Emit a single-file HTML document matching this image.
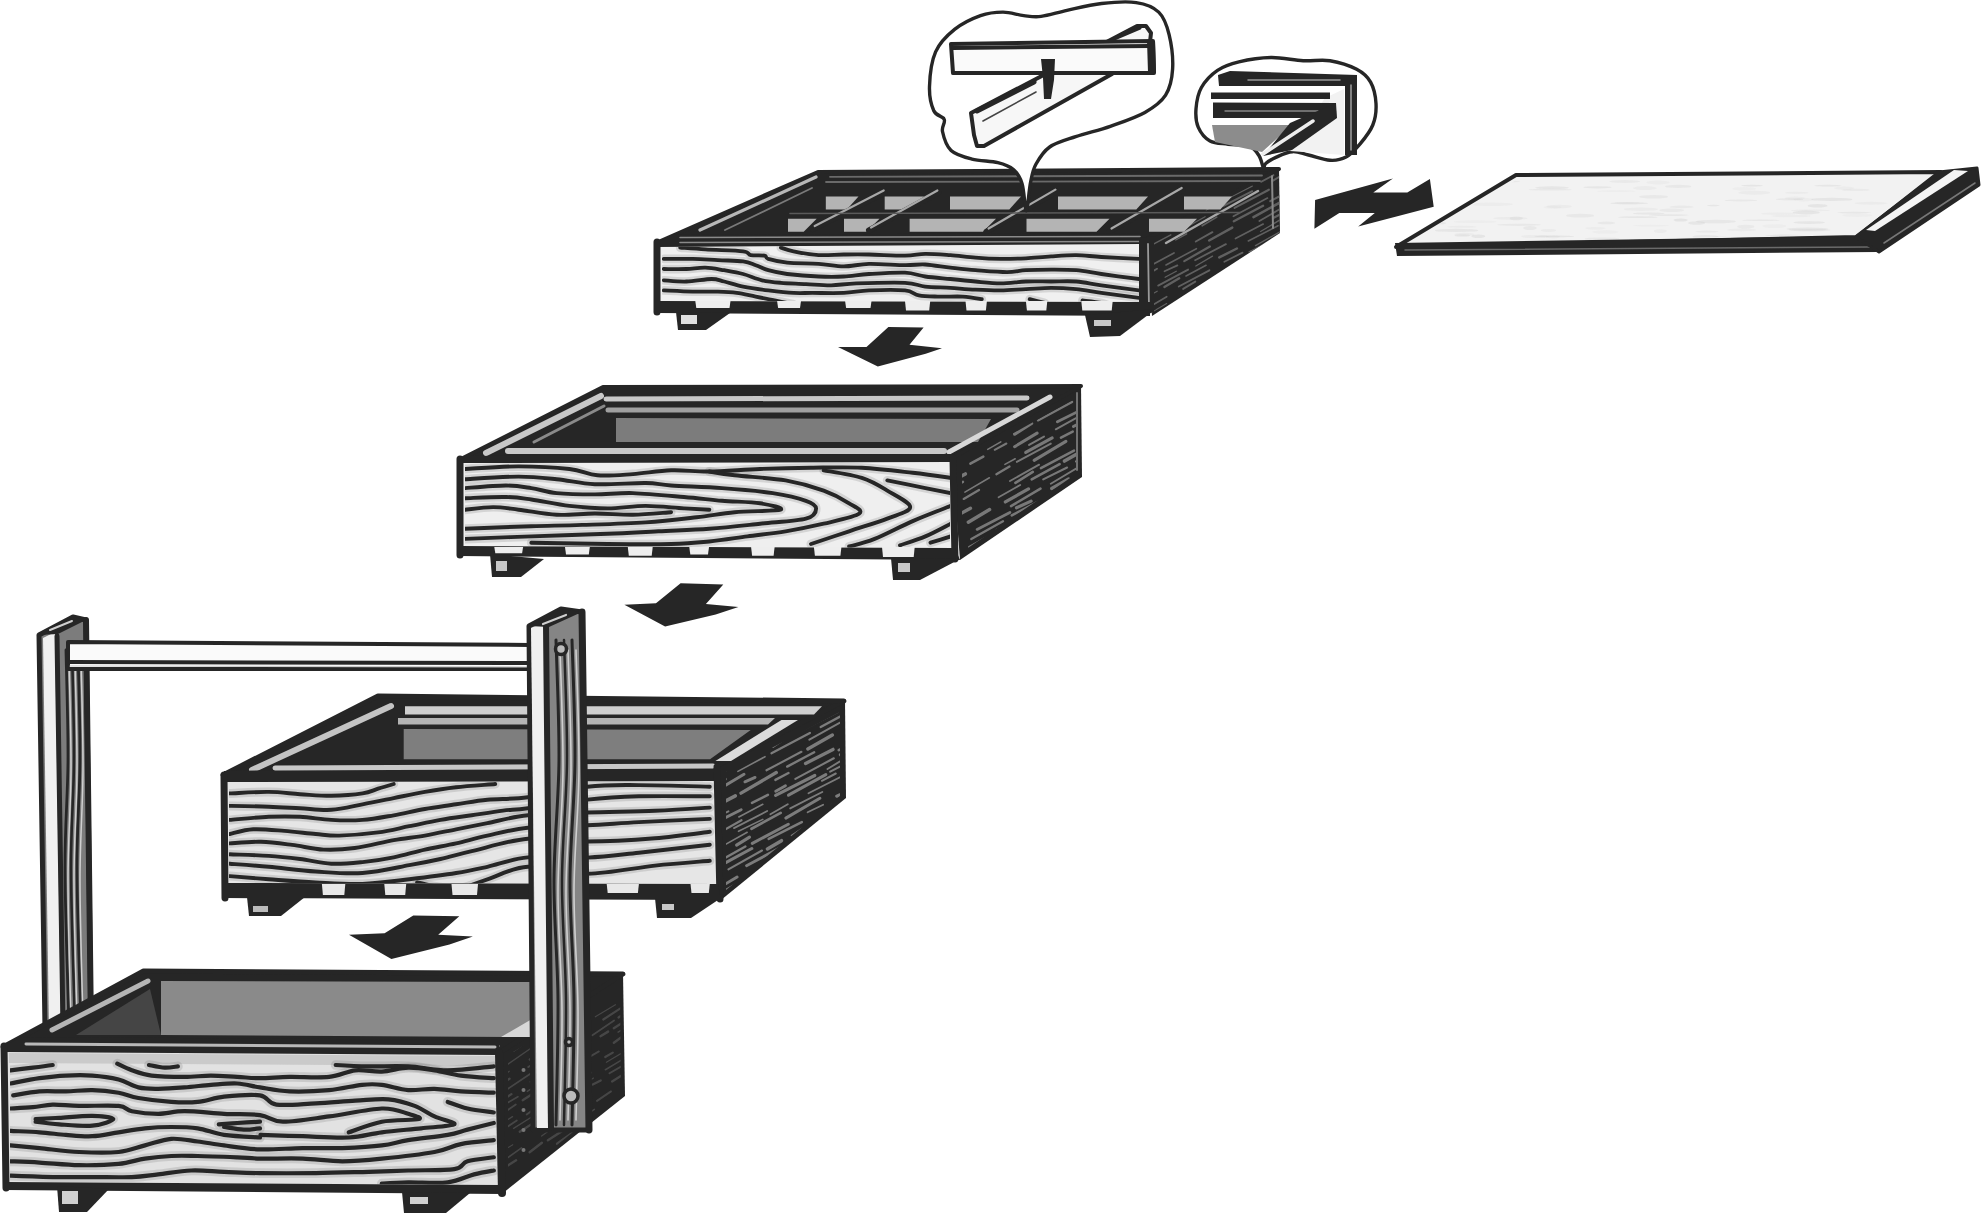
<!DOCTYPE html>
<html><head><meta charset="utf-8"><title>Box assembly</title>
<style>html,body{margin:0;padding:0;background:#fff;overflow:hidden;} svg{display:block;}</style>
</head><body>
<svg width="1986" height="1214" viewBox="0 0 1986 1214">
<defs><clipPath id="b1r"><polygon points="1147.0,237.0 1279.0,168.0 1280.0,233.0 1152.0,316.0"/></clipPath><clipPath id="b1f"><polygon points="662.0,247.0 1139.0,244.0 1139.0,302.0 662.0,301.0"/></clipPath><clipPath id="lidc"><polygon points="1520.0,178.0 1936.0,175.0 1853.0,234.0 1404.0,244.0"/></clipPath><clipPath id="b2r"><polygon points="962.0,462.0 1076.0,398.0 1076.0,474.0 962.0,552.0"/></clipPath><clipPath id="b2f"><polygon points="465.0,463.5 950.0,462.5 950.0,548.0 465.0,546.0"/></clipPath><clipPath id="b3r"><polygon points="726.0,772.0 840.0,712.0 840.0,796.0 726.0,890.0"/></clipPath><clipPath id="b3f"><polygon points="229.0,782.0 716.0,781.0 716.0,884.0 229.0,883.0"/></clipPath><clipPath id="b4r"><polygon points="508.0,1055.0 620.0,988.0 621.0,1093.0 508.0,1185.0"/></clipPath><clipPath id="b4f"><polygon points="10.0,1053.0 496.0,1056.0 497.0,1185.0 10.0,1182.0"/></clipPath></defs>
<rect width="1986" height="1214" fill="#ffffff"/>
<polygon points="1147.0,237.0 1279.0,168.0 1280.0,233.0 1152.0,316.0" fill="#262626" stroke="none" stroke-width="0" stroke-linejoin="round" />
<g clip-path="url(#b1r)" opacity="0.8" fill="none"><path d="M1136.4,97.3 L1160.0,84.8" stroke="#707070" stroke-width="1.3" stroke-linecap="round"/><path d="M1218.3,53.8 L1229.6,47.5" stroke="#707070" stroke-width="1.1" stroke-linecap="round"/><path d="M1239.1,42.3 L1273.8,22.6" stroke="#707070" stroke-width="1.1" stroke-linecap="round"/><path d="M1148.2,97.0 L1162.0,89.5" stroke="#707070" stroke-width="2.3" stroke-linecap="round"/><path d="M1170.4,85.4 L1192.9,72.9" stroke="#707070" stroke-width="1.5" stroke-linecap="round"/><path d="M1265.5,33.5 L1293.0,18.2" stroke="#707070" stroke-width="2.2" stroke-linecap="round"/><path d="M1181.5,84.0 L1202.7,73.6" stroke="#707070" stroke-width="2.2" stroke-linecap="round"/><path d="M1224.3,62.7 L1240.3,53.7" stroke="#707070" stroke-width="1.2" stroke-linecap="round"/><path d="M1245.8,50.7 L1261.1,41.3" stroke="#707070" stroke-width="1.9" stroke-linecap="round"/><path d="M1267.0,38.0 L1287.6,28.0" stroke="#707070" stroke-width="1.2" stroke-linecap="round"/><path d="M1181.0,90.5 L1197.9,82.4" stroke="#707070" stroke-width="2.0" stroke-linecap="round"/><path d="M1217.8,70.5 L1229.2,65.3" stroke="#707070" stroke-width="1.6" stroke-linecap="round"/><path d="M1251.1,53.2 L1267.7,43.6" stroke="#707070" stroke-width="1.9" stroke-linecap="round"/><path d="M1132.8,123.5 L1164.5,106.3" stroke="#707070" stroke-width="1.4" stroke-linecap="round"/><path d="M1238.0,65.1 L1262.7,53.6" stroke="#707070" stroke-width="1.4" stroke-linecap="round"/><path d="M1141.2,123.9 L1154.6,117.4" stroke="#707070" stroke-width="2.3" stroke-linecap="round"/><path d="M1205.7,89.7 L1219.9,81.2" stroke="#707070" stroke-width="1.3" stroke-linecap="round"/><path d="M1224.2,79.5 L1242.7,70.6" stroke="#707070" stroke-width="2.5" stroke-linecap="round"/><path d="M1257.0,61.4 L1283.2,47.1" stroke="#707070" stroke-width="1.1" stroke-linecap="round"/><path d="M1129.0,138.5 L1163.2,120.6" stroke="#707070" stroke-width="1.5" stroke-linecap="round"/><path d="M1167.6,118.2 L1202.8,99.6" stroke="#707070" stroke-width="2.1" stroke-linecap="round"/><path d="M1137.5,141.5 L1167.2,125.1" stroke="#707070" stroke-width="1.9" stroke-linecap="round"/><path d="M1186.7,115.8 L1211.6,102.1" stroke="#707070" stroke-width="2.1" stroke-linecap="round"/><path d="M1217.0,98.3 L1236.1,88.9" stroke="#707070" stroke-width="1.2" stroke-linecap="round"/><path d="M1253.3,78.9 L1282.0,63.0" stroke="#707070" stroke-width="2.1" stroke-linecap="round"/><path d="M1131.6,150.1 L1164.7,133.0" stroke="#707070" stroke-width="1.4" stroke-linecap="round"/><path d="M1173.3,127.9 L1186.6,121.6" stroke="#707070" stroke-width="1.6" stroke-linecap="round"/><path d="M1206.9,110.5 L1233.3,96.5" stroke="#707070" stroke-width="2.3" stroke-linecap="round"/><path d="M1240.8,90.9 L1259.8,81.4" stroke="#707070" stroke-width="2.3" stroke-linecap="round"/><path d="M1144.9,148.3 L1165.6,137.6" stroke="#707070" stroke-width="1.8" stroke-linecap="round"/><path d="M1210.8,113.7 L1231.6,100.9" stroke="#707070" stroke-width="2.1" stroke-linecap="round"/><path d="M1270.4,80.0 L1279.7,76.6" stroke="#707070" stroke-width="1.4" stroke-linecap="round"/><path d="M1148.6,151.5 L1174.0,138.1" stroke="#707070" stroke-width="2.5" stroke-linecap="round"/><path d="M1186.1,130.4 L1212.9,115.6" stroke="#707070" stroke-width="1.8" stroke-linecap="round"/><path d="M1220.5,112.2 L1248.2,98.0" stroke="#707070" stroke-width="1.8" stroke-linecap="round"/><path d="M1255.4,94.3 L1280.5,81.0" stroke="#707070" stroke-width="1.2" stroke-linecap="round"/><path d="M1128.3,170.5 L1140.6,162.8" stroke="#707070" stroke-width="1.9" stroke-linecap="round"/><path d="M1203.1,129.9 L1224.2,118.7" stroke="#707070" stroke-width="2.0" stroke-linecap="round"/><path d="M1275.5,91.0 L1310.2,71.4" stroke="#707070" stroke-width="2.4" stroke-linecap="round"/><path d="M1139.5,171.5 L1150.5,165.0" stroke="#707070" stroke-width="1.1" stroke-linecap="round"/><path d="M1221.2,127.4 L1233.7,120.9" stroke="#707070" stroke-width="2.1" stroke-linecap="round"/><path d="M1143.4,173.7 L1166.1,161.2" stroke="#707070" stroke-width="2.3" stroke-linecap="round"/><path d="M1175.3,156.9 L1198.9,144.3" stroke="#707070" stroke-width="1.4" stroke-linecap="round"/><path d="M1208.5,138.4 L1239.8,120.9" stroke="#707070" stroke-width="1.9" stroke-linecap="round"/><path d="M1261.2,110.9 L1283.3,98.1" stroke="#707070" stroke-width="1.7" stroke-linecap="round"/><path d="M1133.1,186.1 L1154.9,174.1" stroke="#707070" stroke-width="2.5" stroke-linecap="round"/><path d="M1171.3,164.7 L1204.5,147.4" stroke="#707070" stroke-width="2.3" stroke-linecap="round"/><path d="M1213.4,142.1 L1246.0,125.4" stroke="#707070" stroke-width="2.4" stroke-linecap="round"/><path d="M1258.5,117.8 L1270.8,111.3" stroke="#707070" stroke-width="2.1" stroke-linecap="round"/><path d="M1139.3,187.2 L1164.5,174.4" stroke="#707070" stroke-width="1.4" stroke-linecap="round"/><path d="M1170.4,171.0 L1184.4,163.5" stroke="#707070" stroke-width="1.8" stroke-linecap="round"/><path d="M1198.0,156.7 L1211.0,149.5" stroke="#707070" stroke-width="2.3" stroke-linecap="round"/><path d="M1218.7,145.7 L1243.6,132.4" stroke="#707070" stroke-width="2.4" stroke-linecap="round"/><path d="M1120.0,203.8 L1152.3,185.5" stroke="#707070" stroke-width="1.2" stroke-linecap="round"/><path d="M1201.1,158.8 L1213.2,152.6" stroke="#707070" stroke-width="2.1" stroke-linecap="round"/><path d="M1224.5,147.1 L1257.3,129.9" stroke="#707070" stroke-width="1.8" stroke-linecap="round"/><path d="M1278.8,117.1 L1305.7,102.5" stroke="#707070" stroke-width="1.9" stroke-linecap="round"/><path d="M1132.9,203.2 L1145.6,196.6" stroke="#707070" stroke-width="2.4" stroke-linecap="round"/><path d="M1169.4,182.8 L1190.4,171.6" stroke="#707070" stroke-width="1.7" stroke-linecap="round"/><path d="M1208.1,162.7 L1232.8,148.0" stroke="#707070" stroke-width="1.7" stroke-linecap="round"/><path d="M1237.1,145.7 L1265.4,131.2" stroke="#707070" stroke-width="1.1" stroke-linecap="round"/><path d="M1276.7,125.8 L1309.1,107.9" stroke="#707070" stroke-width="1.7" stroke-linecap="round"/><path d="M1134.9,208.6 L1169.6,189.6" stroke="#707070" stroke-width="2.2" stroke-linecap="round"/><path d="M1278.3,129.7 L1307.3,114.6" stroke="#707070" stroke-width="1.8" stroke-linecap="round"/><path d="M1139.3,210.5 L1165.0,196.1" stroke="#707070" stroke-width="1.6" stroke-linecap="round"/><path d="M1180.2,187.4 L1206.5,174.5" stroke="#707070" stroke-width="2.0" stroke-linecap="round"/><path d="M1265.8,141.1 L1275.2,136.3" stroke="#707070" stroke-width="1.2" stroke-linecap="round"/><path d="M1195.1,185.1 L1218.9,170.8" stroke="#707070" stroke-width="1.9" stroke-linecap="round"/><path d="M1274.5,141.7 L1287.5,134.9" stroke="#707070" stroke-width="1.2" stroke-linecap="round"/><path d="M1137.4,222.8 L1160.1,211.3" stroke="#707070" stroke-width="1.9" stroke-linecap="round"/><path d="M1174.9,202.0 L1191.2,193.7" stroke="#707070" stroke-width="1.1" stroke-linecap="round"/><path d="M1208.1,185.9 L1221.0,178.7" stroke="#707070" stroke-width="1.2" stroke-linecap="round"/><path d="M1238.6,169.5 L1273.5,149.7" stroke="#707070" stroke-width="1.8" stroke-linecap="round"/><path d="M1142.7,228.0 L1165.3,216.8" stroke="#707070" stroke-width="2.3" stroke-linecap="round"/><path d="M1186.2,204.5 L1210.9,190.7" stroke="#707070" stroke-width="1.2" stroke-linecap="round"/><path d="M1217.0,188.3 L1239.8,175.7" stroke="#707070" stroke-width="1.5" stroke-linecap="round"/><path d="M1120.1,245.5 L1154.0,228.8" stroke="#707070" stroke-width="2.2" stroke-linecap="round"/><path d="M1171.3,219.1 L1196.6,205.3" stroke="#707070" stroke-width="1.9" stroke-linecap="round"/><path d="M1207.0,199.0 L1232.6,186.7" stroke="#707070" stroke-width="2.4" stroke-linecap="round"/><path d="M1250.1,175.8 L1282.1,158.9" stroke="#707070" stroke-width="2.0" stroke-linecap="round"/><path d="M1133.8,243.6 L1144.5,238.0" stroke="#707070" stroke-width="1.6" stroke-linecap="round"/><path d="M1150.0,235.2 L1171.5,223.9" stroke="#707070" stroke-width="1.2" stroke-linecap="round"/><path d="M1179.3,219.6 L1191.2,212.0" stroke="#707070" stroke-width="1.7" stroke-linecap="round"/><path d="M1209.8,202.9 L1225.4,195.1" stroke="#707070" stroke-width="1.5" stroke-linecap="round"/><path d="M1138.9,245.6 L1150.3,240.5" stroke="#707070" stroke-width="1.8" stroke-linecap="round"/><path d="M1206.3,209.3 L1217.1,204.0" stroke="#707070" stroke-width="2.1" stroke-linecap="round"/><path d="M1225.0,199.8 L1252.1,186.0" stroke="#707070" stroke-width="1.6" stroke-linecap="round"/><path d="M1261.2,181.5 L1273.1,175.1" stroke="#707070" stroke-width="2.4" stroke-linecap="round"/><path d="M1125.9,260.1 L1142.8,251.0" stroke="#707070" stroke-width="1.4" stroke-linecap="round"/><path d="M1152.5,244.7 L1170.8,234.8" stroke="#707070" stroke-width="1.4" stroke-linecap="round"/><path d="M1181.4,230.0 L1205.1,216.7" stroke="#707070" stroke-width="1.3" stroke-linecap="round"/><path d="M1223.5,205.8 L1252.3,191.2" stroke="#707070" stroke-width="1.9" stroke-linecap="round"/><path d="M1272.2,181.1 L1296.0,166.8" stroke="#707070" stroke-width="1.9" stroke-linecap="round"/><path d="M1175.7,240.0 L1186.7,233.8" stroke="#707070" stroke-width="1.4" stroke-linecap="round"/><path d="M1202.2,225.8 L1216.8,217.1" stroke="#707070" stroke-width="1.6" stroke-linecap="round"/><path d="M1234.6,207.9 L1268.9,189.7" stroke="#707070" stroke-width="2.1" stroke-linecap="round"/><path d="M1233.4,216.3 L1267.5,198.1" stroke="#707070" stroke-width="1.7" stroke-linecap="round"/><path d="M1145.6,268.2 L1174.0,253.0" stroke="#707070" stroke-width="1.7" stroke-linecap="round"/><path d="M1195.8,241.5 L1212.4,232.2" stroke="#707070" stroke-width="2.0" stroke-linecap="round"/><path d="M1233.8,221.3 L1263.1,205.8" stroke="#707070" stroke-width="2.4" stroke-linecap="round"/><path d="M1270.3,201.2 L1280.1,195.9" stroke="#707070" stroke-width="2.1" stroke-linecap="round"/><path d="M1143.3,277.0 L1157.0,268.7" stroke="#707070" stroke-width="1.9" stroke-linecap="round"/><path d="M1166.0,265.0 L1196.4,248.7" stroke="#707070" stroke-width="1.6" stroke-linecap="round"/><path d="M1209.1,240.5 L1232.3,227.6" stroke="#707070" stroke-width="2.4" stroke-linecap="round"/><path d="M1253.5,217.2 L1283.5,200.5" stroke="#707070" stroke-width="2.5" stroke-linecap="round"/><path d="M1142.9,283.9 L1152.0,278.8" stroke="#707070" stroke-width="2.0" stroke-linecap="round"/><path d="M1164.5,271.2 L1177.4,265.4" stroke="#707070" stroke-width="1.8" stroke-linecap="round"/><path d="M1184.3,261.1 L1209.9,246.5" stroke="#707070" stroke-width="2.2" stroke-linecap="round"/><path d="M1259.4,221.0 L1289.9,203.3" stroke="#707070" stroke-width="1.8" stroke-linecap="round"/><path d="M1121.3,301.3 L1145.6,287.5" stroke="#707070" stroke-width="2.4" stroke-linecap="round"/><path d="M1165.1,277.3 L1176.3,271.2" stroke="#707070" stroke-width="1.3" stroke-linecap="round"/><path d="M1195.1,260.2 L1225.9,244.1" stroke="#707070" stroke-width="1.8" stroke-linecap="round"/><path d="M1235.5,238.5 L1263.2,224.1" stroke="#707070" stroke-width="1.7" stroke-linecap="round"/><path d="M1273.7,217.7 L1308.0,200.0" stroke="#707070" stroke-width="2.1" stroke-linecap="round"/><path d="M1158.2,285.6 L1188.1,269.6" stroke="#707070" stroke-width="1.9" stroke-linecap="round"/><path d="M1195.8,266.0 L1212.5,256.2" stroke="#707070" stroke-width="1.4" stroke-linecap="round"/><path d="M1260.6,231.5 L1284.3,217.3" stroke="#707070" stroke-width="1.3" stroke-linecap="round"/><path d="M1129.7,306.5 L1157.2,291.2" stroke="#707070" stroke-width="1.2" stroke-linecap="round"/><path d="M1164.4,287.0 L1179.2,278.3" stroke="#707070" stroke-width="2.4" stroke-linecap="round"/><path d="M1186.0,276.0 L1206.1,265.3" stroke="#707070" stroke-width="1.6" stroke-linecap="round"/><path d="M1219.3,257.4 L1236.9,248.5" stroke="#707070" stroke-width="2.5" stroke-linecap="round"/><path d="M1248.3,241.0 L1278.0,225.7" stroke="#707070" stroke-width="1.6" stroke-linecap="round"/><path d="M1178.8,286.5 L1209.4,270.3" stroke="#707070" stroke-width="1.9" stroke-linecap="round"/><path d="M1224.4,261.8 L1242.5,252.6" stroke="#707070" stroke-width="1.8" stroke-linecap="round"/><path d="M1255.5,245.6 L1283.2,230.0" stroke="#707070" stroke-width="1.4" stroke-linecap="round"/><path d="M1142.7,310.8 L1166.7,296.7" stroke="#707070" stroke-width="1.7" stroke-linecap="round"/><path d="M1183.2,288.9 L1195.3,281.6" stroke="#707070" stroke-width="1.9" stroke-linecap="round"/><path d="M1249.2,251.8 L1284.2,234.3" stroke="#707070" stroke-width="1.5" stroke-linecap="round"/><path d="M1142.8,317.4 L1166.7,303.5" stroke="#707070" stroke-width="1.1" stroke-linecap="round"/><path d="M1221.0,275.6 L1247.2,260.8" stroke="#707070" stroke-width="1.9" stroke-linecap="round"/><path d="M1256.7,255.9 L1286.8,239.0" stroke="#707070" stroke-width="1.6" stroke-linecap="round"/><path d="M1144.8,322.1 L1167.3,310.6" stroke="#707070" stroke-width="1.1" stroke-linecap="round"/><path d="M1209.2,288.0 L1233.9,274.9" stroke="#707070" stroke-width="2.2" stroke-linecap="round"/><path d="M1124.3,341.5 L1144.0,330.2" stroke="#707070" stroke-width="1.8" stroke-linecap="round"/><path d="M1155.8,322.9 L1176.0,313.3" stroke="#707070" stroke-width="2.4" stroke-linecap="round"/><path d="M1239.2,278.1 L1256.0,269.7" stroke="#707070" stroke-width="1.8" stroke-linecap="round"/><path d="M1270.7,261.9 L1290.0,251.0" stroke="#707070" stroke-width="1.5" stroke-linecap="round"/><path d="M1173.9,320.2 L1200.3,304.8" stroke="#707070" stroke-width="2.2" stroke-linecap="round"/><path d="M1219.9,295.4 L1243.7,281.3" stroke="#707070" stroke-width="1.9" stroke-linecap="round"/><path d="M1264.0,270.7 L1297.9,252.5" stroke="#707070" stroke-width="1.2" stroke-linecap="round"/><path d="M1125.5,352.2 L1144.8,341.8" stroke="#707070" stroke-width="2.4" stroke-linecap="round"/><path d="M1185.2,320.6 L1219.8,303.2" stroke="#707070" stroke-width="2.4" stroke-linecap="round"/><path d="M1232.3,295.5 L1246.3,287.4" stroke="#707070" stroke-width="2.3" stroke-linecap="round"/><path d="M1265.3,277.2 L1300.4,259.7" stroke="#707070" stroke-width="1.2" stroke-linecap="round"/><path d="M1165.5,337.0 L1193.1,321.1" stroke="#707070" stroke-width="1.2" stroke-linecap="round"/><path d="M1199.6,317.2 L1214.3,309.2" stroke="#707070" stroke-width="1.4" stroke-linecap="round"/><path d="M1223.8,305.1 L1250.2,291.3" stroke="#707070" stroke-width="1.9" stroke-linecap="round"/><path d="M1173.0,337.8 L1193.5,327.9" stroke="#707070" stroke-width="1.5" stroke-linecap="round"/><path d="M1207.0,320.0 L1222.4,312.6" stroke="#707070" stroke-width="1.4" stroke-linecap="round"/><path d="M1240.9,303.0 L1257.0,294.4" stroke="#707070" stroke-width="1.1" stroke-linecap="round"/><path d="M1270.9,286.8 L1291.9,274.7" stroke="#707070" stroke-width="1.3" stroke-linecap="round"/><path d="M1240.6,308.7 L1254.0,300.8" stroke="#707070" stroke-width="1.7" stroke-linecap="round"/><path d="M1135.3,369.3 L1150.0,362.5" stroke="#707070" stroke-width="2.1" stroke-linecap="round"/><path d="M1164.4,353.9 L1188.3,340.7" stroke="#707070" stroke-width="1.8" stroke-linecap="round"/><path d="M1208.1,331.7 L1228.3,319.3" stroke="#707070" stroke-width="2.4" stroke-linecap="round"/><path d="M1277.9,292.6 L1293.0,285.0" stroke="#707070" stroke-width="2.0" stroke-linecap="round"/><path d="M1172.0,357.0 L1185.3,350.1" stroke="#707070" stroke-width="2.2" stroke-linecap="round"/><path d="M1193.9,344.2 L1204.3,340.1" stroke="#707070" stroke-width="1.1" stroke-linecap="round"/><path d="M1255.2,310.9 L1267.8,304.5" stroke="#707070" stroke-width="2.4" stroke-linecap="round"/><path d="M1280.0,298.3 L1292.5,290.8" stroke="#707070" stroke-width="1.1" stroke-linecap="round"/><path d="M1127.1,388.7 L1155.3,372.9" stroke="#707070" stroke-width="1.7" stroke-linecap="round"/><path d="M1163.4,369.9 L1196.9,351.2" stroke="#707070" stroke-width="1.1" stroke-linecap="round"/><path d="M1207.4,345.0 L1226.9,335.2" stroke="#707070" stroke-width="2.3" stroke-linecap="round"/><path d="M1242.6,326.2 L1267.0,313.9" stroke="#707070" stroke-width="1.6" stroke-linecap="round"/><path d="M1143.5,386.0 L1161.5,376.4" stroke="#707070" stroke-width="1.4" stroke-linecap="round"/><path d="M1168.8,374.1 L1190.0,362.1" stroke="#707070" stroke-width="2.3" stroke-linecap="round"/><path d="M1199.5,356.9 L1213.7,348.6" stroke="#707070" stroke-width="1.5" stroke-linecap="round"/><path d="M1224.6,342.8 L1233.9,338.9" stroke="#707070" stroke-width="2.1" stroke-linecap="round"/><path d="M1241.2,335.0 L1257.1,325.3" stroke="#707070" stroke-width="2.2" stroke-linecap="round"/><path d="M1267.6,319.5 L1295.5,304.6" stroke="#707070" stroke-width="1.2" stroke-linecap="round"/><path d="M1140.2,395.7 L1169.4,379.6" stroke="#707070" stroke-width="1.1" stroke-linecap="round"/><path d="M1182.8,372.6 L1195.5,365.9" stroke="#707070" stroke-width="1.9" stroke-linecap="round"/><path d="M1210.3,358.6 L1222.7,351.8" stroke="#707070" stroke-width="1.3" stroke-linecap="round"/><path d="M1239.4,342.3 L1253.6,334.6" stroke="#707070" stroke-width="2.3" stroke-linecap="round"/><path d="M1262.6,329.4 L1277.4,321.1" stroke="#707070" stroke-width="1.1" stroke-linecap="round"/></g>
<polyline points="1166.0,243.0 1258.0,191.0" fill="none" stroke="#a8a8a8" stroke-width="2.5" stroke-linecap="round" stroke-linejoin="round" />
<polyline points="1272.0,176.0 1273.0,228.0" fill="none" stroke="#8a8a8a" stroke-width="2" stroke-linecap="round" stroke-linejoin="round" />
<polygon points="656.0,243.0 818.0,172.0 1279.0,169.0 1148.0,238.0" fill="#262626" stroke="#262626" stroke-width="4" stroke-linejoin="round" />
<polygon points="825.8,196.4 858.5,196.4 846.8,209.5 825.8,209.5" fill="#b4b4b4" stroke="none" stroke-width="0" stroke-linejoin="round" />
<polygon points="884.7,196.4 924.0,196.4 912.3,209.5 884.7,209.5" fill="#b4b4b4" stroke="none" stroke-width="0" stroke-linejoin="round" />
<polygon points="950.0,196.4 1021.0,196.4 1009.3,209.5 950.0,209.5" fill="#b4b4b4" stroke="none" stroke-width="0" stroke-linejoin="round" />
<polygon points="1058.0,196.4 1148.0,196.4 1136.3,209.5 1058.0,209.5" fill="#b4b4b4" stroke="none" stroke-width="0" stroke-linejoin="round" />
<polygon points="1184.0,196.4 1232.0,196.4 1220.3,209.5 1184.0,209.5" fill="#b4b4b4" stroke="none" stroke-width="0" stroke-linejoin="round" />
<polygon points="788.0,218.7 816.7,218.7 803.7,231.8 788.0,231.8" fill="#b4b4b4" stroke="none" stroke-width="0" stroke-linejoin="round" />
<polygon points="844.0,218.7 879.5,218.7 866.5,231.8 844.0,231.8" fill="#b4b4b4" stroke="none" stroke-width="0" stroke-linejoin="round" />
<polygon points="909.6,218.7 996.0,218.7 983.0,231.8 909.6,231.8" fill="#b4b4b4" stroke="none" stroke-width="0" stroke-linejoin="round" />
<polygon points="1026.5,218.7 1109.5,218.7 1096.5,231.8 1026.5,231.8" fill="#b4b4b4" stroke="none" stroke-width="0" stroke-linejoin="round" />
<polygon points="1149.0,218.7 1197.0,218.7 1184.0,231.8 1149.0,231.8" fill="#b4b4b4" stroke="none" stroke-width="0" stroke-linejoin="round" />
<polyline points="812.7,229.0 884.7,192.5" fill="none" stroke="#262626" stroke-width="6" stroke-linecap="round" stroke-linejoin="round" />
<polyline points="814.7,226.0 883.7,190.5" fill="none" stroke="#a8a8a8" stroke-width="2.2" stroke-linecap="round" stroke-linejoin="round" />
<polyline points="869.0,230.5 938.4,192.5" fill="none" stroke="#262626" stroke-width="6" stroke-linecap="round" stroke-linejoin="round" />
<polyline points="871.0,227.5 937.4,190.5" fill="none" stroke="#a8a8a8" stroke-width="2.2" stroke-linecap="round" stroke-linejoin="round" />
<polyline points="986.6,231.5 1056.4,191.6" fill="none" stroke="#262626" stroke-width="6" stroke-linecap="round" stroke-linejoin="round" />
<polyline points="988.6,228.5 1055.4,189.6" fill="none" stroke="#a8a8a8" stroke-width="2.2" stroke-linecap="round" stroke-linejoin="round" />
<polyline points="1109.5,231.5 1182.7,190.0" fill="none" stroke="#262626" stroke-width="6" stroke-linecap="round" stroke-linejoin="round" />
<polyline points="1111.5,228.5 1181.7,188.0" fill="none" stroke="#a8a8a8" stroke-width="2.2" stroke-linecap="round" stroke-linejoin="round" />
<polyline points="700.0,230.0 816.0,177.0" fill="none" stroke="#b8b8b8" stroke-width="3.2" stroke-linecap="round" stroke-linejoin="round" />
<polyline points="725.0,230.0 812.0,188.0" fill="none" stroke="#7a7a7a" stroke-width="1.8" stroke-linecap="round" stroke-linejoin="round" />
<polyline points="830.0,176.8 1262.0,175.5" fill="none" stroke="#6a6a6a" stroke-width="1.8" stroke-linecap="round" stroke-linejoin="round" />
<polyline points="826.0,182.0 1260.0,181.0" fill="none" stroke="#6a6a6a" stroke-width="1.8" stroke-linecap="round" stroke-linejoin="round" />
<polyline points="790.0,213.5 1240.0,212.5" fill="none" stroke="#5a5a5a" stroke-width="1.6" stroke-linecap="round" stroke-linejoin="round" />
<polygon points="657.0,242.0 672.0,235.0 1149.0,233.0 1149.0,248.0 657.0,250.0" fill="#262626" stroke="none" stroke-width="0" stroke-linejoin="round" />
<polyline points="680.0,237.5 1140.0,236.5" fill="none" stroke="#8a8a8a" stroke-width="1.6" stroke-linecap="round" stroke-linejoin="round" />
<polyline points="680.0,242.5 1140.0,241.5" fill="none" stroke="#8a8a8a" stroke-width="1.6" stroke-linecap="round" stroke-linejoin="round" />
<polygon points="657.0,247.0 1141.0,244.0 1141.0,302.0 657.0,301.0" fill="#f0f0f0" stroke="none" stroke-width="0" stroke-linejoin="round" />
<g clip-path="url(#b1f)" fill="none" stroke-linecap="round" stroke-linejoin="round"><path d="M780.9,247.6 C783.0,248.2 787.2,250.1 793.5,251.3 C799.8,252.6 810.3,254.6 818.6,255.1 C827.0,255.6 835.4,254.6 843.8,254.5 C852.2,254.4 858.8,254.3 869.0,254.5 C879.2,254.7 895.6,255.8 905.0,255.7 C914.4,255.6 917.6,254.0 925.2,253.8 C932.7,253.7 942.0,254.5 950.4,255.1 C958.7,255.7 967.1,257.0 975.5,257.6 C983.9,258.3 992.3,258.8 1000.7,258.9 C1009.1,259.0 1017.5,258.7 1025.9,258.3 C1034.3,257.8 1042.7,256.9 1051.1,256.4 C1059.4,255.8 1067.8,255.0 1076.2,255.1 C1084.6,255.2 1090.9,256.4 1101.4,257.0 C1111.9,257.6 1132.9,258.6 1139.2,258.9" stroke="#777" stroke-width="8.7" opacity="0.22"/><path d="M680.2,247.6 C684.4,247.9 694.9,248.8 705.4,249.4 C715.8,250.1 735.6,250.4 743.1,251.3 C750.7,252.3 747.1,254.4 750.7,255.1 C754.2,255.8 761.6,255.1 764.5,255.7 C767.5,256.4 764.5,257.7 768.3,258.9 C772.1,260.0 778.8,261.8 787.2,262.7 C795.6,263.5 809.2,263.3 818.6,263.9 C828.1,264.5 835.4,266.4 843.8,266.4 C852.2,266.4 858.8,264.1 869.0,263.9 C879.2,263.7 895.6,265.1 905.0,265.2 C914.4,265.3 917.6,264.1 925.2,264.5 C932.7,265.0 942.0,266.7 950.4,267.7 C958.7,268.6 966.1,269.5 975.5,270.2 C985.0,270.9 998.6,272.1 1007.0,272.1 C1015.4,272.1 1018.5,270.6 1025.9,270.2 C1033.2,269.8 1042.7,269.6 1051.1,269.6 C1059.4,269.6 1067.8,269.5 1076.2,270.2 C1084.6,270.9 1090.9,272.5 1101.4,274.0 C1111.9,275.5 1132.9,278.2 1139.2,279.0" stroke="#777" stroke-width="8.7" opacity="0.22"/><path d="M663.8,258.9 C668.6,258.9 683.7,258.7 692.8,258.9 C701.8,259.1 709.5,259.7 717.9,260.1 C726.3,260.6 736.8,260.6 743.1,261.4 C749.4,262.2 751.5,263.7 755.7,265.2 C759.9,266.6 763.0,268.7 768.3,270.2 C773.5,271.7 778.8,272.9 787.2,274.0 C795.6,275.0 809.2,276.1 818.6,276.5 C828.1,276.9 835.4,276.9 843.8,276.5 C852.2,276.1 858.8,274.6 869.0,274.0 C879.2,273.4 895.6,272.3 905.0,272.7 C914.4,273.1 917.6,275.5 925.2,276.5 C932.7,277.6 942.0,278.2 950.4,279.0 C958.7,279.9 967.1,280.8 975.5,281.5 C983.9,282.3 992.3,283.4 1000.7,283.4 C1009.1,283.4 1017.5,281.9 1025.9,281.5 C1034.3,281.2 1042.7,281.5 1051.1,281.5 C1059.4,281.5 1067.8,280.9 1076.2,281.5 C1084.6,282.2 1090.9,283.8 1101.4,285.3 C1111.9,286.8 1132.9,289.5 1139.2,290.4" stroke="#777" stroke-width="8.7" opacity="0.22"/><path d="M663.8,269.0 C667.6,269.0 679.5,269.2 686.5,269.0 C693.4,268.7 699.1,267.5 705.4,267.7 C711.6,267.9 717.9,269.2 724.2,270.2 C730.5,271.3 736.8,272.3 743.1,274.0 C749.4,275.7 755.7,278.8 762.0,280.3 C768.3,281.8 773.5,282.2 780.9,282.8 C788.2,283.4 797.7,283.6 806.1,284.1 C814.4,284.5 822.8,285.4 831.2,285.3 C839.6,285.2 844.1,283.8 856.4,283.4 C868.7,283.0 893.5,282.3 905.0,282.8 C916.5,283.3 917.6,285.7 925.2,286.6 C932.7,287.4 942.0,287.3 950.4,287.8 C958.7,288.4 967.1,289.3 975.5,289.7 C983.9,290.1 992.3,290.5 1000.7,290.4 C1009.1,290.2 1017.5,289.5 1025.9,289.1 C1034.3,288.7 1042.7,287.8 1051.1,287.8 C1059.4,287.8 1067.8,288.3 1076.2,289.1 C1084.6,289.9 1090.9,291.4 1101.4,292.9 C1111.9,294.3 1132.9,297.1 1139.2,297.9" stroke="#777" stroke-width="8.7" opacity="0.22"/><path d="M663.8,280.3 C667.6,280.5 678.5,281.8 686.5,281.5 C694.4,281.3 705.4,279.0 711.6,279.0 C717.9,279.0 719.0,280.3 724.2,281.5 C729.5,282.8 735.8,285.1 743.1,286.6 C750.5,288.0 759.9,289.3 768.3,290.4 C776.7,291.4 786.1,292.5 793.5,292.9 C800.8,293.3 804.0,292.9 812.4,292.9 C820.7,292.9 834.4,293.3 843.8,292.9 C853.3,292.5 858.8,290.8 869.0,290.4 C879.2,289.9 896.7,289.5 905.0,290.4 C913.3,291.2 913.4,294.3 918.9,295.4 C924.3,296.4 930.4,296.4 937.8,296.6 C945.1,296.9 955.6,296.2 962.9,296.6 C970.3,297.1 978.7,298.7 981.8,299.2" stroke="#777" stroke-width="8.7" opacity="0.22"/><path d="M663.8,290.4 C668.6,290.6 683.7,291.4 692.8,291.6 C701.8,291.8 710.6,291.4 717.9,291.6 C725.3,291.8 730.5,292.0 736.8,292.9 C743.1,293.7 749.4,295.4 755.7,296.6 C762.0,297.9 768.3,299.2 774.6,300.4 C780.9,301.7 790.3,303.6 793.5,304.2" stroke="#777" stroke-width="8.7" opacity="0.22"/><path d="M1082.5,300.4 C1085.7,300.8 1096.2,301.7 1101.4,302.9 C1106.7,304.2 1111.9,307.1 1114.0,308.0" stroke="#777" stroke-width="8.7" opacity="0.22"/><path d="M1029.7,299.2 C1032.2,299.8 1042.2,302.3 1044.8,302.9" stroke="#777" stroke-width="8.7" opacity="0.22"/></g>
<g clip-path="url(#b1f)" fill="none" stroke-linecap="round" stroke-linejoin="round"><path d="M780.9,247.6 C783.0,248.2 787.2,250.1 793.5,251.3 C799.8,252.6 810.3,254.6 818.6,255.1 C827.0,255.6 835.4,254.6 843.8,254.5 C852.2,254.4 858.8,254.3 869.0,254.5 C879.2,254.7 895.6,255.8 905.0,255.7 C914.4,255.6 917.6,254.0 925.2,253.8 C932.7,253.7 942.0,254.5 950.4,255.1 C958.7,255.7 967.1,257.0 975.5,257.6 C983.9,258.3 992.3,258.8 1000.7,258.9 C1009.1,259.0 1017.5,258.7 1025.9,258.3 C1034.3,257.8 1042.7,256.9 1051.1,256.4 C1059.4,255.8 1067.8,255.0 1076.2,255.1 C1084.6,255.2 1090.9,256.4 1101.4,257.0 C1111.9,257.6 1132.9,258.6 1139.2,258.9" stroke="#262626" stroke-width="3.8"/><path d="M680.2,247.6 C684.4,247.9 694.9,248.8 705.4,249.4 C715.8,250.1 735.6,250.4 743.1,251.3 C750.7,252.3 747.1,254.4 750.7,255.1 C754.2,255.8 761.6,255.1 764.5,255.7 C767.5,256.4 764.5,257.7 768.3,258.9 C772.1,260.0 778.8,261.8 787.2,262.7 C795.6,263.5 809.2,263.3 818.6,263.9 C828.1,264.5 835.4,266.4 843.8,266.4 C852.2,266.4 858.8,264.1 869.0,263.9 C879.2,263.7 895.6,265.1 905.0,265.2 C914.4,265.3 917.6,264.1 925.2,264.5 C932.7,265.0 942.0,266.7 950.4,267.7 C958.7,268.6 966.1,269.5 975.5,270.2 C985.0,270.9 998.6,272.1 1007.0,272.1 C1015.4,272.1 1018.5,270.6 1025.9,270.2 C1033.2,269.8 1042.7,269.6 1051.1,269.6 C1059.4,269.6 1067.8,269.5 1076.2,270.2 C1084.6,270.9 1090.9,272.5 1101.4,274.0 C1111.9,275.5 1132.9,278.2 1139.2,279.0" stroke="#262626" stroke-width="3.8"/><path d="M663.8,258.9 C668.6,258.9 683.7,258.7 692.8,258.9 C701.8,259.1 709.5,259.7 717.9,260.1 C726.3,260.6 736.8,260.6 743.1,261.4 C749.4,262.2 751.5,263.7 755.7,265.2 C759.9,266.6 763.0,268.7 768.3,270.2 C773.5,271.7 778.8,272.9 787.2,274.0 C795.6,275.0 809.2,276.1 818.6,276.5 C828.1,276.9 835.4,276.9 843.8,276.5 C852.2,276.1 858.8,274.6 869.0,274.0 C879.2,273.4 895.6,272.3 905.0,272.7 C914.4,273.1 917.6,275.5 925.2,276.5 C932.7,277.6 942.0,278.2 950.4,279.0 C958.7,279.9 967.1,280.8 975.5,281.5 C983.9,282.3 992.3,283.4 1000.7,283.4 C1009.1,283.4 1017.5,281.9 1025.9,281.5 C1034.3,281.2 1042.7,281.5 1051.1,281.5 C1059.4,281.5 1067.8,280.9 1076.2,281.5 C1084.6,282.2 1090.9,283.8 1101.4,285.3 C1111.9,286.8 1132.9,289.5 1139.2,290.4" stroke="#262626" stroke-width="3.8"/><path d="M663.8,269.0 C667.6,269.0 679.5,269.2 686.5,269.0 C693.4,268.7 699.1,267.5 705.4,267.7 C711.6,267.9 717.9,269.2 724.2,270.2 C730.5,271.3 736.8,272.3 743.1,274.0 C749.4,275.7 755.7,278.8 762.0,280.3 C768.3,281.8 773.5,282.2 780.9,282.8 C788.2,283.4 797.7,283.6 806.1,284.1 C814.4,284.5 822.8,285.4 831.2,285.3 C839.6,285.2 844.1,283.8 856.4,283.4 C868.7,283.0 893.5,282.3 905.0,282.8 C916.5,283.3 917.6,285.7 925.2,286.6 C932.7,287.4 942.0,287.3 950.4,287.8 C958.7,288.4 967.1,289.3 975.5,289.7 C983.9,290.1 992.3,290.5 1000.7,290.4 C1009.1,290.2 1017.5,289.5 1025.9,289.1 C1034.3,288.7 1042.7,287.8 1051.1,287.8 C1059.4,287.8 1067.8,288.3 1076.2,289.1 C1084.6,289.9 1090.9,291.4 1101.4,292.9 C1111.9,294.3 1132.9,297.1 1139.2,297.9" stroke="#262626" stroke-width="3.8"/><path d="M663.8,280.3 C667.6,280.5 678.5,281.8 686.5,281.5 C694.4,281.3 705.4,279.0 711.6,279.0 C717.9,279.0 719.0,280.3 724.2,281.5 C729.5,282.8 735.8,285.1 743.1,286.6 C750.5,288.0 759.9,289.3 768.3,290.4 C776.7,291.4 786.1,292.5 793.5,292.9 C800.8,293.3 804.0,292.9 812.4,292.9 C820.7,292.9 834.4,293.3 843.8,292.9 C853.3,292.5 858.8,290.8 869.0,290.4 C879.2,289.9 896.7,289.5 905.0,290.4 C913.3,291.2 913.4,294.3 918.9,295.4 C924.3,296.4 930.4,296.4 937.8,296.6 C945.1,296.9 955.6,296.2 962.9,296.6 C970.3,297.1 978.7,298.7 981.8,299.2" stroke="#262626" stroke-width="3.8"/><path d="M663.8,290.4 C668.6,290.6 683.7,291.4 692.8,291.6 C701.8,291.8 710.6,291.4 717.9,291.6 C725.3,291.8 730.5,292.0 736.8,292.9 C743.1,293.7 749.4,295.4 755.7,296.6 C762.0,297.9 768.3,299.2 774.6,300.4 C780.9,301.7 790.3,303.6 793.5,304.2" stroke="#262626" stroke-width="3.8"/><path d="M1082.5,300.4 C1085.7,300.8 1096.2,301.7 1101.4,302.9 C1106.7,304.2 1111.9,307.1 1114.0,308.0" stroke="#262626" stroke-width="3.8"/><path d="M1029.7,299.2 C1032.2,299.8 1042.2,302.3 1044.8,302.9" stroke="#262626" stroke-width="3.8"/></g>
<polyline points="657.0,242.0 657.0,312.0" fill="none" stroke="#262626" stroke-width="7" stroke-linecap="round" stroke-linejoin="round" />
<polygon points="1139.0,238.0 1154.0,236.0 1154.0,312.0 1139.0,316.0" fill="#262626" stroke="none" stroke-width="0" stroke-linejoin="round" />
<polyline points="1148.0,244.0 1149.0,308.0" fill="none" stroke="#9a9a9a" stroke-width="1.8" stroke-linecap="round" stroke-linejoin="round" />
<polygon points="657.0,301.0 1150.0,302.0 1150.0,316.0 657.0,313.0" fill="#262626" stroke="none" stroke-width="0" stroke-linejoin="round" />
<polygon points="695.3,301.0 730.5,301.0 729.5,308.0 696.3,308.0" fill="#eeeeee" stroke="none" stroke-width="0" stroke-linejoin="round" />
<polygon points="777.1,301.0 801.0,301.0 800.0,308.0 778.1,308.0" fill="#eeeeee" stroke="none" stroke-width="0" stroke-linejoin="round" />
<polygon points="845.1,301.0 871.5,301.0 870.5,308.0 846.1,308.0" fill="#eeeeee" stroke="none" stroke-width="0" stroke-linejoin="round" />
<polygon points="905.0,301.0 930.2,301.0 929.2,310.5 906.0,310.5" fill="#eeeeee" stroke="none" stroke-width="0" stroke-linejoin="round" />
<polygon points="965.5,301.0 986.9,301.0 985.9,310.5 966.5,310.5" fill="#eeeeee" stroke="none" stroke-width="0" stroke-linejoin="round" />
<polygon points="1025.9,301.0 1047.3,301.0 1046.3,310.5 1026.9,310.5" fill="#eeeeee" stroke="none" stroke-width="0" stroke-linejoin="round" />
<polygon points="1081.3,301.0 1112.7,301.0 1111.7,310.5 1082.3,310.5" fill="#eeeeee" stroke="none" stroke-width="0" stroke-linejoin="round" />
<polygon points="676.0,312.0 730.0,313.0 706.0,330.0 678.0,330.0" fill="#262626" stroke="none" stroke-width="0" stroke-linejoin="round" />
<polygon points="681.0,315.0 697.0,315.0 697.0,324.0 681.0,324.0" fill="#e0e0e0" stroke="none" stroke-width="0" stroke-linejoin="round" />
<polygon points="1085.0,315.0 1156.0,309.0 1120.0,336.0 1090.0,337.0" fill="#262626" stroke="none" stroke-width="0" stroke-linejoin="round" />
<polygon points="1094.0,320.0 1111.0,320.0 1111.0,326.0 1094.0,326.0" fill="#c8c8c8" stroke="none" stroke-width="0" stroke-linejoin="round" />
<path d="M1025.5,207.6 C1024.6,203.6 1024.0,189.8 1022.0,183.4 C1020.0,177.1 1017.4,173.0 1013.4,169.5 C1009.4,166.0 1004.7,164.3 997.8,162.6 C990.9,160.9 979.7,161.1 971.9,159.1 C964.1,157.1 956.0,155.1 951.1,150.5 C946.2,145.9 943.6,136.7 942.5,131.5 C941.4,126.3 945.7,122.9 944.2,119.4 C942.8,115.9 936.2,116.2 933.8,110.7 C931.3,105.2 929.2,96.3 929.5,86.5 C929.8,76.7 931.4,61.4 935.6,51.9 C939.8,42.4 947.1,35.4 954.6,29.4 C962.1,23.3 972.4,18.5 980.5,15.6 C988.6,12.7 995.8,12.1 1003.0,12.1 C1010.2,12.1 1017.4,14.9 1023.8,15.6 C1030.1,16.3 1033.9,17.3 1041.1,16.4 C1048.3,15.5 1056.9,12.6 1067.0,10.4 C1077.1,8.2 1090.1,4.8 1101.6,3.5 C1113.1,2.2 1126.7,1.2 1136.2,2.6 C1145.7,4.0 1153.2,6.8 1158.7,12.1 C1164.2,17.4 1166.8,25.1 1169.1,34.6 C1171.4,44.1 1173.2,59.1 1172.6,69.2 C1172.0,79.3 1170.2,87.9 1165.6,95.1 C1161.0,102.3 1154.1,107.2 1144.9,112.4 C1135.7,117.6 1121.8,122.2 1110.3,126.3 C1098.8,130.3 1085.8,133.2 1075.7,136.7 C1065.6,140.1 1056.3,142.4 1049.7,147.0 C1043.1,151.6 1039.1,158.5 1035.9,164.3 C1032.7,170.1 1032.2,174.4 1030.7,181.6 C1029.2,188.8 1028.1,203.3 1027.2,207.6 C1026.3,211.9 1026.4,211.6 1025.5,207.6Z" fill="#ffffff" stroke="#262626" stroke-width="3.4" stroke-linecap="round" stroke-linejoin="round" />
<polygon points="971.0,113.0 1137.0,26.0 1146.0,26.0 1151.0,33.0 1150.0,42.0 1112.0,74.0 984.0,146.0 977.0,146.0 974.0,135.0" fill="#f7f7f7" stroke="#262626" stroke-width="4" stroke-linejoin="round" />
<polyline points="977.0,111.0 1034.0,82.0" fill="none" stroke="#262626" stroke-width="5" stroke-linecap="round" stroke-linejoin="round" />
<polyline points="983.0,121.0 1036.0,92.0" fill="none" stroke="#444" stroke-width="1.6" stroke-linecap="round" stroke-linejoin="round" />
<polyline points="1100.0,45.0 1140.0,28.0" fill="none" stroke="#262626" stroke-width="3" stroke-linecap="round" stroke-linejoin="round" />
<polygon points="951.0,44.0 1153.0,41.0 1154.0,73.0 953.0,73.0" fill="#fafafa" stroke="#262626" stroke-width="4" stroke-linejoin="round" />
<polyline points="953.0,48.0 1150.0,46.0" fill="none" stroke="#262626" stroke-width="4" stroke-linecap="round" stroke-linejoin="round" />
<polygon points="1147.0,41.0 1155.0,41.0 1156.0,73.0 1148.0,73.0" fill="#262626" stroke="none" stroke-width="0" stroke-linejoin="round" />
<polygon points="1041.0,59.0 1055.0,59.0 1054.0,80.0 1051.0,99.0 1044.0,99.0 1043.0,78.0" fill="#262626" stroke="none" stroke-width="0" stroke-linejoin="round" />
<path d="M1263.5,167.8 C1262.4,166.6 1261.5,159.6 1259.2,156.0 C1256.9,152.4 1254.8,148.4 1249.6,146.4 C1244.4,144.4 1234.8,145.1 1228.2,144.2 C1221.6,143.3 1215.0,143.8 1210.0,141.0 C1205.0,138.2 1200.5,132.4 1198.2,127.1 C1195.9,121.8 1195.5,115.5 1196.0,108.9 C1196.5,102.3 1197.8,93.9 1201.4,87.5 C1205.0,81.1 1211.2,74.6 1217.5,70.3 C1223.8,66.0 1230.0,63.9 1238.9,61.8 C1247.8,59.7 1260.3,57.7 1271.0,57.5 C1281.7,57.3 1293.4,60.2 1303.2,60.7 C1313.0,61.2 1321.1,59.3 1330.0,60.7 C1338.9,62.1 1349.9,65.7 1356.7,69.3 C1363.5,72.9 1367.4,76.4 1370.6,82.1 C1373.8,87.8 1375.6,96.3 1376.0,103.5 C1376.4,110.7 1375.5,118.2 1372.8,125.0 C1370.1,131.8 1364.4,138.8 1359.9,144.2 C1355.4,149.5 1351.0,154.4 1346.0,157.1 C1341.0,159.8 1336.2,160.7 1330.0,160.3 C1323.8,160.0 1314.8,156.4 1308.5,155.0 C1302.2,153.6 1297.8,151.3 1292.4,151.7 C1287.1,152.0 1280.9,155.1 1276.4,157.1 C1272.0,159.1 1267.9,161.7 1265.7,163.5 C1263.5,165.3 1264.6,169.1 1263.5,167.8Z" fill="#ffffff" stroke="#262626" stroke-width="3.4" stroke-linecap="round" stroke-linejoin="round" />
<polygon points="1290.0,151.0 1325.0,98.0 1344.0,89.0 1344.0,155.0" fill="#f2f2f2" stroke="none" stroke-width="0" stroke-linejoin="round" />
<polygon points="1218.0,75.0 1230.0,71.0 1357.0,75.0 1357.0,86.0 1219.0,86.0" fill="#262626" stroke="none" stroke-width="0" stroke-linejoin="round" />
<polyline points="1248.0,80.0 1340.0,80.0" fill="none" stroke="#999" stroke-width="1.5" stroke-linecap="round" stroke-linejoin="round" />
<polygon points="1211.0,92.5 1330.0,92.5 1330.0,99.0 1211.0,99.0" fill="#262626" stroke="none" stroke-width="0" stroke-linejoin="round" />
<polygon points="1213.0,102.5 1336.0,103.0 1336.0,117.0 1320.0,118.0 1213.0,118.0" fill="#262626" stroke="none" stroke-width="0" stroke-linejoin="round" />
<polyline points="1225.0,111.0 1318.0,111.0" fill="none" stroke="#888" stroke-width="1.3" stroke-linecap="round" stroke-linejoin="round" />
<polygon points="1212.0,125.0 1292.0,125.0 1262.0,152.0 1215.0,142.0" fill="#8c8c8c" stroke="none" stroke-width="0" stroke-linejoin="round" />
<polygon points="1290.0,123.0 1336.0,103.0 1337.0,118.0 1292.0,150.0 1263.0,156.0" fill="#262626" stroke="none" stroke-width="0" stroke-linejoin="round" />
<polyline points="1263.0,154.0 1313.0,121.0" fill="none" stroke="#ededed" stroke-width="3.5" stroke-linecap="round" stroke-linejoin="round" />
<polygon points="1345.0,76.0 1357.0,76.0 1357.0,155.0 1345.0,155.0" fill="#262626" stroke="none" stroke-width="0" stroke-linejoin="round" />
<polyline points="1351.0,85.0 1351.0,150.0" fill="none" stroke="#aaa" stroke-width="1.4" stroke-linecap="round" stroke-linejoin="round" />
<polygon points="1516.0,175.0 1941.0,172.0 1856.0,237.0 1396.0,247.0" fill="#f2f2f2" stroke="#262626" stroke-width="4" stroke-linejoin="round" />
<g clip-path="url(#lidc)"><ellipse cx="1803.6" cy="199.6" rx="9.8" ry="1.8" fill="#c4c4c4" opacity="0.12"/><ellipse cx="1648.6" cy="213.5" rx="15.8" ry="1.0" fill="#c4c4c4" opacity="0.23"/><ellipse cx="1660.3" cy="231.1" rx="6.5" ry="1.9" fill="#c4c4c4" opacity="0.13"/><ellipse cx="1810.4" cy="210.4" rx="19.4" ry="1.0" fill="#c4c4c4" opacity="0.16"/><ellipse cx="1461.8" cy="226.7" rx="14.5" ry="1.0" fill="#c4c4c4" opacity="0.14"/><ellipse cx="1458.9" cy="192.0" rx="15.0" ry="1.3" fill="#c4c4c4" opacity="0.24"/><ellipse cx="1456.6" cy="230.4" rx="21.7" ry="1.7" fill="#c4c4c4" opacity="0.25"/><ellipse cx="1827.9" cy="185.7" rx="13.4" ry="0.9" fill="#c4c4c4" opacity="0.26"/><ellipse cx="1678.2" cy="186.4" rx="13.1" ry="1.7" fill="#c4c4c4" opacity="0.21"/><ellipse cx="1478.3" cy="236.2" rx="6.9" ry="1.8" fill="#c4c4c4" opacity="0.29"/><ellipse cx="1780.5" cy="236.8" rx="14.5" ry="1.1" fill="#c4c4c4" opacity="0.19"/><ellipse cx="1774.3" cy="226.1" rx="12.1" ry="1.9" fill="#c4c4c4" opacity="0.11"/><ellipse cx="1658.0" cy="182.4" rx="11.7" ry="2.0" fill="#c4c4c4" opacity="0.12"/><ellipse cx="1893.1" cy="234.3" rx="17.0" ry="0.9" fill="#c4c4c4" opacity="0.19"/><ellipse cx="1752.1" cy="185.7" rx="10.8" ry="0.9" fill="#c4c4c4" opacity="0.27"/><ellipse cx="1859.3" cy="235.4" rx="18.0" ry="1.5" fill="#c4c4c4" opacity="0.11"/><ellipse cx="1651.1" cy="225.6" rx="18.1" ry="0.8" fill="#c4c4c4" opacity="0.10"/><ellipse cx="1462.3" cy="235.5" rx="7.8" ry="1.3" fill="#c4c4c4" opacity="0.20"/><ellipse cx="1844.2" cy="188.1" rx="10.2" ry="1.7" fill="#c4c4c4" opacity="0.12"/><ellipse cx="1498.8" cy="181.5" rx="21.3" ry="1.1" fill="#c4c4c4" opacity="0.20"/><ellipse cx="1602.0" cy="238.9" rx="17.4" ry="1.5" fill="#c4c4c4" opacity="0.20"/><ellipse cx="1548.5" cy="230.4" rx="7.6" ry="1.5" fill="#c4c4c4" opacity="0.16"/><ellipse cx="1552.6" cy="207.2" rx="9.0" ry="1.5" fill="#c4c4c4" opacity="0.11"/><ellipse cx="1429.0" cy="188.5" rx="7.4" ry="1.9" fill="#c4c4c4" opacity="0.20"/><ellipse cx="1745.8" cy="226.7" rx="8.6" ry="1.9" fill="#c4c4c4" opacity="0.18"/><ellipse cx="1640.9" cy="209.3" rx="17.1" ry="1.7" fill="#c4c4c4" opacity="0.14"/><ellipse cx="1817.6" cy="205.7" rx="10.0" ry="1.8" fill="#c4c4c4" opacity="0.27"/><ellipse cx="1831.8" cy="199.4" rx="20.6" ry="1.7" fill="#c4c4c4" opacity="0.29"/><ellipse cx="1782.3" cy="240.0" rx="13.6" ry="1.7" fill="#c4c4c4" opacity="0.26"/><ellipse cx="1671.7" cy="210.3" rx="12.4" ry="1.8" fill="#c4c4c4" opacity="0.18"/><ellipse cx="1778.3" cy="213.7" rx="17.3" ry="1.2" fill="#c4c4c4" opacity="0.12"/><ellipse cx="1744.1" cy="188.7" rx="11.8" ry="1.7" fill="#c4c4c4" opacity="0.11"/><ellipse cx="1857.3" cy="215.3" rx="15.0" ry="1.6" fill="#c4c4c4" opacity="0.11"/><ellipse cx="1430.6" cy="223.2" rx="15.4" ry="1.6" fill="#c4c4c4" opacity="0.26"/><ellipse cx="1550.1" cy="189.7" rx="21.5" ry="0.9" fill="#c4c4c4" opacity="0.20"/><ellipse cx="1719.5" cy="237.3" rx="7.4" ry="1.6" fill="#c4c4c4" opacity="0.12"/><ellipse cx="1637.8" cy="217.2" rx="19.6" ry="0.9" fill="#c4c4c4" opacity="0.25"/><ellipse cx="1491.4" cy="204.3" rx="21.7" ry="1.8" fill="#c4c4c4" opacity="0.12"/><ellipse cx="1422.2" cy="181.9" rx="18.5" ry="0.8" fill="#c4c4c4" opacity="0.26"/><ellipse cx="1807.5" cy="229.1" rx="21.0" ry="1.6" fill="#c4c4c4" opacity="0.26"/><ellipse cx="1680.6" cy="220.1" rx="7.1" ry="1.5" fill="#c4c4c4" opacity="0.30"/><ellipse cx="1606.3" cy="222.9" rx="8.9" ry="1.4" fill="#c4c4c4" opacity="0.21"/><ellipse cx="1789.3" cy="199.3" rx="13.5" ry="1.0" fill="#c4c4c4" opacity="0.22"/><ellipse cx="1871.1" cy="203.2" rx="16.5" ry="1.5" fill="#c4c4c4" opacity="0.14"/><ellipse cx="1754.3" cy="192.7" rx="15.8" ry="2.0" fill="#c4c4c4" opacity="0.16"/><ellipse cx="1740.9" cy="200.4" rx="16.3" ry="1.0" fill="#c4c4c4" opacity="0.20"/><ellipse cx="1796.8" cy="192.8" rx="11.7" ry="1.1" fill="#c4c4c4" opacity="0.13"/><ellipse cx="1741.7" cy="229.9" rx="14.4" ry="1.3" fill="#c4c4c4" opacity="0.16"/><ellipse cx="1534.9" cy="236.5" rx="13.7" ry="1.6" fill="#c4c4c4" opacity="0.16"/><ellipse cx="1503.1" cy="180.6" rx="10.7" ry="1.3" fill="#c4c4c4" opacity="0.20"/><ellipse cx="1716.0" cy="221.5" rx="20.0" ry="1.8" fill="#c4c4c4" opacity="0.24"/><ellipse cx="1806.3" cy="212.5" rx="13.6" ry="1.9" fill="#c4c4c4" opacity="0.28"/><ellipse cx="1605.3" cy="232.0" rx="12.9" ry="1.7" fill="#c4c4c4" opacity="0.10"/><ellipse cx="1705.5" cy="236.8" rx="13.0" ry="1.8" fill="#c4c4c4" opacity="0.24"/><ellipse cx="1429.8" cy="184.6" rx="11.3" ry="2.0" fill="#c4c4c4" opacity="0.23"/><ellipse cx="1706.9" cy="231.6" rx="11.6" ry="1.0" fill="#c4c4c4" opacity="0.19"/><ellipse cx="1855.9" cy="189.9" rx="13.9" ry="1.2" fill="#c4c4c4" opacity="0.17"/><ellipse cx="1464.4" cy="234.4" rx="10.1" ry="1.7" fill="#c4c4c4" opacity="0.13"/><ellipse cx="1624.7" cy="181.5" rx="15.4" ry="1.4" fill="#c4c4c4" opacity="0.19"/><ellipse cx="1516.2" cy="218.3" rx="6.6" ry="1.9" fill="#c4c4c4" opacity="0.20"/><ellipse cx="1713.3" cy="205.5" rx="6.3" ry="0.8" fill="#c4c4c4" opacity="0.25"/><ellipse cx="1653.6" cy="196.7" rx="14.6" ry="1.8" fill="#c4c4c4" opacity="0.20"/><ellipse cx="1668.8" cy="215.1" rx="20.0" ry="0.8" fill="#c4c4c4" opacity="0.23"/><ellipse cx="1696.7" cy="223.0" rx="8.6" ry="1.8" fill="#c4c4c4" opacity="0.26"/><ellipse cx="1553.1" cy="236.9" rx="6.8" ry="1.5" fill="#c4c4c4" opacity="0.12"/><ellipse cx="1510.5" cy="218.3" rx="17.3" ry="1.4" fill="#c4c4c4" opacity="0.15"/><ellipse cx="1681.6" cy="206.9" rx="12.1" ry="1.3" fill="#c4c4c4" opacity="0.19"/><ellipse cx="1597.5" cy="187.3" rx="14.0" ry="1.1" fill="#c4c4c4" opacity="0.26"/><ellipse cx="1878.6" cy="224.7" rx="11.3" ry="1.4" fill="#c4c4c4" opacity="0.25"/><ellipse cx="1529.9" cy="228.0" rx="6.7" ry="2.0" fill="#c4c4c4" opacity="0.21"/><ellipse cx="1791.3" cy="216.0" rx="19.6" ry="1.3" fill="#c4c4c4" opacity="0.12"/><ellipse cx="1518.9" cy="224.8" rx="21.7" ry="1.1" fill="#c4c4c4" opacity="0.20"/><ellipse cx="1794.8" cy="198.3" rx="9.8" ry="1.7" fill="#c4c4c4" opacity="0.12"/><ellipse cx="1580.1" cy="215.7" rx="13.9" ry="1.9" fill="#c4c4c4" opacity="0.20"/><ellipse cx="1616.4" cy="191.2" rx="19.1" ry="0.9" fill="#c4c4c4" opacity="0.10"/><ellipse cx="1595.4" cy="228.3" rx="10.1" ry="1.4" fill="#c4c4c4" opacity="0.12"/><ellipse cx="1554.3" cy="236.4" rx="19.8" ry="0.9" fill="#c4c4c4" opacity="0.29"/><ellipse cx="1644.9" cy="188.1" rx="11.9" ry="2.0" fill="#c4c4c4" opacity="0.14"/><ellipse cx="1785.8" cy="236.2" rx="20.6" ry="1.7" fill="#c4c4c4" opacity="0.28"/><ellipse cx="1475.0" cy="221.7" rx="21.4" ry="1.4" fill="#c4c4c4" opacity="0.10"/><ellipse cx="1559.2" cy="206.5" rx="12.6" ry="1.7" fill="#c4c4c4" opacity="0.13"/><ellipse cx="1423.2" cy="219.5" rx="21.8" ry="1.4" fill="#c4c4c4" opacity="0.24"/><ellipse cx="1760.8" cy="220.3" rx="18.7" ry="0.8" fill="#c4c4c4" opacity="0.24"/><ellipse cx="1629.1" cy="203.2" rx="18.8" ry="1.0" fill="#c4c4c4" opacity="0.28"/><ellipse cx="1809.8" cy="230.1" rx="20.7" ry="1.1" fill="#c4c4c4" opacity="0.22"/><ellipse cx="1854.2" cy="212.6" rx="16.9" ry="0.9" fill="#c4c4c4" opacity="0.23"/><ellipse cx="1432.4" cy="210.8" rx="6.4" ry="1.2" fill="#c4c4c4" opacity="0.12"/><ellipse cx="1552.0" cy="187.7" rx="16.9" ry="1.4" fill="#c4c4c4" opacity="0.25"/><ellipse cx="1809.2" cy="222.6" rx="15.7" ry="1.4" fill="#c4c4c4" opacity="0.25"/><ellipse cx="1627.2" cy="202.8" rx="12.4" ry="0.8" fill="#c4c4c4" opacity="0.14"/></g>
<polygon points="1395.0,243.0 1858.0,236.0 1879.0,252.0 1397.0,256.0" fill="#262626" stroke="none" stroke-width="0" stroke-linejoin="round" />
<polyline points="1405.0,250.0 1870.0,247.0" fill="none" stroke="#6a6a6a" stroke-width="1.5" stroke-linecap="round" stroke-linejoin="round" />
<polygon points="1939.0,172.0 1977.0,168.0 1979.0,185.0 1879.0,252.0 1856.0,237.0" fill="#262626" stroke="#262626" stroke-width="3" stroke-linejoin="round" />
<polygon points="1954.0,170.0 1968.0,171.0 1875.0,231.0 1866.0,230.0" fill="#f4f4f4" stroke="none" stroke-width="0" stroke-linejoin="round" />
<polyline points="1975.0,183.0 1884.0,243.0" fill="none" stroke="#777" stroke-width="1.5" stroke-linecap="round" stroke-linejoin="round" />
<polygon points="1315.1,200.0 1392.9,178.5 1373.3,192.5 1407.3,192.5 1429.9,178.9 1433.7,206.8 1358.2,226.5 1374.8,212.9 1339.3,212.9 1314.4,228.7" fill="#262626" stroke="none" stroke-width="0" stroke-linejoin="round" />
<polygon points="838.0,347.0 866.5,347.0 888.4,327.0 923.6,327.4 909.5,344.7 942.0,348.2 925.7,353.8 877.8,366.5" fill="#262626" stroke="none" stroke-width="0" stroke-linejoin="round" />
<polygon points="624.4,604.7 656.0,603.2 680.6,583.2 723.3,584.4 705.9,604.0 738.4,607.0 715.7,614.6 665.1,626.6" fill="#262626" stroke="none" stroke-width="0" stroke-linejoin="round" />
<polygon points="349.0,934.7 384.6,933.2 413.3,915.5 459.3,916.2 438.2,934.7 472.9,936.6 449.5,944.6 391.4,958.9" fill="#262626" stroke="none" stroke-width="0" stroke-linejoin="round" />
<polygon points="952.0,457.0 1081.0,385.0 1082.0,477.0 960.0,560.0" fill="#262626" stroke="none" stroke-width="0" stroke-linejoin="round" />
<g clip-path="url(#b2r)" opacity="0.85" fill="none"><path d="M945.1,309.6 L971.9,295.8" stroke="#888888" stroke-width="3.1" stroke-linecap="round"/><path d="M987.3,285.6 L1009.4,274.0" stroke="#888888" stroke-width="2.7" stroke-linecap="round"/><path d="M1022.5,266.4 L1033.1,260.2" stroke="#888888" stroke-width="3.5" stroke-linecap="round"/><path d="M1051.4,249.9 L1079.4,234.9" stroke="#888888" stroke-width="2.5" stroke-linecap="round"/><path d="M946.6,314.1 L958.6,306.9" stroke="#888888" stroke-width="2.5" stroke-linecap="round"/><path d="M997.6,286.4 L1012.5,278.0" stroke="#888888" stroke-width="3.0" stroke-linecap="round"/><path d="M1030.5,266.3 L1059.3,251.0" stroke="#888888" stroke-width="3.2" stroke-linecap="round"/><path d="M970.5,306.7 L989.4,296.7" stroke="#888888" stroke-width="2.5" stroke-linecap="round"/><path d="M993.9,292.7 L1015.5,281.4" stroke="#888888" stroke-width="2.6" stroke-linecap="round"/><path d="M1029.4,273.1 L1054.4,260.3" stroke="#888888" stroke-width="2.2" stroke-linecap="round"/><path d="M1061.7,254.5 L1086.1,242.4" stroke="#888888" stroke-width="3.1" stroke-linecap="round"/><path d="M1017.3,285.5 L1041.5,271.7" stroke="#888888" stroke-width="3.3" stroke-linecap="round"/><path d="M942.3,331.1 L958.6,322.6" stroke="#888888" stroke-width="3.3" stroke-linecap="round"/><path d="M970.1,315.9 L1004.6,298.1" stroke="#888888" stroke-width="2.6" stroke-linecap="round"/><path d="M1022.1,288.1 L1049.9,272.5" stroke="#888888" stroke-width="3.3" stroke-linecap="round"/><path d="M1054.4,270.1 L1078.9,255.4" stroke="#888888" stroke-width="2.6" stroke-linecap="round"/><path d="M952.3,332.3 L961.6,326.5" stroke="#888888" stroke-width="2.0" stroke-linecap="round"/><path d="M1016.9,294.6 L1029.2,288.6" stroke="#888888" stroke-width="1.8" stroke-linecap="round"/><path d="M1034.9,285.6 L1066.3,267.6" stroke="#888888" stroke-width="2.5" stroke-linecap="round"/><path d="M945.0,340.7 L958.6,332.2" stroke="#888888" stroke-width="2.9" stroke-linecap="round"/><path d="M1018.9,299.9 L1027.9,293.7" stroke="#888888" stroke-width="2.9" stroke-linecap="round"/><path d="M1040.2,286.6 L1055.6,278.7" stroke="#888888" stroke-width="2.1" stroke-linecap="round"/><path d="M1072.1,269.8 L1104.4,252.6" stroke="#888888" stroke-width="1.7" stroke-linecap="round"/><path d="M934.8,353.1 L962.7,337.2" stroke="#888888" stroke-width="2.6" stroke-linecap="round"/><path d="M1041.0,294.1 L1052.5,287.5" stroke="#888888" stroke-width="2.4" stroke-linecap="round"/><path d="M1057.9,283.9 L1082.9,270.1" stroke="#888888" stroke-width="2.3" stroke-linecap="round"/><path d="M943.2,354.0 L953.2,348.7" stroke="#888888" stroke-width="2.9" stroke-linecap="round"/><path d="M965.1,341.4 L985.7,330.2" stroke="#888888" stroke-width="3.4" stroke-linecap="round"/><path d="M994.0,325.7 L1005.0,320.0" stroke="#888888" stroke-width="3.1" stroke-linecap="round"/><path d="M1017.6,312.9 L1042.7,298.5" stroke="#888888" stroke-width="2.9" stroke-linecap="round"/><path d="M1060.4,288.5 L1075.6,280.4" stroke="#888888" stroke-width="3.4" stroke-linecap="round"/><path d="M949.8,357.0 L966.7,348.4" stroke="#888888" stroke-width="1.7" stroke-linecap="round"/><path d="M976.3,342.8 L993.0,332.8" stroke="#888888" stroke-width="3.4" stroke-linecap="round"/><path d="M1014.0,322.2 L1041.2,307.1" stroke="#888888" stroke-width="2.0" stroke-linecap="round"/><path d="M1048.9,303.1 L1082.5,283.0" stroke="#888888" stroke-width="2.9" stroke-linecap="round"/><path d="M958.9,357.1 L979.8,345.2" stroke="#888888" stroke-width="2.3" stroke-linecap="round"/><path d="M1043.2,309.6 L1070.4,295.6" stroke="#888888" stroke-width="2.9" stroke-linecap="round"/><path d="M1074.7,292.1 L1089.7,284.2" stroke="#888888" stroke-width="2.4" stroke-linecap="round"/><path d="M969.4,358.9 L992.0,346.6" stroke="#888888" stroke-width="2.0" stroke-linecap="round"/><path d="M1045.8,315.6 L1077.7,299.5" stroke="#888888" stroke-width="3.0" stroke-linecap="round"/><path d="M944.4,380.3 L954.6,374.2" stroke="#888888" stroke-width="3.1" stroke-linecap="round"/><path d="M973.3,363.5 L990.9,354.3" stroke="#888888" stroke-width="3.3" stroke-linecap="round"/><path d="M999.8,349.5 L1010.4,342.6" stroke="#888888" stroke-width="2.0" stroke-linecap="round"/><path d="M1015.6,340.7 L1025.8,334.9" stroke="#888888" stroke-width="1.8" stroke-linecap="round"/><path d="M1030.5,331.8 L1042.0,325.9" stroke="#888888" stroke-width="3.0" stroke-linecap="round"/><path d="M948.8,381.9 L966.7,372.9" stroke="#888888" stroke-width="2.5" stroke-linecap="round"/><path d="M1012.6,347.5 L1045.1,329.6" stroke="#888888" stroke-width="2.6" stroke-linecap="round"/><path d="M1061.3,320.6 L1093.9,302.4" stroke="#888888" stroke-width="3.1" stroke-linecap="round"/><path d="M1011.8,352.6 L1034.5,339.0" stroke="#888888" stroke-width="3.1" stroke-linecap="round"/><path d="M1054.4,327.0 L1082.5,312.0" stroke="#888888" stroke-width="1.9" stroke-linecap="round"/><path d="M925.6,405.7 L943.8,395.9" stroke="#888888" stroke-width="1.6" stroke-linecap="round"/><path d="M950.1,393.0 L976.3,377.6" stroke="#888888" stroke-width="3.3" stroke-linecap="round"/><path d="M984.1,373.1 L1006.3,361.1" stroke="#888888" stroke-width="3.0" stroke-linecap="round"/><path d="M1012.5,357.2 L1040.9,341.3" stroke="#888888" stroke-width="2.5" stroke-linecap="round"/><path d="M1056.6,331.8 L1072.3,324.6" stroke="#888888" stroke-width="2.7" stroke-linecap="round"/><path d="M927.9,411.5 L955.8,395.1" stroke="#888888" stroke-width="2.8" stroke-linecap="round"/><path d="M1016.0,363.1 L1029.9,354.7" stroke="#888888" stroke-width="1.6" stroke-linecap="round"/><path d="M1038.0,350.2 L1056.4,339.7" stroke="#888888" stroke-width="2.8" stroke-linecap="round"/><path d="M1012.7,371.5 L1044.8,352.6" stroke="#888888" stroke-width="3.2" stroke-linecap="round"/><path d="M1050.2,349.8 L1065.9,341.0" stroke="#888888" stroke-width="2.5" stroke-linecap="round"/><path d="M943.5,416.4 L970.2,401.1" stroke="#888888" stroke-width="1.8" stroke-linecap="round"/><path d="M980.2,395.4 L990.5,391.2" stroke="#888888" stroke-width="2.8" stroke-linecap="round"/><path d="M1007.0,381.1 L1016.3,376.0" stroke="#888888" stroke-width="3.4" stroke-linecap="round"/><path d="M1033.3,366.2 L1051.8,355.9" stroke="#888888" stroke-width="3.0" stroke-linecap="round"/><path d="M1067.3,347.0 L1092.7,334.0" stroke="#888888" stroke-width="1.5" stroke-linecap="round"/><path d="M936.4,426.3 L950.9,419.0" stroke="#888888" stroke-width="1.8" stroke-linecap="round"/><path d="M965.4,410.3 L995.1,393.4" stroke="#888888" stroke-width="1.9" stroke-linecap="round"/><path d="M1032.9,372.5 L1047.5,364.9" stroke="#888888" stroke-width="3.0" stroke-linecap="round"/><path d="M1053.5,360.9 L1067.5,353.4" stroke="#888888" stroke-width="2.7" stroke-linecap="round"/><path d="M943.9,427.8 L967.7,413.2" stroke="#888888" stroke-width="2.1" stroke-linecap="round"/><path d="M986.5,404.3 L1003.5,393.3" stroke="#888888" stroke-width="2.5" stroke-linecap="round"/><path d="M1024.0,382.2 L1056.0,365.7" stroke="#888888" stroke-width="1.7" stroke-linecap="round"/><path d="M1073.9,355.0 L1107.9,335.3" stroke="#888888" stroke-width="2.2" stroke-linecap="round"/><path d="M930.3,441.2 L949.3,430.3" stroke="#888888" stroke-width="2.1" stroke-linecap="round"/><path d="M967.7,420.4 L997.2,403.6" stroke="#888888" stroke-width="2.8" stroke-linecap="round"/><path d="M1014.7,395.3 L1035.1,383.0" stroke="#888888" stroke-width="2.9" stroke-linecap="round"/><path d="M1043.2,378.4 L1068.4,364.0" stroke="#888888" stroke-width="2.5" stroke-linecap="round"/><path d="M940.1,440.9 L953.7,433.0" stroke="#888888" stroke-width="1.9" stroke-linecap="round"/><path d="M974.2,421.9 L1005.6,405.2" stroke="#888888" stroke-width="2.4" stroke-linecap="round"/><path d="M1015.7,398.9 L1043.7,383.8" stroke="#888888" stroke-width="3.2" stroke-linecap="round"/><path d="M1057.2,376.9 L1084.1,361.8" stroke="#888888" stroke-width="1.8" stroke-linecap="round"/><path d="M974.6,428.6 L989.8,421.3" stroke="#888888" stroke-width="1.8" stroke-linecap="round"/><path d="M1011.7,407.7 L1030.8,398.1" stroke="#888888" stroke-width="2.7" stroke-linecap="round"/><path d="M925.3,463.8 L959.7,445.6" stroke="#888888" stroke-width="2.8" stroke-linecap="round"/><path d="M972.6,436.6 L992.7,426.0" stroke="#888888" stroke-width="1.8" stroke-linecap="round"/><path d="M1008.6,417.8 L1017.5,411.5" stroke="#888888" stroke-width="2.8" stroke-linecap="round"/><path d="M1023.1,409.1 L1034.8,403.1" stroke="#888888" stroke-width="2.3" stroke-linecap="round"/><path d="M1048.0,395.1 L1066.9,385.2" stroke="#888888" stroke-width="3.2" stroke-linecap="round"/><path d="M942.3,462.7 L967.4,447.3" stroke="#888888" stroke-width="2.2" stroke-linecap="round"/><path d="M977.0,443.3 L1010.3,423.7" stroke="#888888" stroke-width="3.1" stroke-linecap="round"/><path d="M1020.6,418.0 L1029.5,412.8" stroke="#888888" stroke-width="1.6" stroke-linecap="round"/><path d="M1039.6,407.9 L1069.3,391.8" stroke="#888888" stroke-width="3.2" stroke-linecap="round"/><path d="M922.1,477.6 L939.0,469.0" stroke="#888888" stroke-width="3.2" stroke-linecap="round"/><path d="M947.5,463.3 L975.8,447.5" stroke="#888888" stroke-width="2.4" stroke-linecap="round"/><path d="M992.9,439.3 L1024.5,421.5" stroke="#888888" stroke-width="2.4" stroke-linecap="round"/><path d="M1046.5,408.7 L1073.4,394.4" stroke="#888888" stroke-width="3.3" stroke-linecap="round"/><path d="M987.7,449.4 L1000.8,441.9" stroke="#888888" stroke-width="1.6" stroke-linecap="round"/><path d="M1014.7,434.0 L1031.5,423.4" stroke="#888888" stroke-width="3.4" stroke-linecap="round"/><path d="M1038.0,420.4 L1072.1,401.9" stroke="#888888" stroke-width="2.3" stroke-linecap="round"/><path d="M970.4,463.7 L983.3,456.7" stroke="#888888" stroke-width="2.6" stroke-linecap="round"/><path d="M994.7,449.8 L1006.4,443.5" stroke="#888888" stroke-width="2.0" stroke-linecap="round"/><path d="M940.5,488.0 L965.4,473.9" stroke="#888888" stroke-width="3.4" stroke-linecap="round"/><path d="M1014.6,446.7 L1037.1,433.1" stroke="#888888" stroke-width="3.0" stroke-linecap="round"/><path d="M1057.4,421.8 L1077.2,411.9" stroke="#888888" stroke-width="2.8" stroke-linecap="round"/><path d="M946.5,490.7 L962.9,481.9" stroke="#888888" stroke-width="2.5" stroke-linecap="round"/><path d="M1029.1,444.9 L1044.0,436.6" stroke="#888888" stroke-width="2.0" stroke-linecap="round"/><path d="M1055.8,429.3 L1082.6,414.4" stroke="#888888" stroke-width="1.9" stroke-linecap="round"/><path d="M1004.9,464.4 L1015.2,458.8" stroke="#888888" stroke-width="1.6" stroke-linecap="round"/><path d="M1025.7,452.4 L1052.2,437.9" stroke="#888888" stroke-width="3.1" stroke-linecap="round"/><path d="M1073.4,426.6 L1088.1,418.7" stroke="#888888" stroke-width="2.8" stroke-linecap="round"/><path d="M964.9,492.1 L989.4,477.8" stroke="#888888" stroke-width="1.6" stroke-linecap="round"/><path d="M996.4,474.2 L1009.5,466.5" stroke="#888888" stroke-width="2.3" stroke-linecap="round"/><path d="M1016.8,461.9 L1050.8,443.6" stroke="#888888" stroke-width="1.9" stroke-linecap="round"/><path d="M1061.0,437.6 L1072.7,431.7" stroke="#888888" stroke-width="2.6" stroke-linecap="round"/><path d="M935.7,515.4 L946.6,509.7" stroke="#888888" stroke-width="2.5" stroke-linecap="round"/><path d="M963.7,498.9 L979.0,489.9" stroke="#888888" stroke-width="2.3" stroke-linecap="round"/><path d="M1034.1,460.3 L1065.9,441.3" stroke="#888888" stroke-width="3.1" stroke-linecap="round"/><path d="M1010.0,481.0 L1039.1,464.7" stroke="#888888" stroke-width="1.9" stroke-linecap="round"/><path d="M936.6,526.7 L970.5,508.2" stroke="#888888" stroke-width="3.4" stroke-linecap="round"/><path d="M1015.4,482.9 L1032.8,471.9" stroke="#888888" stroke-width="2.6" stroke-linecap="round"/><path d="M1040.9,468.2 L1074.0,450.6" stroke="#888888" stroke-width="2.5" stroke-linecap="round"/><path d="M998.6,497.3 L1020.2,485.0" stroke="#888888" stroke-width="1.8" stroke-linecap="round"/><path d="M1031.7,479.4 L1059.6,464.1" stroke="#888888" stroke-width="2.6" stroke-linecap="round"/><path d="M1064.5,461.1 L1097.5,442.0" stroke="#888888" stroke-width="3.5" stroke-linecap="round"/><path d="M929.4,543.6 L959.9,526.5" stroke="#888888" stroke-width="2.2" stroke-linecap="round"/><path d="M968.3,522.2 L989.6,509.5" stroke="#888888" stroke-width="3.4" stroke-linecap="round"/><path d="M1005.4,501.9 L1028.5,488.9" stroke="#888888" stroke-width="3.3" stroke-linecap="round"/><path d="M1043.2,479.4 L1067.1,467.5" stroke="#888888" stroke-width="2.1" stroke-linecap="round"/><path d="M1076.0,461.4 L1103.5,445.7" stroke="#888888" stroke-width="2.0" stroke-linecap="round"/><path d="M1011.0,506.1 L1040.5,488.6" stroke="#888888" stroke-width="2.5" stroke-linecap="round"/><path d="M1050.8,483.7 L1076.1,468.6" stroke="#888888" stroke-width="1.8" stroke-linecap="round"/><path d="M930.6,556.4 L956.1,542.1" stroke="#888888" stroke-width="2.0" stroke-linecap="round"/><path d="M977.1,529.4 L1009.9,512.4" stroke="#888888" stroke-width="2.8" stroke-linecap="round"/><path d="M1016.5,507.8 L1031.1,501.1" stroke="#888888" stroke-width="3.2" stroke-linecap="round"/><path d="M1051.7,488.5 L1068.6,479.1" stroke="#888888" stroke-width="3.4" stroke-linecap="round"/><path d="M938.4,557.9 L952.6,549.0" stroke="#888888" stroke-width="2.6" stroke-linecap="round"/><path d="M971.3,539.1 L1003.0,521.3" stroke="#888888" stroke-width="2.3" stroke-linecap="round"/><path d="M1011.8,515.3 L1037.5,502.2" stroke="#888888" stroke-width="2.6" stroke-linecap="round"/><path d="M1047.1,496.5 L1076.8,480.0" stroke="#888888" stroke-width="3.2" stroke-linecap="round"/><path d="M969.2,547.0 L991.5,534.6" stroke="#888888" stroke-width="2.4" stroke-linecap="round"/><path d="M996.3,530.1 L1012.0,521.8" stroke="#888888" stroke-width="2.4" stroke-linecap="round"/><path d="M1032.8,511.1 L1059.2,495.6" stroke="#888888" stroke-width="1.9" stroke-linecap="round"/><path d="M1064.4,493.0 L1091.8,478.4" stroke="#888888" stroke-width="2.5" stroke-linecap="round"/><path d="M925.6,577.9 L953.2,561.9" stroke="#888888" stroke-width="3.3" stroke-linecap="round"/><path d="M1013.8,529.9 L1036.9,515.2" stroke="#888888" stroke-width="2.3" stroke-linecap="round"/><path d="M1058.8,504.4 L1082.5,490.4" stroke="#888888" stroke-width="2.9" stroke-linecap="round"/><path d="M932.0,581.3 L941.3,575.7" stroke="#888888" stroke-width="3.0" stroke-linecap="round"/><path d="M957.1,567.1 L970.2,560.7" stroke="#888888" stroke-width="3.3" stroke-linecap="round"/><path d="M987.2,551.1 L997.8,544.1" stroke="#888888" stroke-width="1.5" stroke-linecap="round"/><path d="M1012.8,536.8 L1023.6,529.8" stroke="#888888" stroke-width="2.9" stroke-linecap="round"/><path d="M920.2,596.1 L943.8,582.0" stroke="#888888" stroke-width="2.7" stroke-linecap="round"/><path d="M1006.4,547.2 L1017.6,541.6" stroke="#888888" stroke-width="2.0" stroke-linecap="round"/><path d="M1024.8,537.4 L1048.2,524.0" stroke="#888888" stroke-width="3.5" stroke-linecap="round"/><path d="M1060.3,517.2 L1072.4,509.7" stroke="#888888" stroke-width="2.8" stroke-linecap="round"/><path d="M939.5,592.6 L966.9,576.2" stroke="#888888" stroke-width="2.5" stroke-linecap="round"/><path d="M1028.9,542.0 L1047.3,531.5" stroke="#888888" stroke-width="3.2" stroke-linecap="round"/><path d="M936.7,599.3 L948.1,591.7" stroke="#888888" stroke-width="3.3" stroke-linecap="round"/><path d="M958.4,586.6 L982.9,573.2" stroke="#888888" stroke-width="1.8" stroke-linecap="round"/><path d="M994.9,565.9 L1029.2,547.0" stroke="#888888" stroke-width="2.1" stroke-linecap="round"/><path d="M1039.7,541.6 L1070.8,524.0" stroke="#888888" stroke-width="2.1" stroke-linecap="round"/><path d="M1076.1,520.9 L1097.5,509.6" stroke="#888888" stroke-width="2.4" stroke-linecap="round"/><path d="M930.4,608.3 L946.4,599.2" stroke="#888888" stroke-width="2.8" stroke-linecap="round"/><path d="M1010.2,563.2 L1025.1,555.1" stroke="#888888" stroke-width="3.3" stroke-linecap="round"/><path d="M1046.2,542.7 L1080.0,524.0" stroke="#888888" stroke-width="2.8" stroke-linecap="round"/><path d="M948.0,604.0 L956.9,600.0" stroke="#888888" stroke-width="1.7" stroke-linecap="round"/><path d="M978.8,588.7 L1008.8,570.3" stroke="#888888" stroke-width="1.9" stroke-linecap="round"/><path d="M1022.4,563.2 L1051.7,547.3" stroke="#888888" stroke-width="3.4" stroke-linecap="round"/><path d="M949.2,608.9 L979.6,592.9" stroke="#888888" stroke-width="2.4" stroke-linecap="round"/><path d="M1044.6,556.4 L1063.1,545.4" stroke="#888888" stroke-width="1.6" stroke-linecap="round"/><path d="M924.5,628.7 L944.0,617.8" stroke="#888888" stroke-width="2.0" stroke-linecap="round"/><path d="M962.8,608.1 L984.7,594.7" stroke="#888888" stroke-width="2.2" stroke-linecap="round"/><path d="M1005.9,584.2 L1029.9,569.4" stroke="#888888" stroke-width="2.8" stroke-linecap="round"/><path d="M1040.8,563.7 L1075.2,544.9" stroke="#888888" stroke-width="3.5" stroke-linecap="round"/><path d="M942.7,624.0 L974.9,604.6" stroke="#888888" stroke-width="1.6" stroke-linecap="round"/><path d="M983.8,600.5 L1012.5,583.8" stroke="#888888" stroke-width="2.6" stroke-linecap="round"/><path d="M1033.0,573.2 L1044.6,566.6" stroke="#888888" stroke-width="2.1" stroke-linecap="round"/><path d="M1054.4,560.4 L1069.0,554.0" stroke="#888888" stroke-width="1.6" stroke-linecap="round"/><path d="M1074.2,549.8 L1101.7,535.8" stroke="#888888" stroke-width="3.1" stroke-linecap="round"/><path d="M976.6,610.4 L1001.6,595.5" stroke="#888888" stroke-width="2.0" stroke-linecap="round"/><path d="M1015.8,588.8 L1033.8,578.2" stroke="#888888" stroke-width="3.0" stroke-linecap="round"/><path d="M1041.8,573.9 L1060.8,563.1" stroke="#888888" stroke-width="3.1" stroke-linecap="round"/><path d="M933.6,639.0 L954.2,628.4" stroke="#888888" stroke-width="1.7" stroke-linecap="round"/><path d="M969.5,618.1 L1003.7,599.8" stroke="#888888" stroke-width="3.4" stroke-linecap="round"/><path d="M1051.4,572.4 L1063.1,566.7" stroke="#888888" stroke-width="2.1" stroke-linecap="round"/><path d="M1078.0,559.2 L1104.0,542.8" stroke="#888888" stroke-width="3.1" stroke-linecap="round"/><path d="M923.0,650.8 L947.7,637.0" stroke="#888888" stroke-width="3.4" stroke-linecap="round"/><path d="M1004.7,604.1 L1030.9,590.5" stroke="#888888" stroke-width="2.6" stroke-linecap="round"/><path d="M939.9,645.1 L950.9,640.0" stroke="#888888" stroke-width="1.7" stroke-linecap="round"/><path d="M1014.3,604.3 L1029.3,596.5" stroke="#888888" stroke-width="1.5" stroke-linecap="round"/><path d="M1038.5,591.3 L1049.5,583.8" stroke="#888888" stroke-width="3.5" stroke-linecap="round"/></g>
<polyline points="1077.0,393.0 1077.0,470.0" fill="none" stroke="#7a7a7a" stroke-width="1.8" stroke-linecap="round" stroke-linejoin="round" />
<polygon points="459.0,460.0 603.0,387.0 1081.0,386.0 952.0,458.0" fill="#262626" stroke="#262626" stroke-width="4" stroke-linejoin="round" />
<polygon points="616.0,418.0 991.0,419.0 978.0,442.0 616.0,442.0" fill="#7c7c7c" stroke="none" stroke-width="0" stroke-linejoin="round" />
<polyline points="486.0,453.0 601.0,396.0" fill="none" stroke="#c8c8c8" stroke-width="6" stroke-linecap="round" stroke-linejoin="round" />
<polyline points="534.0,442.0 604.0,406.0" fill="none" stroke="#8a8a8a" stroke-width="3" stroke-linecap="round" stroke-linejoin="round" />
<polyline points="606.0,399.0 1027.0,398.0" fill="none" stroke="#c8c8c8" stroke-width="5" stroke-linecap="round" stroke-linejoin="round" />
<polyline points="608.0,410.0 1017.0,410.0" fill="none" stroke="#a0a0a0" stroke-width="5" stroke-linecap="round" stroke-linejoin="round" />
<polyline points="508.0,451.0 944.0,451.0" fill="none" stroke="#c8c8c8" stroke-width="6" stroke-linecap="round" stroke-linejoin="round" />
<polyline points="949.0,452.0 1050.0,397.0" fill="none" stroke="#d8d8d8" stroke-width="5" stroke-linecap="round" stroke-linejoin="round" />
<polygon points="460.0,459.0 466.0,456.0 952.0,454.0 952.0,464.0 460.0,465.0" fill="#262626" stroke="none" stroke-width="0" stroke-linejoin="round" />
<polygon points="460.0,463.0 952.0,462.0 952.0,548.0 460.0,546.0" fill="#efefef" stroke="none" stroke-width="0" stroke-linejoin="round" />
<g clip-path="url(#b2f)" fill="none" stroke-linecap="round" stroke-linejoin="round"><path d="M465.2,469.0 C474.1,468.6 501.2,466.4 518.6,466.4 C535.9,466.4 556.3,467.5 569.4,469.0 C582.6,470.5 586.8,474.5 597.4,475.3 C608.0,476.2 620.7,474.9 633.0,474.1 C645.3,473.2 658.4,470.7 671.1,470.3 C683.9,469.8 694.4,471.7 709.3,471.5 C724.1,471.3 743.2,469.6 760.1,469.0 C777.1,468.3 794.0,467.9 811.0,467.7 C827.9,467.5 844.9,466.9 861.8,467.7 C878.8,468.6 897.9,471.1 912.7,472.8 C927.5,474.5 944.5,477.0 950.8,477.9" stroke="#777" stroke-width="9.0" opacity="0.22"/><path d="M465.2,479.2 C474.1,478.7 503.3,476.6 518.6,476.6 C533.8,476.6 544.0,477.9 556.7,479.2 C569.4,480.4 580.0,483.6 594.9,484.2 C609.7,484.9 633.0,482.8 645.7,483.0 C658.4,483.2 658.4,484.7 671.1,485.5 C683.9,486.4 705.0,486.8 722.0,488.1 C738.9,489.3 758.9,491.0 772.8,493.1 C786.8,495.3 798.7,498.2 805.9,500.8 C813.1,503.3 816.1,505.4 816.1,508.4 C816.1,511.4 815.2,516.0 805.9,518.6 C796.6,521.1 776.2,522.0 760.1,523.7 C744.0,525.4 726.2,527.5 709.3,528.7 C692.3,530.0 675.4,530.4 658.4,531.3 C641.5,532.1 628.8,533.0 607.6,533.8 C586.4,534.7 555.0,535.5 531.3,536.4 C507.6,537.2 476.2,538.5 465.2,538.9" stroke="#777" stroke-width="9.0" opacity="0.22"/><path d="M465.2,488.1 C472.0,487.6 494.8,485.5 505.9,485.5 C516.9,485.5 522.8,486.8 531.3,488.1 C539.8,489.3 546.1,492.1 556.7,493.1 C567.3,494.2 582.1,494.4 594.9,494.4 C607.6,494.4 618.2,492.7 633.0,493.1 C647.8,493.6 669.0,495.7 683.9,497.0 C698.7,498.2 709.3,499.7 722.0,500.8 C734.7,501.8 750.4,501.8 760.1,503.3 C769.9,504.8 784.7,508.2 780.5,509.7 C776.2,511.2 748.7,510.9 734.7,512.2 C720.7,513.5 711.4,515.6 696.6,517.3 C681.7,519.0 664.8,521.1 645.7,522.4 C626.6,523.7 601.2,524.3 582.1,524.9 C563.1,525.6 550.8,525.6 531.3,526.2 C511.8,526.8 476.2,528.3 465.2,528.7" stroke="#777" stroke-width="9.0" opacity="0.22"/><path d="M465.2,498.2 C472.0,498.0 494.8,496.7 505.9,497.0 C516.9,497.2 520.7,498.0 531.3,499.5 C541.9,501.0 556.7,504.4 569.4,505.9 C582.1,507.3 594.9,508.4 607.6,508.4 C620.3,508.4 633.0,505.9 645.7,505.9 C658.4,505.9 673.3,507.8 683.9,508.4 C694.4,509.0 705.0,509.5 709.3,509.7" stroke="#777" stroke-width="9.0" opacity="0.22"/><path d="M465.2,509.7 C469.8,509.2 484.2,507.1 493.1,507.1 C502.0,507.1 508.0,508.4 518.6,509.7 C529.2,510.9 544.0,514.1 556.7,514.8 C569.4,515.4 582.1,513.5 594.9,513.5 C607.6,513.5 620.3,515.0 633.0,514.8 C645.7,514.5 664.8,512.6 671.1,512.2" stroke="#777" stroke-width="9.0" opacity="0.22"/><path d="M709.3,471.5 C713.5,472.2 722.0,473.9 734.7,475.3 C747.4,476.8 770.7,477.9 785.6,480.4 C800.4,483.0 813.1,486.8 823.7,490.6 C834.3,494.4 843.2,499.5 849.1,503.3 C855.1,507.1 863.5,510.1 859.3,513.5 C855.1,516.9 836.0,520.7 823.7,523.7 C811.4,526.6 798.3,529.2 785.6,531.3 C772.8,533.4 760.1,534.7 747.4,536.4 C734.7,538.1 722.0,540.2 709.3,541.5 C696.6,542.7 688.1,543.6 671.1,544.0 C654.2,544.4 630.9,544.2 607.6,544.0 C584.3,543.8 544.0,542.9 531.3,542.7" stroke="#777" stroke-width="9.0" opacity="0.22"/><path d="M823.7,470.3 C830.1,471.5 851.3,474.5 861.8,477.9 C872.4,481.3 879.2,485.7 887.3,490.6 C895.3,495.5 910.2,502.5 910.2,507.1 C910.2,511.8 897.4,514.5 887.3,518.6 C877.1,522.6 861.8,527.0 849.1,531.3 C836.4,535.5 817.3,541.9 811.0,544.0" stroke="#777" stroke-width="9.0" opacity="0.22"/><path d="M887.3,480.4 C893.6,481.7 914.8,485.9 925.4,488.1 C936.0,490.2 946.6,492.3 950.8,493.1" stroke="#777" stroke-width="9.0" opacity="0.22"/><path d="M950.8,505.9 C944.5,508.4 925.4,515.6 912.7,521.1 C900.0,526.6 885.2,534.7 874.6,538.9 C864.0,543.2 853.4,545.3 849.1,546.5" stroke="#777" stroke-width="9.0" opacity="0.22"/><path d="M950.8,523.7 C946.6,525.8 933.9,532.8 925.4,536.4 C916.9,540.0 904.2,543.8 900.0,545.3" stroke="#777" stroke-width="9.0" opacity="0.22"/><path d="M950.8,536.4 C947.5,537.4 933.9,541.7 930.5,542.7" stroke="#777" stroke-width="9.0" opacity="0.22"/></g>
<g clip-path="url(#b2f)" fill="none" stroke-linecap="round" stroke-linejoin="round"><path d="M465.2,469.0 C474.1,468.6 501.2,466.4 518.6,466.4 C535.9,466.4 556.3,467.5 569.4,469.0 C582.6,470.5 586.8,474.5 597.4,475.3 C608.0,476.2 620.7,474.9 633.0,474.1 C645.3,473.2 658.4,470.7 671.1,470.3 C683.9,469.8 694.4,471.7 709.3,471.5 C724.1,471.3 743.2,469.6 760.1,469.0 C777.1,468.3 794.0,467.9 811.0,467.7 C827.9,467.5 844.9,466.9 861.8,467.7 C878.8,468.6 897.9,471.1 912.7,472.8 C927.5,474.5 944.5,477.0 950.8,477.9" stroke="#262626" stroke-width="3.9"/><path d="M465.2,479.2 C474.1,478.7 503.3,476.6 518.6,476.6 C533.8,476.6 544.0,477.9 556.7,479.2 C569.4,480.4 580.0,483.6 594.9,484.2 C609.7,484.9 633.0,482.8 645.7,483.0 C658.4,483.2 658.4,484.7 671.1,485.5 C683.9,486.4 705.0,486.8 722.0,488.1 C738.9,489.3 758.9,491.0 772.8,493.1 C786.8,495.3 798.7,498.2 805.9,500.8 C813.1,503.3 816.1,505.4 816.1,508.4 C816.1,511.4 815.2,516.0 805.9,518.6 C796.6,521.1 776.2,522.0 760.1,523.7 C744.0,525.4 726.2,527.5 709.3,528.7 C692.3,530.0 675.4,530.4 658.4,531.3 C641.5,532.1 628.8,533.0 607.6,533.8 C586.4,534.7 555.0,535.5 531.3,536.4 C507.6,537.2 476.2,538.5 465.2,538.9" stroke="#262626" stroke-width="3.9"/><path d="M465.2,488.1 C472.0,487.6 494.8,485.5 505.9,485.5 C516.9,485.5 522.8,486.8 531.3,488.1 C539.8,489.3 546.1,492.1 556.7,493.1 C567.3,494.2 582.1,494.4 594.9,494.4 C607.6,494.4 618.2,492.7 633.0,493.1 C647.8,493.6 669.0,495.7 683.9,497.0 C698.7,498.2 709.3,499.7 722.0,500.8 C734.7,501.8 750.4,501.8 760.1,503.3 C769.9,504.8 784.7,508.2 780.5,509.7 C776.2,511.2 748.7,510.9 734.7,512.2 C720.7,513.5 711.4,515.6 696.6,517.3 C681.7,519.0 664.8,521.1 645.7,522.4 C626.6,523.7 601.2,524.3 582.1,524.9 C563.1,525.6 550.8,525.6 531.3,526.2 C511.8,526.8 476.2,528.3 465.2,528.7" stroke="#262626" stroke-width="3.9"/><path d="M465.2,498.2 C472.0,498.0 494.8,496.7 505.9,497.0 C516.9,497.2 520.7,498.0 531.3,499.5 C541.9,501.0 556.7,504.4 569.4,505.9 C582.1,507.3 594.9,508.4 607.6,508.4 C620.3,508.4 633.0,505.9 645.7,505.9 C658.4,505.9 673.3,507.8 683.9,508.4 C694.4,509.0 705.0,509.5 709.3,509.7" stroke="#262626" stroke-width="3.9"/><path d="M465.2,509.7 C469.8,509.2 484.2,507.1 493.1,507.1 C502.0,507.1 508.0,508.4 518.6,509.7 C529.2,510.9 544.0,514.1 556.7,514.8 C569.4,515.4 582.1,513.5 594.9,513.5 C607.6,513.5 620.3,515.0 633.0,514.8 C645.7,514.5 664.8,512.6 671.1,512.2" stroke="#262626" stroke-width="3.9"/><path d="M709.3,471.5 C713.5,472.2 722.0,473.9 734.7,475.3 C747.4,476.8 770.7,477.9 785.6,480.4 C800.4,483.0 813.1,486.8 823.7,490.6 C834.3,494.4 843.2,499.5 849.1,503.3 C855.1,507.1 863.5,510.1 859.3,513.5 C855.1,516.9 836.0,520.7 823.7,523.7 C811.4,526.6 798.3,529.2 785.6,531.3 C772.8,533.4 760.1,534.7 747.4,536.4 C734.7,538.1 722.0,540.2 709.3,541.5 C696.6,542.7 688.1,543.6 671.1,544.0 C654.2,544.4 630.9,544.2 607.6,544.0 C584.3,543.8 544.0,542.9 531.3,542.7" stroke="#262626" stroke-width="3.9"/><path d="M823.7,470.3 C830.1,471.5 851.3,474.5 861.8,477.9 C872.4,481.3 879.2,485.7 887.3,490.6 C895.3,495.5 910.2,502.5 910.2,507.1 C910.2,511.8 897.4,514.5 887.3,518.6 C877.1,522.6 861.8,527.0 849.1,531.3 C836.4,535.5 817.3,541.9 811.0,544.0" stroke="#262626" stroke-width="3.9"/><path d="M887.3,480.4 C893.6,481.7 914.8,485.9 925.4,488.1 C936.0,490.2 946.6,492.3 950.8,493.1" stroke="#262626" stroke-width="3.9"/><path d="M950.8,505.9 C944.5,508.4 925.4,515.6 912.7,521.1 C900.0,526.6 885.2,534.7 874.6,538.9 C864.0,543.2 853.4,545.3 849.1,546.5" stroke="#262626" stroke-width="3.9"/><path d="M950.8,523.7 C946.6,525.8 933.9,532.8 925.4,536.4 C916.9,540.0 904.2,543.8 900.0,545.3" stroke="#262626" stroke-width="3.9"/><path d="M950.8,536.4 C947.5,537.4 933.9,541.7 930.5,542.7" stroke="#262626" stroke-width="3.9"/></g>
<polyline points="460.0,459.0 460.0,555.0" fill="none" stroke="#262626" stroke-width="7" stroke-linecap="round" stroke-linejoin="round" />
<polyline points="953.0,458.0 955.0,559.0" fill="none" stroke="#262626" stroke-width="7" stroke-linecap="round" stroke-linejoin="round" />
<polygon points="460.0,546.0 955.0,548.0 960.0,560.0 460.0,556.0" fill="#262626" stroke="none" stroke-width="0" stroke-linejoin="round" />
<polygon points="494.3,547.0 523.1,547.0 522.1,553.2 495.3,553.2" fill="#eeeeee" stroke="none" stroke-width="0" stroke-linejoin="round" />
<polygon points="565.0,547.0 589.8,547.0 588.8,554.5 566.0,554.5" fill="#eeeeee" stroke="none" stroke-width="0" stroke-linejoin="round" />
<polygon points="627.8,547.0 652.7,547.0 651.7,555.8 628.8,555.8" fill="#eeeeee" stroke="none" stroke-width="0" stroke-linejoin="round" />
<polygon points="689.3,547.0 709.0,547.0 708.0,554.5 690.3,554.5" fill="#eeeeee" stroke="none" stroke-width="0" stroke-linejoin="round" />
<polygon points="751.1,547.0 774.6,547.0 773.6,555.8 752.1,555.8" fill="#eeeeee" stroke="none" stroke-width="0" stroke-linejoin="round" />
<polygon points="813.9,547.0 841.4,547.0 840.4,555.8 814.9,555.8" fill="#eeeeee" stroke="none" stroke-width="0" stroke-linejoin="round" />
<polygon points="882.0,547.0 914.7,547.0 913.7,557.1 883.0,557.1" fill="#eeeeee" stroke="none" stroke-width="0" stroke-linejoin="round" />
<polygon points="490.0,554.0 544.0,559.0 521.0,577.0 492.0,577.0" fill="#262626" stroke="none" stroke-width="0" stroke-linejoin="round" />
<polygon points="496.0,561.0 507.0,561.0 507.0,571.0 496.0,571.0" fill="#c8c8c8" stroke="none" stroke-width="0" stroke-linejoin="round" />
<polygon points="891.0,558.0 960.0,559.0 920.0,580.0 893.0,580.0" fill="#262626" stroke="none" stroke-width="0" stroke-linejoin="round" />
<polygon points="898.0,563.0 910.0,563.0 910.0,572.0 898.0,572.0" fill="#c8c8c8" stroke="none" stroke-width="0" stroke-linejoin="round" />
<polygon points="39.0,635.0 73.0,617.0 86.0,620.0 91.0,1030.0 45.0,1030.0" fill="#7c7c7c" stroke="#262626" stroke-width="5" stroke-linejoin="round" />
<polygon points="43.0,638.0 55.0,632.0 61.0,1030.0 49.0,1030.0" fill="#f0f0f0" stroke="none" stroke-width="0" stroke-linejoin="round" />
<polyline points="57.0,636.0 63.0,1028.0" fill="none" stroke="#262626" stroke-width="5" stroke-linecap="round" stroke-linejoin="round" />
<path d="M66.0,650.0 C66.3,668.3 68.2,723.3 68.0,760.0 C67.8,796.7 64.8,825.8 65.0,870.0 C65.2,914.2 68.3,999.2 69.0,1025.0" fill="none" stroke="#262626" stroke-width="2.8" stroke-linecap="round" stroke-linejoin="round" />
<path d="M72.0,650.0 C72.3,668.3 74.2,723.3 74.0,760.0 C73.8,796.7 70.8,825.8 71.0,870.0 C71.2,914.2 74.3,999.2 75.0,1025.0" fill="none" stroke="#262626" stroke-width="2.6" stroke-linecap="round" stroke-linejoin="round" />
<path d="M78.0,650.0 C78.3,668.3 80.2,723.3 80.0,760.0 C79.8,796.7 76.8,825.8 77.0,870.0 C77.2,914.2 80.3,999.2 81.0,1025.0" fill="none" stroke="#262626" stroke-width="2.8" stroke-linecap="round" stroke-linejoin="round" />
<path d="M69.0,660.0 C69.3,678.3 71.2,733.3 71.0,770.0 C70.8,806.7 68.0,838.3 68.0,880.0 C68.0,921.7 70.5,996.7 71.0,1020.0" fill="none" stroke="#d0d0d0" stroke-width="1.5" stroke-linecap="round" stroke-linejoin="round" />
<path d="M75.0,660.0 C75.3,678.3 77.2,733.3 77.0,770.0 C76.8,806.7 74.0,838.3 74.0,880.0 C74.0,921.7 76.5,996.7 77.0,1020.0" fill="none" stroke="#d0d0d0" stroke-width="1.5" stroke-linecap="round" stroke-linejoin="round" />
<path d="M81.0,660.0 C81.3,678.3 83.2,733.3 83.0,770.0 C82.8,806.7 80.0,838.3 80.0,880.0 C80.0,921.7 82.5,996.7 83.0,1020.0" fill="none" stroke="#d0d0d0" stroke-width="1.5" stroke-linecap="round" stroke-linejoin="round" />
<polygon points="39.0,635.0 73.0,617.0 86.0,620.0 58.0,634.0" fill="#262626" stroke="none" stroke-width="0" stroke-linejoin="round" />
<polyline points="50.0,630.0 72.0,621.0" fill="none" stroke="#cfcfcf" stroke-width="2" stroke-linecap="round" stroke-linejoin="round" />
<polyline points="86.0,620.0 91.0,1030.0" fill="none" stroke="#262626" stroke-width="6" stroke-linecap="round" stroke-linejoin="round" />
<polygon points="68.0,642.0 530.0,645.0 530.0,669.0 68.0,669.0" fill="#fafafa" stroke="#262626" stroke-width="4" stroke-linejoin="round" />
<polyline points="70.0,662.0 528.0,663.0" fill="none" stroke="#262626" stroke-width="4" stroke-linecap="round" stroke-linejoin="round" />
<polyline points="70.0,666.0 528.0,667.0" fill="none" stroke="#cccccc" stroke-width="1.2" stroke-linecap="round" stroke-linejoin="round" />
<polygon points="716.0,766.0 845.0,700.0 846.0,798.0 721.0,900.0" fill="#262626" stroke="none" stroke-width="0" stroke-linejoin="round" />
<g clip-path="url(#b3r)" opacity="0.85" fill="none"><path d="M714.6,618.4 L726.9,611.7" stroke="#8c8c8c" stroke-width="2.0" stroke-linecap="round"/><path d="M737.9,606.8 L770.0,588.3" stroke="#8c8c8c" stroke-width="2.7" stroke-linecap="round"/><path d="M826.7,558.0 L847.9,547.7" stroke="#8c8c8c" stroke-width="2.0" stroke-linecap="round"/><path d="M771.6,593.9 L810.9,572.2" stroke="#8c8c8c" stroke-width="2.0" stroke-linecap="round"/><path d="M815.4,569.7 L848.7,550.8" stroke="#8c8c8c" stroke-width="1.6" stroke-linecap="round"/><path d="M801.5,582.6 L834.6,564.5" stroke="#8c8c8c" stroke-width="3.0" stroke-linecap="round"/><path d="M717.1,634.5 L745.8,619.5" stroke="#8c8c8c" stroke-width="2.5" stroke-linecap="round"/><path d="M767.7,606.3 L800.7,590.1" stroke="#8c8c8c" stroke-width="1.8" stroke-linecap="round"/><path d="M814.8,582.2 L829.6,573.4" stroke="#8c8c8c" stroke-width="2.6" stroke-linecap="round"/><path d="M839.6,568.3 L872.7,550.4" stroke="#8c8c8c" stroke-width="1.6" stroke-linecap="round"/><path d="M799.4,594.2 L838.5,572.8" stroke="#8c8c8c" stroke-width="1.9" stroke-linecap="round"/><path d="M711.3,646.1 L746.7,626.8" stroke="#8c8c8c" stroke-width="3.3" stroke-linecap="round"/><path d="M751.6,625.2 L769.5,615.1" stroke="#8c8c8c" stroke-width="3.3" stroke-linecap="round"/><path d="M776.8,611.0 L798.0,600.0" stroke="#8c8c8c" stroke-width="2.5" stroke-linecap="round"/><path d="M830.5,582.1 L862.2,564.1" stroke="#8c8c8c" stroke-width="3.3" stroke-linecap="round"/><path d="M702.3,656.0 L715.4,649.5" stroke="#8c8c8c" stroke-width="2.7" stroke-linecap="round"/><path d="M726.2,643.8 L742.5,633.4" stroke="#8c8c8c" stroke-width="2.8" stroke-linecap="round"/><path d="M760.5,625.2 L796.8,604.6" stroke="#8c8c8c" stroke-width="2.4" stroke-linecap="round"/><path d="M805.5,599.6 L839.4,581.4" stroke="#8c8c8c" stroke-width="3.0" stroke-linecap="round"/><path d="M691.9,667.3 L702.7,661.5" stroke="#8c8c8c" stroke-width="3.5" stroke-linecap="round"/><path d="M711.2,656.8 L728.5,647.1" stroke="#8c8c8c" stroke-width="2.5" stroke-linecap="round"/><path d="M735.8,644.0 L744.7,638.3" stroke="#8c8c8c" stroke-width="3.5" stroke-linecap="round"/><path d="M817.5,599.3 L842.9,584.8" stroke="#8c8c8c" stroke-width="2.3" stroke-linecap="round"/><path d="M729.6,653.1 L747.9,642.5" stroke="#8c8c8c" stroke-width="2.4" stroke-linecap="round"/><path d="M758.9,636.2 L793.0,619.5" stroke="#8c8c8c" stroke-width="3.0" stroke-linecap="round"/><path d="M841.8,593.1 L852.5,585.6" stroke="#8c8c8c" stroke-width="1.7" stroke-linecap="round"/><path d="M713.7,666.3 L735.0,654.4" stroke="#8c8c8c" stroke-width="3.2" stroke-linecap="round"/><path d="M748.7,648.3 L771.0,636.7" stroke="#8c8c8c" stroke-width="3.3" stroke-linecap="round"/><path d="M783.7,628.2 L814.8,612.8" stroke="#8c8c8c" stroke-width="1.7" stroke-linecap="round"/><path d="M824.9,606.4 L851.2,592.2" stroke="#8c8c8c" stroke-width="3.5" stroke-linecap="round"/><path d="M689.8,686.4 L699.8,681.8" stroke="#8c8c8c" stroke-width="3.1" stroke-linecap="round"/><path d="M807.0,623.7 L829.8,611.4" stroke="#8c8c8c" stroke-width="1.8" stroke-linecap="round"/><path d="M836.2,608.1 L856.8,595.9" stroke="#8c8c8c" stroke-width="2.2" stroke-linecap="round"/><path d="M701.8,684.7 L731.2,668.9" stroke="#8c8c8c" stroke-width="3.4" stroke-linecap="round"/><path d="M741.3,664.4 L755.3,655.7" stroke="#8c8c8c" stroke-width="3.2" stroke-linecap="round"/><path d="M772.9,647.3 L795.0,634.8" stroke="#8c8c8c" stroke-width="2.6" stroke-linecap="round"/><path d="M800.4,630.9 L820.0,621.3" stroke="#8c8c8c" stroke-width="2.2" stroke-linecap="round"/><path d="M707.2,695.6 L718.3,688.6" stroke="#8c8c8c" stroke-width="2.7" stroke-linecap="round"/><path d="M733.4,680.4 L767.3,661.4" stroke="#8c8c8c" stroke-width="2.5" stroke-linecap="round"/><path d="M787.0,651.2 L799.8,645.2" stroke="#8c8c8c" stroke-width="3.3" stroke-linecap="round"/><path d="M819.6,633.1 L838.8,622.6" stroke="#8c8c8c" stroke-width="3.3" stroke-linecap="round"/><path d="M693.8,707.5 L725.3,690.2" stroke="#8c8c8c" stroke-width="1.7" stroke-linecap="round"/><path d="M739.9,681.1 L776.3,661.2" stroke="#8c8c8c" stroke-width="3.2" stroke-linecap="round"/><path d="M791.8,652.7 L826.6,634.5" stroke="#8c8c8c" stroke-width="2.2" stroke-linecap="round"/><path d="M702.9,705.4 L727.5,692.2" stroke="#8c8c8c" stroke-width="3.6" stroke-linecap="round"/><path d="M813.7,645.9 L841.1,631.7" stroke="#8c8c8c" stroke-width="3.4" stroke-linecap="round"/><path d="M730.4,696.4 L756.6,681.1" stroke="#8c8c8c" stroke-width="3.5" stroke-linecap="round"/><path d="M763.3,677.6 L792.4,662.4" stroke="#8c8c8c" stroke-width="2.3" stroke-linecap="round"/><path d="M805.2,656.4 L821.2,647.8" stroke="#8c8c8c" stroke-width="2.5" stroke-linecap="round"/><path d="M836.8,638.5 L867.7,622.6" stroke="#8c8c8c" stroke-width="1.6" stroke-linecap="round"/><path d="M704.9,715.0 L738.5,697.8" stroke="#8c8c8c" stroke-width="2.8" stroke-linecap="round"/><path d="M759.6,686.3 L789.3,670.6" stroke="#8c8c8c" stroke-width="1.6" stroke-linecap="round"/><path d="M701.4,723.3 L715.1,716.4" stroke="#8c8c8c" stroke-width="1.8" stroke-linecap="round"/><path d="M729.9,706.5 L759.0,692.6" stroke="#8c8c8c" stroke-width="3.0" stroke-linecap="round"/><path d="M807.6,665.2 L828.7,654.7" stroke="#8c8c8c" stroke-width="2.5" stroke-linecap="round"/><path d="M704.8,726.6 L742.8,704.5" stroke="#8c8c8c" stroke-width="2.1" stroke-linecap="round"/><path d="M757.7,696.8 L768.6,691.1" stroke="#8c8c8c" stroke-width="2.1" stroke-linecap="round"/><path d="M784.7,683.3 L815.3,665.0" stroke="#8c8c8c" stroke-width="2.7" stroke-linecap="round"/><path d="M833.0,655.5 L846.5,648.1" stroke="#8c8c8c" stroke-width="1.8" stroke-linecap="round"/><path d="M714.0,725.8 L747.9,707.9" stroke="#8c8c8c" stroke-width="3.6" stroke-linecap="round"/><path d="M769.8,696.1 L795.2,682.8" stroke="#8c8c8c" stroke-width="2.0" stroke-linecap="round"/><path d="M690.1,745.6 L729.6,723.8" stroke="#8c8c8c" stroke-width="3.5" stroke-linecap="round"/><path d="M785.7,693.4 L815.7,677.5" stroke="#8c8c8c" stroke-width="2.3" stroke-linecap="round"/><path d="M826.8,671.8 L860.0,653.6" stroke="#8c8c8c" stroke-width="2.4" stroke-linecap="round"/><path d="M704.2,742.9 L740.9,723.4" stroke="#8c8c8c" stroke-width="2.0" stroke-linecap="round"/><path d="M759.6,713.6 L779.4,701.1" stroke="#8c8c8c" stroke-width="3.4" stroke-linecap="round"/><path d="M793.9,694.9 L823.3,678.7" stroke="#8c8c8c" stroke-width="2.0" stroke-linecap="round"/><path d="M834.4,672.0 L853.0,661.7" stroke="#8c8c8c" stroke-width="3.0" stroke-linecap="round"/><path d="M806.9,692.7 L816.9,686.5" stroke="#8c8c8c" stroke-width="3.1" stroke-linecap="round"/><path d="M826.2,681.9 L842.9,672.9" stroke="#8c8c8c" stroke-width="3.3" stroke-linecap="round"/><path d="M708.7,752.4 L731.0,739.3" stroke="#8c8c8c" stroke-width="3.5" stroke-linecap="round"/><path d="M745.1,731.8 L765.4,721.4" stroke="#8c8c8c" stroke-width="1.6" stroke-linecap="round"/><path d="M786.5,709.4 L797.9,703.8" stroke="#8c8c8c" stroke-width="2.5" stroke-linecap="round"/><path d="M690.1,765.8 L721.8,748.4" stroke="#8c8c8c" stroke-width="2.7" stroke-linecap="round"/><path d="M729.9,744.2 L769.3,724.4" stroke="#8c8c8c" stroke-width="2.7" stroke-linecap="round"/><path d="M782.0,717.5 L798.2,707.8" stroke="#8c8c8c" stroke-width="2.1" stroke-linecap="round"/><path d="M699.7,766.3 L730.7,749.6" stroke="#8c8c8c" stroke-width="1.6" stroke-linecap="round"/><path d="M790.1,718.5 L812.4,705.8" stroke="#8c8c8c" stroke-width="3.0" stroke-linecap="round"/><path d="M829.6,697.0 L856.8,682.0" stroke="#8c8c8c" stroke-width="2.6" stroke-linecap="round"/><path d="M709.5,768.3 L740.9,751.1" stroke="#8c8c8c" stroke-width="2.0" stroke-linecap="round"/><path d="M753.9,744.9 L786.6,728.1" stroke="#8c8c8c" stroke-width="3.2" stroke-linecap="round"/><path d="M799.2,719.8 L817.3,710.9" stroke="#8c8c8c" stroke-width="1.6" stroke-linecap="round"/><path d="M737.0,760.8 L773.3,741.0" stroke="#8c8c8c" stroke-width="3.6" stroke-linecap="round"/><path d="M689.3,791.3 L725.4,771.2" stroke="#8c8c8c" stroke-width="1.9" stroke-linecap="round"/><path d="M773.0,746.7 L783.3,739.7" stroke="#8c8c8c" stroke-width="2.3" stroke-linecap="round"/><path d="M800.7,731.0 L838.0,711.8" stroke="#8c8c8c" stroke-width="1.9" stroke-linecap="round"/><path d="M707.2,787.2 L725.1,779.1" stroke="#8c8c8c" stroke-width="3.1" stroke-linecap="round"/><path d="M737.9,771.4 L765.0,756.7" stroke="#8c8c8c" stroke-width="1.6" stroke-linecap="round"/><path d="M771.5,753.2 L809.9,732.9" stroke="#8c8c8c" stroke-width="2.3" stroke-linecap="round"/><path d="M820.7,727.0 L845.2,713.8" stroke="#8c8c8c" stroke-width="2.3" stroke-linecap="round"/><path d="M685.2,808.0 L703.3,798.1" stroke="#8c8c8c" stroke-width="3.6" stroke-linecap="round"/><path d="M722.7,786.9 L744.0,774.3" stroke="#8c8c8c" stroke-width="2.9" stroke-linecap="round"/><path d="M809.4,739.7 L847.8,718.2" stroke="#8c8c8c" stroke-width="2.0" stroke-linecap="round"/><path d="M744.9,781.9 L755.1,777.4" stroke="#8c8c8c" stroke-width="2.8" stroke-linecap="round"/><path d="M766.5,770.3 L801.4,751.8" stroke="#8c8c8c" stroke-width="2.1" stroke-linecap="round"/><path d="M807.8,748.9 L832.4,735.0" stroke="#8c8c8c" stroke-width="3.4" stroke-linecap="round"/><path d="M842.6,729.3 L867.4,716.8" stroke="#8c8c8c" stroke-width="2.3" stroke-linecap="round"/><path d="M697.3,815.5 L735.3,795.9" stroke="#8c8c8c" stroke-width="3.5" stroke-linecap="round"/><path d="M741.0,793.2 L776.3,772.5" stroke="#8c8c8c" stroke-width="3.3" stroke-linecap="round"/><path d="M787.2,766.6 L814.2,752.2" stroke="#8c8c8c" stroke-width="2.4" stroke-linecap="round"/><path d="M704.5,818.5 L717.0,810.4" stroke="#8c8c8c" stroke-width="2.0" stroke-linecap="round"/><path d="M775.4,779.9 L788.5,773.0" stroke="#8c8c8c" stroke-width="2.4" stroke-linecap="round"/><path d="M805.6,763.4 L833.0,749.4" stroke="#8c8c8c" stroke-width="3.4" stroke-linecap="round"/><path d="M691.5,829.9 L728.4,811.3" stroke="#8c8c8c" stroke-width="1.9" stroke-linecap="round"/><path d="M838.8,750.1 L873.9,731.0" stroke="#8c8c8c" stroke-width="2.7" stroke-linecap="round"/><path d="M686.2,839.9 L695.1,835.1" stroke="#8c8c8c" stroke-width="3.0" stroke-linecap="round"/><path d="M709.9,825.5 L741.2,809.7" stroke="#8c8c8c" stroke-width="2.8" stroke-linecap="round"/><path d="M752.0,802.9 L767.9,794.9" stroke="#8c8c8c" stroke-width="2.5" stroke-linecap="round"/><path d="M775.7,791.3 L785.5,785.8" stroke="#8c8c8c" stroke-width="2.8" stroke-linecap="round"/><path d="M795.4,778.9 L833.8,758.3" stroke="#8c8c8c" stroke-width="2.1" stroke-linecap="round"/><path d="M840.6,754.8 L866.0,741.3" stroke="#8c8c8c" stroke-width="3.5" stroke-linecap="round"/><path d="M685.5,845.7 L703.8,836.0" stroke="#8c8c8c" stroke-width="1.8" stroke-linecap="round"/><path d="M738.8,817.0 L762.8,804.3" stroke="#8c8c8c" stroke-width="1.6" stroke-linecap="round"/><path d="M775.6,795.4 L814.8,775.5" stroke="#8c8c8c" stroke-width="3.2" stroke-linecap="round"/><path d="M827.5,769.0 L848.9,755.9" stroke="#8c8c8c" stroke-width="1.9" stroke-linecap="round"/><path d="M705.1,840.7 L741.5,820.2" stroke="#8c8c8c" stroke-width="2.2" stroke-linecap="round"/><path d="M788.5,795.2 L825.8,774.6" stroke="#8c8c8c" stroke-width="3.1" stroke-linecap="round"/><path d="M830.2,771.7 L867.8,752.1" stroke="#8c8c8c" stroke-width="2.0" stroke-linecap="round"/><path d="M689.6,852.7 L718.5,836.6" stroke="#8c8c8c" stroke-width="3.5" stroke-linecap="round"/><path d="M734.0,828.1 L767.2,811.0" stroke="#8c8c8c" stroke-width="1.8" stroke-linecap="round"/><path d="M821.9,780.8 L835.8,773.5" stroke="#8c8c8c" stroke-width="2.0" stroke-linecap="round"/><path d="M738.5,831.3 L762.8,819.4" stroke="#8c8c8c" stroke-width="1.6" stroke-linecap="round"/><path d="M770.4,814.3 L787.8,804.2" stroke="#8c8c8c" stroke-width="1.9" stroke-linecap="round"/><path d="M808.5,793.3 L843.1,775.7" stroke="#8c8c8c" stroke-width="1.8" stroke-linecap="round"/><path d="M709.1,853.4 L747.2,832.3" stroke="#8c8c8c" stroke-width="1.6" stroke-linecap="round"/><path d="M751.5,828.8 L780.7,812.9" stroke="#8c8c8c" stroke-width="2.7" stroke-linecap="round"/><path d="M790.2,808.4 L822.3,792.0" stroke="#8c8c8c" stroke-width="1.9" stroke-linecap="round"/><path d="M842.5,780.7 L879.7,760.2" stroke="#8c8c8c" stroke-width="3.0" stroke-linecap="round"/><path d="M694.3,866.9 L723.9,850.8" stroke="#8c8c8c" stroke-width="3.0" stroke-linecap="round"/><path d="M736.6,845.1 L749.5,837.1" stroke="#8c8c8c" stroke-width="3.1" stroke-linecap="round"/><path d="M785.8,818.1 L819.9,798.3" stroke="#8c8c8c" stroke-width="3.0" stroke-linecap="round"/><path d="M711.5,865.5 L745.4,846.5" stroke="#8c8c8c" stroke-width="2.4" stroke-linecap="round"/><path d="M752.3,843.4 L788.3,824.2" stroke="#8c8c8c" stroke-width="3.0" stroke-linecap="round"/><path d="M807.6,812.3 L823.2,804.8" stroke="#8c8c8c" stroke-width="1.8" stroke-linecap="round"/><path d="M836.8,796.2 L850.8,789.9" stroke="#8c8c8c" stroke-width="3.2" stroke-linecap="round"/><path d="M713.7,869.3 L751.8,848.5" stroke="#8c8c8c" stroke-width="3.1" stroke-linecap="round"/><path d="M768.7,838.8 L801.8,822.1" stroke="#8c8c8c" stroke-width="2.6" stroke-linecap="round"/><path d="M831.4,805.0 L863.8,788.1" stroke="#8c8c8c" stroke-width="2.5" stroke-linecap="round"/><path d="M714.3,876.4 L723.8,871.9" stroke="#8c8c8c" stroke-width="3.1" stroke-linecap="round"/><path d="M728.4,869.3 L762.0,850.5" stroke="#8c8c8c" stroke-width="2.1" stroke-linecap="round"/><path d="M767.4,848.9 L781.5,840.7" stroke="#8c8c8c" stroke-width="3.5" stroke-linecap="round"/><path d="M791.8,835.7 L802.4,828.7" stroke="#8c8c8c" stroke-width="2.2" stroke-linecap="round"/><path d="M808.5,824.9 L829.5,813.5" stroke="#8c8c8c" stroke-width="3.6" stroke-linecap="round"/><path d="M833.5,812.1 L862.4,796.1" stroke="#8c8c8c" stroke-width="2.5" stroke-linecap="round"/><path d="M694.6,894.5 L708.2,887.2" stroke="#8c8c8c" stroke-width="1.7" stroke-linecap="round"/><path d="M746.5,865.7 L785.2,845.1" stroke="#8c8c8c" stroke-width="2.8" stroke-linecap="round"/><path d="M790.8,842.5 L822.2,824.6" stroke="#8c8c8c" stroke-width="2.0" stroke-linecap="round"/><path d="M836.8,817.6 L860.8,805.1" stroke="#8c8c8c" stroke-width="3.6" stroke-linecap="round"/><path d="M710.7,892.7 L737.1,877.1" stroke="#8c8c8c" stroke-width="2.9" stroke-linecap="round"/><path d="M839.9,821.1 L863.8,809.9" stroke="#8c8c8c" stroke-width="2.3" stroke-linecap="round"/><path d="M713.2,897.1 L741.2,881.4" stroke="#8c8c8c" stroke-width="2.7" stroke-linecap="round"/><path d="M748.0,877.5 L765.1,869.2" stroke="#8c8c8c" stroke-width="3.0" stroke-linecap="round"/><path d="M770.5,866.0 L793.4,853.6" stroke="#8c8c8c" stroke-width="2.2" stroke-linecap="round"/><path d="M807.3,846.2 L828.2,834.1" stroke="#8c8c8c" stroke-width="1.7" stroke-linecap="round"/><path d="M837.4,830.0 L868.8,812.9" stroke="#8c8c8c" stroke-width="2.7" stroke-linecap="round"/><path d="M687.8,913.8 L698.1,909.8" stroke="#8c8c8c" stroke-width="3.0" stroke-linecap="round"/><path d="M711.5,901.4 L739.2,887.4" stroke="#8c8c8c" stroke-width="2.0" stroke-linecap="round"/><path d="M746.5,882.6 L773.3,867.8" stroke="#8c8c8c" stroke-width="2.8" stroke-linecap="round"/><path d="M792.6,858.5 L811.5,847.3" stroke="#8c8c8c" stroke-width="2.6" stroke-linecap="round"/><path d="M832.8,835.4 L864.6,818.6" stroke="#8c8c8c" stroke-width="1.7" stroke-linecap="round"/><path d="M701.1,912.9 L737.3,893.8" stroke="#8c8c8c" stroke-width="3.0" stroke-linecap="round"/><path d="M804.4,856.5 L832.0,841.4" stroke="#8c8c8c" stroke-width="2.7" stroke-linecap="round"/><path d="M845.8,833.1 L855.9,829.2" stroke="#8c8c8c" stroke-width="3.3" stroke-linecap="round"/><path d="M702.2,918.8 L715.7,911.1" stroke="#8c8c8c" stroke-width="2.5" stroke-linecap="round"/><path d="M726.5,905.9 L762.9,886.7" stroke="#8c8c8c" stroke-width="3.6" stroke-linecap="round"/><path d="M783.9,874.2 L809.3,861.2" stroke="#8c8c8c" stroke-width="3.4" stroke-linecap="round"/><path d="M696.2,927.5 L714.1,917.4" stroke="#8c8c8c" stroke-width="2.1" stroke-linecap="round"/><path d="M732.9,907.4 L756.8,893.0" stroke="#8c8c8c" stroke-width="3.4" stroke-linecap="round"/><path d="M771.0,886.4 L808.4,866.6" stroke="#8c8c8c" stroke-width="1.9" stroke-linecap="round"/><path d="M817.9,860.6 L853.0,841.7" stroke="#8c8c8c" stroke-width="1.6" stroke-linecap="round"/><path d="M694.6,931.8 L731.0,912.6" stroke="#8c8c8c" stroke-width="2.5" stroke-linecap="round"/><path d="M708.9,931.8 L730.7,919.4" stroke="#8c8c8c" stroke-width="3.0" stroke-linecap="round"/><path d="M751.1,908.5 L786.6,890.6" stroke="#8c8c8c" stroke-width="2.0" stroke-linecap="round"/><path d="M793.9,886.8 L829.9,867.2" stroke="#8c8c8c" stroke-width="2.6" stroke-linecap="round"/><path d="M710.8,936.8 L747.2,916.8" stroke="#8c8c8c" stroke-width="3.0" stroke-linecap="round"/><path d="M788.2,896.2 L804.5,885.5" stroke="#8c8c8c" stroke-width="1.8" stroke-linecap="round"/><path d="M726.3,935.9 L755.8,921.2" stroke="#8c8c8c" stroke-width="2.7" stroke-linecap="round"/><path d="M770.7,911.5 L794.7,899.7" stroke="#8c8c8c" stroke-width="2.8" stroke-linecap="round"/><path d="M803.1,894.3 L822.6,884.8" stroke="#8c8c8c" stroke-width="3.6" stroke-linecap="round"/><path d="M832.0,879.9 L853.1,867.1" stroke="#8c8c8c" stroke-width="3.1" stroke-linecap="round"/><path d="M685.8,965.4 L699.5,957.7" stroke="#8c8c8c" stroke-width="2.0" stroke-linecap="round"/><path d="M751.8,929.1 L779.0,913.9" stroke="#8c8c8c" stroke-width="3.2" stroke-linecap="round"/><path d="M792.0,907.9 L828.4,886.4" stroke="#8c8c8c" stroke-width="3.3" stroke-linecap="round"/><path d="M710.5,955.7 L724.4,948.0" stroke="#8c8c8c" stroke-width="2.2" stroke-linecap="round"/><path d="M735.8,942.0 L762.3,927.7" stroke="#8c8c8c" stroke-width="3.6" stroke-linecap="round"/><path d="M803.3,905.4 L824.0,895.0" stroke="#8c8c8c" stroke-width="2.3" stroke-linecap="round"/><path d="M839.3,886.3 L876.5,865.6" stroke="#8c8c8c" stroke-width="1.6" stroke-linecap="round"/><path d="M687.3,974.7 L717.6,959.5" stroke="#8c8c8c" stroke-width="2.9" stroke-linecap="round"/><path d="M727.8,953.3 L753.7,938.6" stroke="#8c8c8c" stroke-width="2.2" stroke-linecap="round"/><path d="M768.7,931.2 L796.1,916.3" stroke="#8c8c8c" stroke-width="3.3" stroke-linecap="round"/><path d="M815.9,906.4 L845.2,889.1" stroke="#8c8c8c" stroke-width="2.9" stroke-linecap="round"/><path d="M686.0,983.5 L716.2,966.1" stroke="#8c8c8c" stroke-width="3.5" stroke-linecap="round"/><path d="M782.9,931.3 L792.7,925.5" stroke="#8c8c8c" stroke-width="3.2" stroke-linecap="round"/><path d="M811.6,915.2 L828.0,905.3" stroke="#8c8c8c" stroke-width="3.4" stroke-linecap="round"/><path d="M843.4,898.2 L877.6,878.5" stroke="#8c8c8c" stroke-width="3.1" stroke-linecap="round"/><path d="M692.0,984.9 L729.8,964.7" stroke="#8c8c8c" stroke-width="1.8" stroke-linecap="round"/><path d="M751.3,953.8 L769.6,942.6" stroke="#8c8c8c" stroke-width="3.1" stroke-linecap="round"/><path d="M837.5,905.2 L871.2,887.2" stroke="#8c8c8c" stroke-width="2.8" stroke-linecap="round"/><path d="M696.9,990.0 L716.0,979.1" stroke="#8c8c8c" stroke-width="2.2" stroke-linecap="round"/><path d="M733.7,970.8 L755.4,958.1" stroke="#8c8c8c" stroke-width="2.2" stroke-linecap="round"/><path d="M765.0,952.9 L792.5,939.1" stroke="#8c8c8c" stroke-width="2.2" stroke-linecap="round"/><path d="M812.6,926.8 L832.2,917.1" stroke="#8c8c8c" stroke-width="2.7" stroke-linecap="round"/><path d="M840.6,912.4 L877.0,891.7" stroke="#8c8c8c" stroke-width="3.5" stroke-linecap="round"/></g>
<polygon points="223.0,775.0 378.0,696.0 844.0,701.0 716.0,766.0" fill="#262626" stroke="#262626" stroke-width="5" stroke-linejoin="round" />
<polygon points="403.7,729.0 750.7,730.0 710.0,759.3 403.7,759.3" fill="#7e7e7e" stroke="none" stroke-width="0" stroke-linejoin="round" />
<polyline points="252.0,770.0 391.0,706.0" fill="none" stroke="#c4c4c4" stroke-width="6" stroke-linecap="round" stroke-linejoin="round" />
<polygon points="405.0,706.3 822.0,706.3 814.0,714.5 405.0,714.5" fill="#cfcfcf" stroke="none" stroke-width="0" stroke-linejoin="round" />
<polygon points="398.0,718.0 775.0,718.0 768.0,724.5 398.0,724.5" fill="#b4b4b4" stroke="none" stroke-width="0" stroke-linejoin="round" />
<polygon points="715.4,761.0 781.5,720.0 798.0,720.0 731.0,761.0" fill="#dcdcdc" stroke="none" stroke-width="0" stroke-linejoin="round" />
<polygon points="224.0,771.0 718.0,764.0 718.0,783.0 224.0,783.0" fill="#262626" stroke="none" stroke-width="0" stroke-linejoin="round" />
<polyline points="275.0,768.0 713.0,766.0" fill="none" stroke="#c8c8c8" stroke-width="5" stroke-linecap="round" stroke-linejoin="round" />
<polygon points="224.0,782.0 718.0,781.0 718.0,884.0 225.0,883.0" fill="#e6e6e6" stroke="none" stroke-width="0" stroke-linejoin="round" />
<g clip-path="url(#b3f)" fill="none" stroke-linecap="round" stroke-linejoin="round"><path d="M229.8,793.4 C236.3,793.2 257.1,791.7 268.8,791.9 C280.5,792.0 289.6,793.5 300.0,794.2 C310.5,794.8 320.9,795.9 331.3,795.8 C341.7,795.6 354.7,794.6 362.5,793.4 C370.3,792.2 372.9,790.3 378.1,788.7 C383.3,787.2 391.1,784.8 393.7,784.0" stroke="#777" stroke-width="9.0" opacity="0.22"/><path d="M229.8,805.9 C236.3,806.0 257.1,806.3 268.8,806.7 C280.5,807.1 289.6,807.7 300.0,808.2 C310.5,808.8 320.9,810.5 331.3,809.8 C341.7,809.2 352.1,806.3 362.5,804.3 C372.9,802.4 383.3,800.2 393.7,798.1 C404.1,796.0 414.5,793.7 424.9,791.9 C435.3,790.0 444.4,788.5 456.1,787.2 C467.8,785.9 488.7,784.6 495.2,784.0" stroke="#777" stroke-width="9.0" opacity="0.22"/><path d="M229.8,819.9 C236.3,819.4 257.1,817.3 268.8,816.8 C280.5,816.3 289.6,816.3 300.0,816.8 C310.5,817.3 320.9,819.4 331.3,819.9 C341.7,820.5 352.1,820.7 362.5,819.9 C372.9,819.2 383.3,817.1 393.7,815.3 C404.1,813.4 414.5,810.8 424.9,809.0 C435.3,807.2 445.7,805.9 456.1,804.3 C466.5,802.8 475.4,800.8 487.4,799.7 C499.3,798.5 511.3,799.5 527.9,797.3 C544.6,795.2 568.9,788.7 587.4,786.7 C605.9,784.6 618.5,785.1 638.9,785.1 C659.3,785.1 698.0,786.4 709.8,786.7" stroke="#777" stroke-width="9.0" opacity="0.22"/><path d="M229.8,834.0 C233.7,833.2 244.1,829.8 253.2,829.3 C262.3,828.8 274.0,830.1 284.4,830.9 C294.8,831.7 306.6,833.2 315.7,834.0 C324.8,834.8 328.7,835.8 339.1,835.6 C349.5,835.3 366.4,834.0 378.1,832.4 C389.8,830.9 398.9,828.3 409.3,826.2 C419.7,824.1 430.1,821.8 440.5,819.9 C450.9,818.1 461.3,816.8 471.7,815.3 C482.2,813.7 493.6,811.8 503.0,810.6 C512.3,809.4 513.9,810.1 527.9,808.2 C542.0,806.4 568.9,801.6 587.4,799.6 C605.9,797.6 618.5,796.9 638.9,796.3 C659.3,795.8 698.0,796.3 709.8,796.3" stroke="#777" stroke-width="9.0" opacity="0.22"/><path d="M229.8,843.4 C235.0,843.1 250.6,841.5 261.0,841.8 C271.4,842.1 281.8,843.6 292.2,844.9 C302.6,846.2 313.1,849.1 323.5,849.6 C333.9,850.1 343.0,849.6 354.7,848.0 C366.4,846.5 382.0,842.3 393.7,840.2 C405.4,838.2 414.5,837.4 424.9,835.6 C435.3,833.7 445.7,831.4 456.1,829.3 C466.5,827.2 475.4,825.4 487.4,823.1 C499.3,820.7 511.3,817.0 527.9,815.3 C544.6,813.5 566.2,813.2 587.4,812.5 C608.6,811.7 634.6,811.7 655.0,810.8 C675.5,810.0 700.7,808.2 709.8,807.6" stroke="#777" stroke-width="9.0" opacity="0.22"/><path d="M229.8,854.3 C236.3,854.6 257.1,855.1 268.8,855.9 C280.5,856.6 289.6,857.7 300.0,859.0 C310.5,860.3 320.9,863.1 331.3,863.7 C341.7,864.2 352.1,863.1 362.5,862.1 C372.9,861.1 383.3,859.5 393.7,857.4 C404.1,855.3 414.5,851.9 424.9,849.6 C435.3,847.3 445.7,845.7 456.1,843.4 C466.5,841.0 475.4,838.2 487.4,835.6 C499.3,833.0 511.3,829.5 527.9,827.8 C544.6,826.1 568.9,826.3 587.4,825.3 C605.9,824.4 618.5,823.2 638.9,822.1 C659.3,821.1 698.0,819.4 709.8,818.9" stroke="#777" stroke-width="9.0" opacity="0.22"/><path d="M229.8,863.7 C236.3,864.2 254.5,865.5 268.8,866.8 C283.1,868.1 300.0,870.4 315.7,871.5 C331.3,872.5 346.9,874.1 362.5,873.0 C378.1,872.0 396.3,867.6 409.3,865.2 C422.3,862.9 430.1,861.3 440.5,859.0 C450.9,856.6 457.2,854.6 471.7,851.2 C486.3,847.8 508.7,840.3 527.9,838.7 C547.2,837.1 566.2,841.5 587.4,841.5 C608.6,841.4 634.6,839.8 655.0,838.2 C675.5,836.6 700.7,832.9 709.8,831.8" stroke="#777" stroke-width="9.0" opacity="0.22"/><path d="M229.8,876.1 C236.3,876.7 254.5,878.2 268.8,879.3 C283.1,880.3 300.0,881.6 315.7,882.4 C331.3,883.2 346.9,884.5 362.5,883.9 C378.1,883.4 393.7,881.1 409.3,879.3 C424.9,877.4 443.1,875.1 456.1,873.0 C469.1,870.9 475.4,869.4 487.4,866.8 C499.3,864.2 511.3,858.9 527.9,857.4 C544.6,855.9 568.9,858.4 587.4,857.6 C605.9,856.8 618.5,854.9 638.9,852.7 C659.3,850.6 698.0,846.0 709.8,844.7" stroke="#777" stroke-width="9.0" opacity="0.22"/><path d="M417.1,882.4 C423.6,883.4 444.4,889.2 456.1,888.6 C467.8,888.1 475.4,882.9 487.4,879.3 C499.3,875.6 511.3,867.7 527.9,866.8 C544.6,865.8 566.2,873.9 587.4,873.7 C608.6,873.5 634.6,867.8 655.0,865.6 C675.5,863.5 700.7,861.6 709.8,860.8" stroke="#777" stroke-width="9.0" opacity="0.22"/></g>
<g clip-path="url(#b3f)" fill="none" stroke-linecap="round" stroke-linejoin="round"><path d="M229.8,793.4 C236.3,793.2 257.1,791.7 268.8,791.9 C280.5,792.0 289.6,793.5 300.0,794.2 C310.5,794.8 320.9,795.9 331.3,795.8 C341.7,795.6 354.7,794.6 362.5,793.4 C370.3,792.2 372.9,790.3 378.1,788.7 C383.3,787.2 391.1,784.8 393.7,784.0" stroke="#262626" stroke-width="3.9"/><path d="M229.8,805.9 C236.3,806.0 257.1,806.3 268.8,806.7 C280.5,807.1 289.6,807.7 300.0,808.2 C310.5,808.8 320.9,810.5 331.3,809.8 C341.7,809.2 352.1,806.3 362.5,804.3 C372.9,802.4 383.3,800.2 393.7,798.1 C404.1,796.0 414.5,793.7 424.9,791.9 C435.3,790.0 444.4,788.5 456.1,787.2 C467.8,785.9 488.7,784.6 495.2,784.0" stroke="#262626" stroke-width="3.9"/><path d="M229.8,819.9 C236.3,819.4 257.1,817.3 268.8,816.8 C280.5,816.3 289.6,816.3 300.0,816.8 C310.5,817.3 320.9,819.4 331.3,819.9 C341.7,820.5 352.1,820.7 362.5,819.9 C372.9,819.2 383.3,817.1 393.7,815.3 C404.1,813.4 414.5,810.8 424.9,809.0 C435.3,807.2 445.7,805.9 456.1,804.3 C466.5,802.8 475.4,800.8 487.4,799.7 C499.3,798.5 511.3,799.5 527.9,797.3 C544.6,795.2 568.9,788.7 587.4,786.7 C605.9,784.6 618.5,785.1 638.9,785.1 C659.3,785.1 698.0,786.4 709.8,786.7" stroke="#262626" stroke-width="3.9"/><path d="M229.8,834.0 C233.7,833.2 244.1,829.8 253.2,829.3 C262.3,828.8 274.0,830.1 284.4,830.9 C294.8,831.7 306.6,833.2 315.7,834.0 C324.8,834.8 328.7,835.8 339.1,835.6 C349.5,835.3 366.4,834.0 378.1,832.4 C389.8,830.9 398.9,828.3 409.3,826.2 C419.7,824.1 430.1,821.8 440.5,819.9 C450.9,818.1 461.3,816.8 471.7,815.3 C482.2,813.7 493.6,811.8 503.0,810.6 C512.3,809.4 513.9,810.1 527.9,808.2 C542.0,806.4 568.9,801.6 587.4,799.6 C605.9,797.6 618.5,796.9 638.9,796.3 C659.3,795.8 698.0,796.3 709.8,796.3" stroke="#262626" stroke-width="3.9"/><path d="M229.8,843.4 C235.0,843.1 250.6,841.5 261.0,841.8 C271.4,842.1 281.8,843.6 292.2,844.9 C302.6,846.2 313.1,849.1 323.5,849.6 C333.9,850.1 343.0,849.6 354.7,848.0 C366.4,846.5 382.0,842.3 393.7,840.2 C405.4,838.2 414.5,837.4 424.9,835.6 C435.3,833.7 445.7,831.4 456.1,829.3 C466.5,827.2 475.4,825.4 487.4,823.1 C499.3,820.7 511.3,817.0 527.9,815.3 C544.6,813.5 566.2,813.2 587.4,812.5 C608.6,811.7 634.6,811.7 655.0,810.8 C675.5,810.0 700.7,808.2 709.8,807.6" stroke="#262626" stroke-width="3.9"/><path d="M229.8,854.3 C236.3,854.6 257.1,855.1 268.8,855.9 C280.5,856.6 289.6,857.7 300.0,859.0 C310.5,860.3 320.9,863.1 331.3,863.7 C341.7,864.2 352.1,863.1 362.5,862.1 C372.9,861.1 383.3,859.5 393.7,857.4 C404.1,855.3 414.5,851.9 424.9,849.6 C435.3,847.3 445.7,845.7 456.1,843.4 C466.5,841.0 475.4,838.2 487.4,835.6 C499.3,833.0 511.3,829.5 527.9,827.8 C544.6,826.1 568.9,826.3 587.4,825.3 C605.9,824.4 618.5,823.2 638.9,822.1 C659.3,821.1 698.0,819.4 709.8,818.9" stroke="#262626" stroke-width="3.9"/><path d="M229.8,863.7 C236.3,864.2 254.5,865.5 268.8,866.8 C283.1,868.1 300.0,870.4 315.7,871.5 C331.3,872.5 346.9,874.1 362.5,873.0 C378.1,872.0 396.3,867.6 409.3,865.2 C422.3,862.9 430.1,861.3 440.5,859.0 C450.9,856.6 457.2,854.6 471.7,851.2 C486.3,847.8 508.7,840.3 527.9,838.7 C547.2,837.1 566.2,841.5 587.4,841.5 C608.6,841.4 634.6,839.8 655.0,838.2 C675.5,836.6 700.7,832.9 709.8,831.8" stroke="#262626" stroke-width="3.9"/><path d="M229.8,876.1 C236.3,876.7 254.5,878.2 268.8,879.3 C283.1,880.3 300.0,881.6 315.7,882.4 C331.3,883.2 346.9,884.5 362.5,883.9 C378.1,883.4 393.7,881.1 409.3,879.3 C424.9,877.4 443.1,875.1 456.1,873.0 C469.1,870.9 475.4,869.4 487.4,866.8 C499.3,864.2 511.3,858.9 527.9,857.4 C544.6,855.9 568.9,858.4 587.4,857.6 C605.9,856.8 618.5,854.9 638.9,852.7 C659.3,850.6 698.0,846.0 709.8,844.7" stroke="#262626" stroke-width="3.9"/><path d="M417.1,882.4 C423.6,883.4 444.4,889.2 456.1,888.6 C467.8,888.1 475.4,882.9 487.4,879.3 C499.3,875.6 511.3,867.7 527.9,866.8 C544.6,865.8 566.2,873.9 587.4,873.7 C608.6,873.5 634.6,867.8 655.0,865.6 C675.5,863.5 700.7,861.6 709.8,860.8" stroke="#262626" stroke-width="3.9"/></g>
<polyline points="224.0,775.0 225.0,898.0" fill="none" stroke="#262626" stroke-width="7" stroke-linecap="round" stroke-linejoin="round" />
<polyline points="717.0,767.0 720.0,899.0" fill="none" stroke="#262626" stroke-width="7" stroke-linecap="round" stroke-linejoin="round" />
<polygon points="224.0,883.0 718.0,884.0 721.0,900.0 224.0,898.0" fill="#262626" stroke="none" stroke-width="0" stroke-linejoin="round" />
<polygon points="321.9,884.0 345.3,884.0 344.3,894.9 322.9,894.9" fill="#e8e8e8" stroke="none" stroke-width="0" stroke-linejoin="round" />
<polygon points="384.3,884.0 406.2,884.0 405.2,894.9 385.3,894.9" fill="#e8e8e8" stroke="none" stroke-width="0" stroke-linejoin="round" />
<polygon points="451.5,884.0 478.0,884.0 477.0,894.9 452.5,894.9" fill="#e8e8e8" stroke="none" stroke-width="0" stroke-linejoin="round" />
<polygon points="606.7,884.0 638.9,884.0 637.9,893.0 607.7,893.0" fill="#e8e8e8" stroke="none" stroke-width="0" stroke-linejoin="round" />
<polygon points="690.5,884.0 709.8,884.0 708.8,893.0 691.5,893.0" fill="#e8e8e8" stroke="none" stroke-width="0" stroke-linejoin="round" />
<polygon points="247.0,897.0 305.0,897.0 281.0,916.0 249.0,916.0" fill="#262626" stroke="none" stroke-width="0" stroke-linejoin="round" />
<polygon points="253.0,906.0 268.0,906.0 268.0,912.0 253.0,912.0" fill="#bbbbbb" stroke="none" stroke-width="0" stroke-linejoin="round" />
<polygon points="655.0,898.0 721.0,898.0 691.0,918.0 657.0,918.0" fill="#262626" stroke="none" stroke-width="0" stroke-linejoin="round" />
<polygon points="662.0,904.0 674.0,904.0 674.0,910.0 662.0,910.0" fill="#c8c8c8" stroke="none" stroke-width="0" stroke-linejoin="round" />
<polygon points="498.0,1052.0 623.0,973.0 625.0,1096.0 503.0,1193.0" fill="#262626" stroke="none" stroke-width="0" stroke-linejoin="round" />
<g clip-path="url(#b4r)" opacity="0.7" fill="none"><path d="M504.6,877.3 L522.0,866.8" stroke="#555555" stroke-width="1.9" stroke-linecap="round"/><path d="M575.6,832.5 L590.4,821.9" stroke="#555555" stroke-width="2.0" stroke-linecap="round"/><path d="M476.2,901.5 L496.5,890.1" stroke="#555555" stroke-width="2.1" stroke-linecap="round"/><path d="M502.8,885.5 L527.7,869.6" stroke="#555555" stroke-width="1.3" stroke-linecap="round"/><path d="M532.6,865.5 L555.8,851.7" stroke="#555555" stroke-width="1.7" stroke-linecap="round"/><path d="M575.1,838.1 L594.1,826.1" stroke="#555555" stroke-width="1.7" stroke-linecap="round"/><path d="M607.0,818.7 L627.2,806.4" stroke="#555555" stroke-width="2.0" stroke-linecap="round"/><path d="M506.5,890.4 L529.4,874.6" stroke="#555555" stroke-width="2.4" stroke-linecap="round"/><path d="M547.0,864.0 L565.9,852.8" stroke="#555555" stroke-width="2.5" stroke-linecap="round"/><path d="M583.4,841.2 L594.6,833.5" stroke="#555555" stroke-width="1.7" stroke-linecap="round"/><path d="M606.4,826.5 L631.1,809.9" stroke="#555555" stroke-width="2.4" stroke-linecap="round"/><path d="M504.0,897.9 L524.3,885.2" stroke="#555555" stroke-width="2.0" stroke-linecap="round"/><path d="M532.1,880.1 L540.1,875.4" stroke="#555555" stroke-width="1.4" stroke-linecap="round"/><path d="M573.7,854.2 L591.6,843.7" stroke="#555555" stroke-width="2.4" stroke-linecap="round"/><path d="M608.4,832.9 L630.4,818.2" stroke="#555555" stroke-width="1.8" stroke-linecap="round"/><path d="M492.7,914.8 L512.9,902.0" stroke="#555555" stroke-width="1.6" stroke-linecap="round"/><path d="M480.4,929.1 L492.7,921.7" stroke="#555555" stroke-width="1.9" stroke-linecap="round"/><path d="M511.1,909.1 L522.1,902.9" stroke="#555555" stroke-width="2.4" stroke-linecap="round"/><path d="M556.5,881.4 L576.5,867.5" stroke="#555555" stroke-width="2.2" stroke-linecap="round"/><path d="M593.2,858.1 L605.9,848.7" stroke="#555555" stroke-width="2.3" stroke-linecap="round"/><path d="M616.5,842.5 L632.8,831.1" stroke="#555555" stroke-width="2.3" stroke-linecap="round"/><path d="M497.3,925.1 L518.2,912.3" stroke="#555555" stroke-width="1.9" stroke-linecap="round"/><path d="M535.3,901.8 L554.8,888.2" stroke="#555555" stroke-width="1.3" stroke-linecap="round"/><path d="M600.9,858.6 L623.5,844.7" stroke="#555555" stroke-width="1.2" stroke-linecap="round"/><path d="M468.0,954.6 L487.2,940.9" stroke="#555555" stroke-width="1.6" stroke-linecap="round"/><path d="M504.7,929.9 L517.9,921.3" stroke="#555555" stroke-width="2.3" stroke-linecap="round"/><path d="M537.5,910.2 L550.1,900.9" stroke="#555555" stroke-width="2.4" stroke-linecap="round"/><path d="M570.3,889.3 L595.1,873.5" stroke="#555555" stroke-width="2.5" stroke-linecap="round"/><path d="M493.0,946.1 L516.4,930.3" stroke="#555555" stroke-width="1.4" stroke-linecap="round"/><path d="M528.9,922.7 L548.3,910.7" stroke="#555555" stroke-width="1.4" stroke-linecap="round"/><path d="M561.9,900.6 L583.7,887.6" stroke="#555555" stroke-width="1.5" stroke-linecap="round"/><path d="M601.3,875.2 L612.6,869.4" stroke="#555555" stroke-width="2.5" stroke-linecap="round"/><path d="M485.9,957.2 L502.7,945.6" stroke="#555555" stroke-width="2.4" stroke-linecap="round"/><path d="M520.2,935.2 L534.7,924.8" stroke="#555555" stroke-width="1.4" stroke-linecap="round"/><path d="M555.6,912.1 L567.9,903.6" stroke="#555555" stroke-width="1.9" stroke-linecap="round"/><path d="M578.5,898.6 L603.1,882.4" stroke="#555555" stroke-width="2.0" stroke-linecap="round"/><path d="M512.0,951.0 L536.7,934.4" stroke="#555555" stroke-width="1.7" stroke-linecap="round"/><path d="M554.6,923.1 L569.3,913.7" stroke="#555555" stroke-width="1.2" stroke-linecap="round"/><path d="M622.3,879.3 L639.0,869.7" stroke="#555555" stroke-width="2.4" stroke-linecap="round"/><path d="M482.4,978.3 L498.6,969.6" stroke="#555555" stroke-width="1.5" stroke-linecap="round"/><path d="M515.0,958.2 L526.7,949.9" stroke="#555555" stroke-width="2.3" stroke-linecap="round"/><path d="M539.6,942.9 L547.8,937.7" stroke="#555555" stroke-width="2.5" stroke-linecap="round"/><path d="M566.3,925.0 L576.3,917.9" stroke="#555555" stroke-width="1.8" stroke-linecap="round"/><path d="M620.2,891.7 L641.5,876.9" stroke="#555555" stroke-width="2.4" stroke-linecap="round"/><path d="M489.0,980.9 L513.3,965.5" stroke="#555555" stroke-width="1.4" stroke-linecap="round"/><path d="M530.8,954.1 L541.6,947.1" stroke="#555555" stroke-width="1.8" stroke-linecap="round"/><path d="M571.2,928.0 L580.7,922.3" stroke="#555555" stroke-width="2.3" stroke-linecap="round"/><path d="M487.6,988.1 L496.4,982.7" stroke="#555555" stroke-width="2.4" stroke-linecap="round"/><path d="M505.6,977.6 L521.9,967.0" stroke="#555555" stroke-width="1.9" stroke-linecap="round"/><path d="M542.1,953.2 L566.0,937.7" stroke="#555555" stroke-width="1.7" stroke-linecap="round"/><path d="M601.3,915.7 L608.4,912.0" stroke="#555555" stroke-width="2.5" stroke-linecap="round"/><path d="M486.1,997.4 L500.9,986.5" stroke="#555555" stroke-width="2.1" stroke-linecap="round"/><path d="M519.9,975.6 L538.4,962.9" stroke="#555555" stroke-width="1.2" stroke-linecap="round"/><path d="M543.0,960.0 L558.4,951.2" stroke="#555555" stroke-width="2.0" stroke-linecap="round"/><path d="M623.0,909.3 L631.4,904.2" stroke="#555555" stroke-width="2.0" stroke-linecap="round"/><path d="M497.0,997.7 L510.5,989.3" stroke="#555555" stroke-width="1.4" stroke-linecap="round"/><path d="M522.9,981.5 L530.9,976.3" stroke="#555555" stroke-width="2.2" stroke-linecap="round"/><path d="M545.2,967.8 L565.0,955.1" stroke="#555555" stroke-width="2.0" stroke-linecap="round"/><path d="M577.2,946.9 L602.3,930.0" stroke="#555555" stroke-width="2.0" stroke-linecap="round"/><path d="M615.2,922.9 L624.4,916.0" stroke="#555555" stroke-width="2.1" stroke-linecap="round"/><path d="M496.2,1007.9 L506.2,1002.2" stroke="#555555" stroke-width="1.2" stroke-linecap="round"/><path d="M527.8,989.3 L552.2,972.7" stroke="#555555" stroke-width="2.3" stroke-linecap="round"/><path d="M573.0,959.2 L582.0,953.8" stroke="#555555" stroke-width="1.1" stroke-linecap="round"/><path d="M602.9,941.5 L610.4,935.8" stroke="#555555" stroke-width="1.6" stroke-linecap="round"/><path d="M490.1,1021.6 L510.8,1009.2" stroke="#555555" stroke-width="2.4" stroke-linecap="round"/><path d="M527.2,998.2 L548.0,985.5" stroke="#555555" stroke-width="1.8" stroke-linecap="round"/><path d="M555.4,979.5 L571.0,970.2" stroke="#555555" stroke-width="1.4" stroke-linecap="round"/><path d="M576.3,966.6 L597.0,953.9" stroke="#555555" stroke-width="1.1" stroke-linecap="round"/><path d="M510.0,1015.4 L530.6,1003.0" stroke="#555555" stroke-width="2.1" stroke-linecap="round"/><path d="M551.8,990.1 L575.4,975.0" stroke="#555555" stroke-width="2.0" stroke-linecap="round"/><path d="M593.1,962.0 L604.8,955.2" stroke="#555555" stroke-width="2.5" stroke-linecap="round"/><path d="M609.0,952.4 L620.5,945.6" stroke="#555555" stroke-width="2.4" stroke-linecap="round"/><path d="M488.0,1040.0 L513.1,1023.8" stroke="#555555" stroke-width="2.3" stroke-linecap="round"/><path d="M529.2,1013.5 L551.4,999.2" stroke="#555555" stroke-width="2.3" stroke-linecap="round"/><path d="M569.8,987.8 L580.5,980.1" stroke="#555555" stroke-width="2.2" stroke-linecap="round"/><path d="M602.3,966.8 L620.2,954.3" stroke="#555555" stroke-width="2.4" stroke-linecap="round"/><path d="M474.4,1057.0 L490.9,1045.6" stroke="#555555" stroke-width="1.9" stroke-linecap="round"/><path d="M507.6,1036.0 L527.2,1022.6" stroke="#555555" stroke-width="2.0" stroke-linecap="round"/><path d="M541.1,1015.3 L549.1,1010.1" stroke="#555555" stroke-width="2.0" stroke-linecap="round"/><path d="M555.5,1005.2 L579.6,989.0" stroke="#555555" stroke-width="1.9" stroke-linecap="round"/><path d="M587.4,984.3 L596.1,980.0" stroke="#555555" stroke-width="1.8" stroke-linecap="round"/><path d="M605.2,972.6 L622.1,963.0" stroke="#555555" stroke-width="1.9" stroke-linecap="round"/><path d="M480.4,1063.3 L491.8,1055.6" stroke="#555555" stroke-width="2.3" stroke-linecap="round"/><path d="M543.2,1023.0 L550.0,1017.3" stroke="#555555" stroke-width="1.7" stroke-linecap="round"/><path d="M555.4,1015.2 L573.0,1002.6" stroke="#555555" stroke-width="2.3" stroke-linecap="round"/><path d="M581.0,998.4 L596.4,988.6" stroke="#555555" stroke-width="1.7" stroke-linecap="round"/><path d="M612.9,976.7 L625.1,969.2" stroke="#555555" stroke-width="1.6" stroke-linecap="round"/><path d="M482.7,1070.7 L493.6,1062.7" stroke="#555555" stroke-width="2.4" stroke-linecap="round"/><path d="M513.5,1050.8 L531.0,1038.4" stroke="#555555" stroke-width="2.3" stroke-linecap="round"/><path d="M541.2,1032.9 L563.0,1017.7" stroke="#555555" stroke-width="2.2" stroke-linecap="round"/><path d="M569.4,1014.3 L593.7,998.4" stroke="#555555" stroke-width="1.3" stroke-linecap="round"/><path d="M603.7,991.5 L622.8,980.3" stroke="#555555" stroke-width="1.5" stroke-linecap="round"/><path d="M489.2,1075.4 L496.4,1070.8" stroke="#555555" stroke-width="1.5" stroke-linecap="round"/><path d="M505.9,1065.5 L530.5,1048.5" stroke="#555555" stroke-width="1.4" stroke-linecap="round"/><path d="M621.2,991.0 L630.0,986.0" stroke="#555555" stroke-width="2.2" stroke-linecap="round"/><path d="M497.1,1080.2 L509.2,1071.3" stroke="#555555" stroke-width="1.3" stroke-linecap="round"/><path d="M529.8,1059.5 L545.6,1048.8" stroke="#555555" stroke-width="2.4" stroke-linecap="round"/><path d="M560.6,1039.7 L584.1,1024.0" stroke="#555555" stroke-width="1.9" stroke-linecap="round"/><path d="M595.3,1016.8 L615.4,1004.7" stroke="#555555" stroke-width="1.2" stroke-linecap="round"/><path d="M491.4,1090.5 L509.5,1078.7" stroke="#555555" stroke-width="2.4" stroke-linecap="round"/><path d="M528.3,1067.0 L545.9,1055.6" stroke="#555555" stroke-width="2.0" stroke-linecap="round"/><path d="M566.7,1042.5 L583.8,1031.1" stroke="#555555" stroke-width="2.2" stroke-linecap="round"/><path d="M603.3,1019.5 L627.6,1003.7" stroke="#555555" stroke-width="2.2" stroke-linecap="round"/><path d="M505.8,1090.2 L530.0,1074.0" stroke="#555555" stroke-width="1.7" stroke-linecap="round"/><path d="M537.8,1069.7 L555.0,1059.2" stroke="#555555" stroke-width="1.2" stroke-linecap="round"/><path d="M563.8,1051.7 L586.8,1038.0" stroke="#555555" stroke-width="1.4" stroke-linecap="round"/><path d="M592.4,1035.3 L614.1,1020.5" stroke="#555555" stroke-width="1.7" stroke-linecap="round"/><path d="M618.5,1017.5 L637.2,1005.0" stroke="#555555" stroke-width="2.2" stroke-linecap="round"/><path d="M469.3,1122.1 L482.3,1113.3" stroke="#555555" stroke-width="1.5" stroke-linecap="round"/><path d="M491.9,1107.2 L511.4,1094.1" stroke="#555555" stroke-width="2.3" stroke-linecap="round"/><path d="M530.2,1081.9 L550.9,1068.7" stroke="#555555" stroke-width="1.4" stroke-linecap="round"/><path d="M561.5,1061.4 L581.0,1049.8" stroke="#555555" stroke-width="1.6" stroke-linecap="round"/><path d="M600.5,1036.2 L608.1,1031.6" stroke="#555555" stroke-width="2.4" stroke-linecap="round"/><path d="M613.8,1028.2 L630.4,1017.6" stroke="#555555" stroke-width="2.4" stroke-linecap="round"/><path d="M470.4,1127.8 L486.4,1117.6" stroke="#555555" stroke-width="2.0" stroke-linecap="round"/><path d="M504.9,1104.3 L517.9,1096.7" stroke="#555555" stroke-width="1.7" stroke-linecap="round"/><path d="M527.3,1091.4 L544.0,1080.3" stroke="#555555" stroke-width="1.4" stroke-linecap="round"/><path d="M565.2,1066.6 L572.7,1060.6" stroke="#555555" stroke-width="1.9" stroke-linecap="round"/><path d="M618.1,1032.2 L637.8,1019.6" stroke="#555555" stroke-width="1.4" stroke-linecap="round"/><path d="M479.5,1127.7 L487.4,1123.1" stroke="#555555" stroke-width="2.2" stroke-linecap="round"/><path d="M499.1,1116.1 L515.8,1104.4" stroke="#555555" stroke-width="1.8" stroke-linecap="round"/><path d="M522.7,1100.2 L533.5,1093.3" stroke="#555555" stroke-width="2.4" stroke-linecap="round"/><path d="M590.4,1056.4 L598.9,1051.4" stroke="#555555" stroke-width="1.8" stroke-linecap="round"/><path d="M613.9,1042.7 L631.4,1029.6" stroke="#555555" stroke-width="2.4" stroke-linecap="round"/><path d="M478.0,1138.7 L488.7,1132.9" stroke="#555555" stroke-width="2.1" stroke-linecap="round"/><path d="M505.3,1121.2 L512.5,1116.7" stroke="#555555" stroke-width="1.4" stroke-linecap="round"/><path d="M567.2,1081.9 L589.6,1066.9" stroke="#555555" stroke-width="1.4" stroke-linecap="round"/><path d="M605.2,1057.0 L612.8,1052.6" stroke="#555555" stroke-width="2.2" stroke-linecap="round"/><path d="M475.4,1147.7 L487.7,1139.8" stroke="#555555" stroke-width="1.5" stroke-linecap="round"/><path d="M498.9,1132.3 L516.8,1120.5" stroke="#555555" stroke-width="1.8" stroke-linecap="round"/><path d="M526.7,1114.5 L539.1,1105.5" stroke="#555555" stroke-width="1.9" stroke-linecap="round"/><path d="M549.8,1099.6 L571.3,1084.5" stroke="#555555" stroke-width="2.4" stroke-linecap="round"/><path d="M576.3,1082.0 L591.0,1072.6" stroke="#555555" stroke-width="2.2" stroke-linecap="round"/><path d="M606.4,1062.3 L624.2,1051.6" stroke="#555555" stroke-width="1.2" stroke-linecap="round"/><path d="M487.5,1144.7 L498.6,1138.6" stroke="#555555" stroke-width="2.0" stroke-linecap="round"/><path d="M513.6,1128.4 L534.0,1115.5" stroke="#555555" stroke-width="1.4" stroke-linecap="round"/><path d="M540.6,1111.0 L562.5,1096.8" stroke="#555555" stroke-width="1.8" stroke-linecap="round"/><path d="M581.2,1086.0 L593.5,1078.1" stroke="#555555" stroke-width="1.2" stroke-linecap="round"/><path d="M605.4,1069.7 L626.6,1057.0" stroke="#555555" stroke-width="1.6" stroke-linecap="round"/><path d="M519.7,1131.7 L544.6,1115.9" stroke="#555555" stroke-width="2.3" stroke-linecap="round"/><path d="M549.9,1113.3 L562.2,1105.4" stroke="#555555" stroke-width="1.7" stroke-linecap="round"/><path d="M566.2,1102.7 L575.5,1096.0" stroke="#555555" stroke-width="1.5" stroke-linecap="round"/><path d="M592.8,1084.5 L600.7,1080.4" stroke="#555555" stroke-width="2.3" stroke-linecap="round"/><path d="M609.5,1073.3 L628.4,1062.2" stroke="#555555" stroke-width="1.9" stroke-linecap="round"/><path d="M490.0,1158.5 L512.8,1144.7" stroke="#555555" stroke-width="1.1" stroke-linecap="round"/><path d="M547.3,1121.9 L562.3,1113.0" stroke="#555555" stroke-width="1.7" stroke-linecap="round"/><path d="M612.1,1081.5 L637.1,1065.8" stroke="#555555" stroke-width="2.3" stroke-linecap="round"/><path d="M501.5,1162.2 L521.5,1147.9" stroke="#555555" stroke-width="1.6" stroke-linecap="round"/><path d="M541.6,1136.1 L552.5,1128.3" stroke="#555555" stroke-width="1.2" stroke-linecap="round"/><path d="M560.9,1122.8 L579.0,1112.8" stroke="#555555" stroke-width="1.6" stroke-linecap="round"/><path d="M597.0,1100.9 L611.0,1091.4" stroke="#555555" stroke-width="1.9" stroke-linecap="round"/><path d="M492.0,1175.5 L516.1,1160.3" stroke="#555555" stroke-width="2.4" stroke-linecap="round"/><path d="M529.6,1152.2 L541.9,1142.7" stroke="#555555" stroke-width="2.4" stroke-linecap="round"/><path d="M547.9,1140.3 L563.8,1129.9" stroke="#555555" stroke-width="2.4" stroke-linecap="round"/><path d="M576.3,1121.5 L594.4,1109.4" stroke="#555555" stroke-width="1.5" stroke-linecap="round"/><path d="M476.7,1195.2 L488.2,1187.5" stroke="#555555" stroke-width="2.0" stroke-linecap="round"/><path d="M557.0,1143.8 L575.6,1130.4" stroke="#555555" stroke-width="2.3" stroke-linecap="round"/><path d="M585.3,1124.9 L598.4,1117.6" stroke="#555555" stroke-width="1.9" stroke-linecap="round"/><path d="M614.8,1106.4 L630.4,1096.9" stroke="#555555" stroke-width="1.3" stroke-linecap="round"/><path d="M541.1,1160.1 L561.5,1147.3" stroke="#555555" stroke-width="1.7" stroke-linecap="round"/><path d="M618.3,1111.1 L626.4,1105.9" stroke="#555555" stroke-width="2.0" stroke-linecap="round"/><path d="M483.7,1206.2 L506.6,1192.9" stroke="#555555" stroke-width="2.3" stroke-linecap="round"/><path d="M514.0,1186.6 L531.6,1176.5" stroke="#555555" stroke-width="1.4" stroke-linecap="round"/><path d="M560.7,1156.9 L572.8,1149.3" stroke="#555555" stroke-width="2.5" stroke-linecap="round"/><path d="M593.6,1137.1 L609.6,1126.1" stroke="#555555" stroke-width="1.1" stroke-linecap="round"/><path d="M623.9,1116.8 L633.2,1111.5" stroke="#555555" stroke-width="1.4" stroke-linecap="round"/><path d="M479.6,1220.1 L498.4,1207.3" stroke="#555555" stroke-width="1.6" stroke-linecap="round"/><path d="M513.4,1198.8 L524.3,1191.6" stroke="#555555" stroke-width="2.3" stroke-linecap="round"/><path d="M538.2,1182.3 L552.4,1173.5" stroke="#555555" stroke-width="1.1" stroke-linecap="round"/><path d="M572.1,1160.5 L583.5,1154.3" stroke="#555555" stroke-width="2.0" stroke-linecap="round"/><path d="M594.5,1146.5 L616.7,1131.3" stroke="#555555" stroke-width="1.9" stroke-linecap="round"/><path d="M487.5,1221.2 L504.2,1211.6" stroke="#555555" stroke-width="2.5" stroke-linecap="round"/><path d="M511.5,1205.4 L523.8,1197.6" stroke="#555555" stroke-width="1.4" stroke-linecap="round"/><path d="M533.2,1192.2 L552.7,1179.6" stroke="#555555" stroke-width="1.4" stroke-linecap="round"/><path d="M569.7,1168.1 L594.3,1153.4" stroke="#555555" stroke-width="1.8" stroke-linecap="round"/><path d="M601.0,1149.4 L609.2,1143.8" stroke="#555555" stroke-width="1.5" stroke-linecap="round"/><path d="M471.6,1242.6 L490.5,1228.8" stroke="#555555" stroke-width="2.3" stroke-linecap="round"/><path d="M499.8,1223.2 L509.7,1217.3" stroke="#555555" stroke-width="1.8" stroke-linecap="round"/><path d="M518.8,1211.9 L525.8,1207.5" stroke="#555555" stroke-width="1.3" stroke-linecap="round"/><path d="M532.3,1202.7 L557.4,1186.2" stroke="#555555" stroke-width="1.6" stroke-linecap="round"/><path d="M581.6,1172.0 L591.3,1164.6" stroke="#555555" stroke-width="2.5" stroke-linecap="round"/><path d="M605.7,1155.5 L618.8,1148.4" stroke="#555555" stroke-width="1.7" stroke-linecap="round"/><path d="M551.9,1199.1 L572.5,1186.8" stroke="#555555" stroke-width="1.5" stroke-linecap="round"/><path d="M583.6,1179.1 L598.1,1169.1" stroke="#555555" stroke-width="2.0" stroke-linecap="round"/><path d="M613.0,1161.3 L624.9,1152.6" stroke="#555555" stroke-width="1.2" stroke-linecap="round"/><path d="M487.0,1248.8 L497.7,1241.7" stroke="#555555" stroke-width="1.3" stroke-linecap="round"/><path d="M512.2,1232.8 L535.0,1218.7" stroke="#555555" stroke-width="2.3" stroke-linecap="round"/><path d="M547.4,1209.2 L568.6,1196.9" stroke="#555555" stroke-width="2.2" stroke-linecap="round"/><path d="M585.0,1186.6 L602.2,1174.0" stroke="#555555" stroke-width="1.5" stroke-linecap="round"/><path d="M611.4,1168.3 L628.7,1157.1" stroke="#555555" stroke-width="1.4" stroke-linecap="round"/><path d="M485.6,1256.0 L502.0,1243.8" stroke="#555555" stroke-width="1.6" stroke-linecap="round"/><path d="M523.2,1230.2 L547.2,1216.1" stroke="#555555" stroke-width="2.0" stroke-linecap="round"/><path d="M594.5,1185.3 L616.9,1171.4" stroke="#555555" stroke-width="1.7" stroke-linecap="round"/><path d="M487.7,1260.0 L501.9,1250.2" stroke="#555555" stroke-width="2.0" stroke-linecap="round"/><path d="M540.4,1225.7 L557.1,1215.9" stroke="#555555" stroke-width="2.5" stroke-linecap="round"/><path d="M603.6,1185.4 L620.4,1174.5" stroke="#555555" stroke-width="1.1" stroke-linecap="round"/><path d="M501.9,1257.0 L509.8,1251.3" stroke="#555555" stroke-width="1.1" stroke-linecap="round"/><path d="M519.2,1245.7 L535.7,1234.2" stroke="#555555" stroke-width="1.1" stroke-linecap="round"/><path d="M570.9,1211.7 L592.1,1199.7" stroke="#555555" stroke-width="1.8" stroke-linecap="round"/><path d="M611.2,1185.7 L627.9,1176.0" stroke="#555555" stroke-width="1.5" stroke-linecap="round"/><path d="M474.2,1282.8 L486.4,1275.4" stroke="#555555" stroke-width="2.3" stroke-linecap="round"/><path d="M507.8,1262.7 L524.4,1251.0" stroke="#555555" stroke-width="2.1" stroke-linecap="round"/><path d="M612.6,1194.3 L626.0,1185.6" stroke="#555555" stroke-width="1.9" stroke-linecap="round"/><path d="M495.1,1280.0 L519.8,1262.8" stroke="#555555" stroke-width="2.5" stroke-linecap="round"/><path d="M532.7,1254.0 L541.9,1248.5" stroke="#555555" stroke-width="1.8" stroke-linecap="round"/><path d="M560.4,1236.5 L571.6,1229.8" stroke="#555555" stroke-width="2.4" stroke-linecap="round"/><path d="M610.2,1204.6 L628.8,1193.3" stroke="#555555" stroke-width="2.5" stroke-linecap="round"/><path d="M548.4,1251.7 L561.1,1243.3" stroke="#555555" stroke-width="1.9" stroke-linecap="round"/><path d="M576.4,1232.7 L597.7,1219.4" stroke="#555555" stroke-width="2.0" stroke-linecap="round"/><path d="M607.7,1213.7 L632.6,1197.1" stroke="#555555" stroke-width="2.2" stroke-linecap="round"/></g>
<circle cx="523.5" cy="1070" r="2" fill="#777"/>
<circle cx="523.5" cy="1090" r="2" fill="#777"/>
<circle cx="523.5" cy="1110" r="2" fill="#777"/>
<circle cx="523.5" cy="1130" r="2" fill="#777"/>
<circle cx="523.5" cy="1150" r="2" fill="#777"/>
<polygon points="3.0,1047.0 143.5,971.0 623.0,974.0 499.0,1053.0" fill="#262626" stroke="#262626" stroke-width="5" stroke-linejoin="round" />
<polygon points="161.0,981.0 532.0,982.0 532.0,1037.0 161.0,1035.0" fill="#8a8a8a" stroke="none" stroke-width="0" stroke-linejoin="round" />
<polygon points="501.0,1037.0 532.0,1019.0 532.0,1037.0" fill="#d8d8d8" stroke="none" stroke-width="0" stroke-linejoin="round" />
<polygon points="76.0,1035.0 150.0,989.0 161.0,1035.0" fill="#454545" stroke="none" stroke-width="0" stroke-linejoin="round" />
<polyline points="52.0,1030.0 148.0,981.0" fill="none" stroke="#b5b5b5" stroke-width="5" stroke-linecap="round" stroke-linejoin="round" />
<polyline points="26.0,1043.0 498.0,1046.0" fill="none" stroke="#c0c0c0" stroke-width="3" stroke-linecap="round" stroke-linejoin="round" />
<polygon points="4.0,1046.0 22.0,1037.0 499.0,1040.0 499.0,1057.0 6.0,1054.0" fill="#262626" stroke="none" stroke-width="0" stroke-linejoin="round" />
<polyline points="26.0,1044.0 495.0,1047.0" fill="none" stroke="#b8b8b8" stroke-width="3" stroke-linecap="round" stroke-linejoin="round" />
<polygon points="6.0,1052.0 498.0,1055.0 500.0,1185.0 7.0,1182.0" fill="#e2e2e2" stroke="none" stroke-width="0" stroke-linejoin="round" />
<polygon points="9.0,1053.0 498.0,1056.0 498.0,1066.0 9.0,1063.0" fill="#c4c4c4" stroke="none" stroke-width="0" stroke-linejoin="round" opacity="0.8"/>
<g clip-path="url(#b4f)" fill="none" stroke-linecap="round" stroke-linejoin="round"><path d="M10.5,1070.3 C14.3,1069.9 25.9,1068.6 32.9,1067.7 C40.0,1066.8 49.4,1065.5 52.7,1065.0" stroke="#777" stroke-width="9.7" opacity="0.22"/><path d="M148.9,1065.0 C151.6,1065.5 159.9,1067.5 164.7,1067.7 C169.6,1067.9 175.7,1066.6 177.9,1066.4" stroke="#777" stroke-width="9.7" opacity="0.22"/><path d="M117.3,1063.7 C119.7,1064.8 126.1,1068.3 131.8,1070.3 C137.5,1072.3 142.8,1074.5 151.6,1075.6 C160.4,1076.7 174.6,1076.9 184.5,1076.9 C194.4,1076.9 202.1,1075.6 210.9,1075.6 C219.7,1075.6 229.0,1076.5 237.2,1076.9 C245.4,1077.3 251.3,1078.2 260.0,1078.2 C268.8,1078.2 278.0,1077.1 289.5,1076.9 C301.0,1076.7 318.1,1078.0 329.1,1076.9 C340.1,1075.8 346.7,1071.2 355.4,1070.3 C364.2,1069.4 373.0,1072.1 381.8,1071.6 C390.6,1071.2 399.4,1067.9 408.2,1067.7 C416.9,1067.5 425.7,1069.0 434.5,1070.3 C443.3,1071.6 451.0,1074.3 460.9,1075.6 C470.8,1076.9 488.3,1077.8 493.8,1078.2" stroke="#777" stroke-width="9.7" opacity="0.22"/><path d="M335.7,1065.0 C341.2,1065.3 356.5,1066.1 368.6,1066.4 C380.7,1066.6 395.0,1065.7 408.2,1066.4 C421.3,1067.0 433.4,1070.3 447.7,1070.3 C462.0,1070.3 486.1,1067.0 493.8,1066.4" stroke="#777" stroke-width="9.7" opacity="0.22"/><path d="M10.5,1083.5 C15.4,1082.6 30.3,1079.5 39.5,1078.2 C48.8,1076.9 57.1,1076.0 65.9,1075.6 C74.7,1075.1 83.5,1074.9 92.3,1075.6 C101.0,1076.2 110.9,1077.6 118.6,1079.5 C126.3,1081.5 131.8,1085.9 138.4,1087.4 C145.0,1089.0 150.5,1088.8 158.2,1088.8 C165.8,1088.8 175.7,1088.1 184.5,1087.4 C193.3,1086.8 202.1,1085.5 210.9,1084.8 C219.7,1084.2 229.0,1083.1 237.2,1083.5 C245.4,1083.9 251.3,1086.1 260.0,1087.4 C268.8,1088.8 278.0,1091.0 289.5,1091.4 C301.0,1091.8 317.0,1091.2 329.1,1090.1 C341.2,1089.0 353.2,1085.7 362.0,1084.8 C370.8,1083.9 374.1,1083.9 381.8,1084.8 C389.5,1085.7 399.4,1089.4 408.2,1090.1 C416.9,1090.7 425.7,1088.5 434.5,1088.8 C443.3,1089.0 451.0,1090.7 460.9,1091.4 C470.8,1092.1 488.3,1092.5 493.8,1092.7" stroke="#777" stroke-width="9.7" opacity="0.22"/><path d="M13.2,1095.4 C17.6,1094.7 30.8,1092.1 39.5,1091.4 C48.3,1090.7 57.1,1091.6 65.9,1091.4 C74.7,1091.2 83.5,1089.9 92.3,1090.1 C101.0,1090.3 110.9,1091.4 118.6,1092.7 C126.3,1094.0 129.6,1096.5 138.4,1098.0 C147.2,1099.5 161.4,1101.3 171.3,1101.9 C181.2,1102.6 188.9,1102.8 197.7,1101.9 C206.5,1101.1 213.7,1097.8 224.1,1096.7 C234.4,1095.6 251.3,1094.0 260.0,1095.4 C268.8,1096.7 267.0,1103.3 276.4,1104.6 C285.7,1105.9 302.7,1103.9 315.9,1103.3 C329.1,1102.6 343.4,1101.3 355.4,1100.6 C367.5,1100.0 378.5,1098.4 388.4,1099.3 C398.3,1100.2 407.1,1103.0 414.7,1105.9 C422.4,1108.8 427.9,1113.4 434.5,1116.4 C441.1,1119.5 456.5,1122.4 454.3,1124.3 C452.1,1126.3 433.4,1127.0 421.3,1128.3 C409.3,1129.6 393.9,1130.7 381.8,1132.3 C369.7,1133.8 362.0,1136.9 348.8,1137.5 C335.7,1138.2 317.4,1136.7 302.7,1136.2 C288.0,1135.8 267.6,1135.1 260.5,1134.9" stroke="#777" stroke-width="9.7" opacity="0.22"/><path d="M10.5,1108.5 C14.3,1108.3 25.9,1107.9 32.9,1107.2 C40.0,1106.6 45.0,1104.8 52.7,1104.6 C60.4,1104.4 68.1,1105.7 79.1,1105.9 C90.1,1106.1 109.8,1105.0 118.6,1105.9 C127.4,1106.8 125.2,1109.9 131.8,1111.2 C138.4,1112.5 149.4,1113.8 158.2,1113.8 C166.9,1113.8 173.5,1111.2 184.5,1111.2 C195.5,1111.2 211.5,1113.1 224.1,1113.8 C236.6,1114.5 250.2,1113.8 260.0,1115.1 C269.8,1116.4 271.4,1121.5 282.9,1121.7 C294.5,1121.9 312.6,1118.6 329.1,1116.4 C345.6,1114.2 368.6,1109.0 381.8,1108.5 C395.0,1108.1 402.0,1112.0 408.2,1113.8 C414.3,1115.6 423.1,1117.8 418.7,1119.1 C414.3,1120.4 393.4,1119.5 381.8,1121.7 C370.2,1123.9 354.3,1130.5 348.8,1132.3" stroke="#777" stroke-width="9.7" opacity="0.22"/><path d="M35.6,1119.1 C39.5,1118.9 49.9,1118.3 59.3,1117.8 C68.8,1117.2 83.3,1115.6 92.3,1115.8 C101.3,1116.0 113.3,1117.4 113.3,1119.1 C113.3,1120.7 101.3,1124.8 92.3,1125.7 C83.3,1126.5 68.8,1125.0 59.3,1124.3 C49.9,1123.7 39.5,1122.2 35.6,1121.7" stroke="#777" stroke-width="9.7" opacity="0.22"/><path d="M218.8,1124.3 C221.9,1124.1 230.4,1123.5 237.2,1123.0 C244.1,1122.6 256.2,1121.9 260.0,1121.7" stroke="#777" stroke-width="9.7" opacity="0.22"/><path d="M224.1,1127.0 C227.3,1127.4 237.8,1129.4 243.8,1129.6 C249.8,1129.8 257.3,1128.5 260.0,1128.3" stroke="#777" stroke-width="9.7" opacity="0.22"/><path d="M10.5,1130.9 C15.4,1131.2 30.3,1131.6 39.5,1132.3 C48.8,1132.9 57.1,1134.2 65.9,1134.9 C74.7,1135.6 83.5,1136.7 92.3,1136.2 C101.0,1135.8 109.8,1133.6 118.6,1132.3 C127.4,1130.9 136.2,1129.2 145.0,1128.3 C153.8,1127.4 162.5,1127.0 171.3,1127.0 C180.1,1127.0 188.9,1127.0 197.7,1128.3 C206.5,1129.6 213.7,1133.4 224.1,1134.9 C234.4,1136.4 254.0,1137.1 260.0,1137.5" stroke="#777" stroke-width="9.7" opacity="0.22"/><path d="M10.5,1145.4 C15.4,1145.9 28.1,1147.0 39.5,1148.1 C51.0,1149.2 65.9,1151.4 79.1,1152.0 C92.3,1152.7 107.6,1153.1 118.6,1152.0 C129.6,1150.9 136.2,1147.6 145.0,1145.4 C153.8,1143.2 162.5,1139.5 171.3,1138.8 C180.1,1138.2 188.9,1140.4 197.7,1141.5 C206.5,1142.6 213.7,1144.1 224.1,1145.4 C234.4,1146.8 246.9,1149.0 260.0,1149.4 C273.1,1149.8 289.0,1148.3 302.7,1148.1 C316.4,1147.9 329.1,1148.5 342.3,1148.1 C355.4,1147.6 370.8,1146.8 381.8,1145.4 C392.8,1144.1 397.2,1141.9 408.2,1140.2 C419.1,1138.4 437.8,1136.7 447.7,1134.9 C457.6,1133.1 459.8,1131.6 467.5,1129.6 C475.2,1127.6 489.4,1124.1 493.8,1123.0" stroke="#777" stroke-width="9.7" opacity="0.22"/><path d="M10.5,1161.3 C15.4,1161.5 28.1,1161.9 39.5,1162.6 C51.0,1163.2 65.9,1165.0 79.1,1165.2 C92.3,1165.4 107.6,1165.0 118.6,1163.9 C129.6,1162.8 136.2,1159.9 145.0,1158.6 C153.8,1157.3 162.5,1156.4 171.3,1156.0 C180.1,1155.5 186.7,1155.8 197.7,1156.0 C208.7,1156.2 226.8,1156.9 237.2,1157.3 C247.6,1157.7 249.1,1158.4 260.0,1158.6 C270.9,1158.8 289.0,1158.2 302.7,1158.6 C316.4,1159.1 329.1,1161.3 342.3,1161.3 C355.4,1161.3 366.4,1160.2 381.8,1158.6 C397.2,1157.1 421.3,1154.4 434.5,1152.0 C447.7,1149.6 451.0,1146.1 460.9,1144.1 C470.8,1142.1 488.3,1140.8 493.8,1140.2" stroke="#777" stroke-width="9.7" opacity="0.22"/><path d="M10.5,1175.7 C17.6,1176.0 39.1,1176.8 52.7,1177.1 C66.3,1177.3 79.1,1177.1 92.3,1177.1 C105.4,1177.1 120.8,1177.5 131.8,1177.1 C142.8,1176.6 148.3,1175.5 158.2,1174.4 C168.0,1173.3 180.1,1170.9 191.1,1170.5 C202.1,1170.0 212.6,1171.4 224.1,1171.8 C235.5,1172.2 244.7,1172.9 260.0,1173.1 C275.3,1173.3 297.8,1173.3 315.9,1173.1 C334.0,1172.9 353.2,1172.2 368.6,1171.8 C384.0,1171.4 393.9,1170.9 408.2,1170.5 C422.4,1170.0 444.4,1170.7 454.3,1169.2 C464.2,1167.6 460.9,1163.2 467.5,1161.3 C474.1,1159.3 489.4,1158.0 493.8,1157.3" stroke="#777" stroke-width="9.7" opacity="0.22"/><path d="M381.8,1183.7 C386.2,1183.4 397.2,1182.6 408.2,1182.3 C419.1,1182.1 436.7,1183.7 447.7,1182.3 C458.7,1181.0 466.4,1176.4 474.1,1174.4 C481.7,1172.5 490.5,1171.1 493.8,1170.5" stroke="#777" stroke-width="9.7" opacity="0.22"/><path d="M493.8,1112.5 C489.4,1111.8 475.2,1110.3 467.5,1108.5 C459.8,1106.8 451.0,1103.0 447.7,1101.9" stroke="#777" stroke-width="9.7" opacity="0.22"/></g>
<g clip-path="url(#b4f)" fill="none" stroke-linecap="round" stroke-linejoin="round"><path d="M10.5,1070.3 C14.3,1069.9 25.9,1068.6 32.9,1067.7 C40.0,1066.8 49.4,1065.5 52.7,1065.0" stroke="#262626" stroke-width="4.2"/><path d="M148.9,1065.0 C151.6,1065.5 159.9,1067.5 164.7,1067.7 C169.6,1067.9 175.7,1066.6 177.9,1066.4" stroke="#262626" stroke-width="4.2"/><path d="M117.3,1063.7 C119.7,1064.8 126.1,1068.3 131.8,1070.3 C137.5,1072.3 142.8,1074.5 151.6,1075.6 C160.4,1076.7 174.6,1076.9 184.5,1076.9 C194.4,1076.9 202.1,1075.6 210.9,1075.6 C219.7,1075.6 229.0,1076.5 237.2,1076.9 C245.4,1077.3 251.3,1078.2 260.0,1078.2 C268.8,1078.2 278.0,1077.1 289.5,1076.9 C301.0,1076.7 318.1,1078.0 329.1,1076.9 C340.1,1075.8 346.7,1071.2 355.4,1070.3 C364.2,1069.4 373.0,1072.1 381.8,1071.6 C390.6,1071.2 399.4,1067.9 408.2,1067.7 C416.9,1067.5 425.7,1069.0 434.5,1070.3 C443.3,1071.6 451.0,1074.3 460.9,1075.6 C470.8,1076.9 488.3,1077.8 493.8,1078.2" stroke="#262626" stroke-width="4.2"/><path d="M335.7,1065.0 C341.2,1065.3 356.5,1066.1 368.6,1066.4 C380.7,1066.6 395.0,1065.7 408.2,1066.4 C421.3,1067.0 433.4,1070.3 447.7,1070.3 C462.0,1070.3 486.1,1067.0 493.8,1066.4" stroke="#262626" stroke-width="4.2"/><path d="M10.5,1083.5 C15.4,1082.6 30.3,1079.5 39.5,1078.2 C48.8,1076.9 57.1,1076.0 65.9,1075.6 C74.7,1075.1 83.5,1074.9 92.3,1075.6 C101.0,1076.2 110.9,1077.6 118.6,1079.5 C126.3,1081.5 131.8,1085.9 138.4,1087.4 C145.0,1089.0 150.5,1088.8 158.2,1088.8 C165.8,1088.8 175.7,1088.1 184.5,1087.4 C193.3,1086.8 202.1,1085.5 210.9,1084.8 C219.7,1084.2 229.0,1083.1 237.2,1083.5 C245.4,1083.9 251.3,1086.1 260.0,1087.4 C268.8,1088.8 278.0,1091.0 289.5,1091.4 C301.0,1091.8 317.0,1091.2 329.1,1090.1 C341.2,1089.0 353.2,1085.7 362.0,1084.8 C370.8,1083.9 374.1,1083.9 381.8,1084.8 C389.5,1085.7 399.4,1089.4 408.2,1090.1 C416.9,1090.7 425.7,1088.5 434.5,1088.8 C443.3,1089.0 451.0,1090.7 460.9,1091.4 C470.8,1092.1 488.3,1092.5 493.8,1092.7" stroke="#262626" stroke-width="4.2"/><path d="M13.2,1095.4 C17.6,1094.7 30.8,1092.1 39.5,1091.4 C48.3,1090.7 57.1,1091.6 65.9,1091.4 C74.7,1091.2 83.5,1089.9 92.3,1090.1 C101.0,1090.3 110.9,1091.4 118.6,1092.7 C126.3,1094.0 129.6,1096.5 138.4,1098.0 C147.2,1099.5 161.4,1101.3 171.3,1101.9 C181.2,1102.6 188.9,1102.8 197.7,1101.9 C206.5,1101.1 213.7,1097.8 224.1,1096.7 C234.4,1095.6 251.3,1094.0 260.0,1095.4 C268.8,1096.7 267.0,1103.3 276.4,1104.6 C285.7,1105.9 302.7,1103.9 315.9,1103.3 C329.1,1102.6 343.4,1101.3 355.4,1100.6 C367.5,1100.0 378.5,1098.4 388.4,1099.3 C398.3,1100.2 407.1,1103.0 414.7,1105.9 C422.4,1108.8 427.9,1113.4 434.5,1116.4 C441.1,1119.5 456.5,1122.4 454.3,1124.3 C452.1,1126.3 433.4,1127.0 421.3,1128.3 C409.3,1129.6 393.9,1130.7 381.8,1132.3 C369.7,1133.8 362.0,1136.9 348.8,1137.5 C335.7,1138.2 317.4,1136.7 302.7,1136.2 C288.0,1135.8 267.6,1135.1 260.5,1134.9" stroke="#262626" stroke-width="4.2"/><path d="M10.5,1108.5 C14.3,1108.3 25.9,1107.9 32.9,1107.2 C40.0,1106.6 45.0,1104.8 52.7,1104.6 C60.4,1104.4 68.1,1105.7 79.1,1105.9 C90.1,1106.1 109.8,1105.0 118.6,1105.9 C127.4,1106.8 125.2,1109.9 131.8,1111.2 C138.4,1112.5 149.4,1113.8 158.2,1113.8 C166.9,1113.8 173.5,1111.2 184.5,1111.2 C195.5,1111.2 211.5,1113.1 224.1,1113.8 C236.6,1114.5 250.2,1113.8 260.0,1115.1 C269.8,1116.4 271.4,1121.5 282.9,1121.7 C294.5,1121.9 312.6,1118.6 329.1,1116.4 C345.6,1114.2 368.6,1109.0 381.8,1108.5 C395.0,1108.1 402.0,1112.0 408.2,1113.8 C414.3,1115.6 423.1,1117.8 418.7,1119.1 C414.3,1120.4 393.4,1119.5 381.8,1121.7 C370.2,1123.9 354.3,1130.5 348.8,1132.3" stroke="#262626" stroke-width="4.2"/><path d="M35.6,1119.1 C39.5,1118.9 49.9,1118.3 59.3,1117.8 C68.8,1117.2 83.3,1115.6 92.3,1115.8 C101.3,1116.0 113.3,1117.4 113.3,1119.1 C113.3,1120.7 101.3,1124.8 92.3,1125.7 C83.3,1126.5 68.8,1125.0 59.3,1124.3 C49.9,1123.7 39.5,1122.2 35.6,1121.7" stroke="#262626" stroke-width="4.2"/><path d="M218.8,1124.3 C221.9,1124.1 230.4,1123.5 237.2,1123.0 C244.1,1122.6 256.2,1121.9 260.0,1121.7" stroke="#262626" stroke-width="4.2"/><path d="M224.1,1127.0 C227.3,1127.4 237.8,1129.4 243.8,1129.6 C249.8,1129.8 257.3,1128.5 260.0,1128.3" stroke="#262626" stroke-width="4.2"/><path d="M10.5,1130.9 C15.4,1131.2 30.3,1131.6 39.5,1132.3 C48.8,1132.9 57.1,1134.2 65.9,1134.9 C74.7,1135.6 83.5,1136.7 92.3,1136.2 C101.0,1135.8 109.8,1133.6 118.6,1132.3 C127.4,1130.9 136.2,1129.2 145.0,1128.3 C153.8,1127.4 162.5,1127.0 171.3,1127.0 C180.1,1127.0 188.9,1127.0 197.7,1128.3 C206.5,1129.6 213.7,1133.4 224.1,1134.9 C234.4,1136.4 254.0,1137.1 260.0,1137.5" stroke="#262626" stroke-width="4.2"/><path d="M10.5,1145.4 C15.4,1145.9 28.1,1147.0 39.5,1148.1 C51.0,1149.2 65.9,1151.4 79.1,1152.0 C92.3,1152.7 107.6,1153.1 118.6,1152.0 C129.6,1150.9 136.2,1147.6 145.0,1145.4 C153.8,1143.2 162.5,1139.5 171.3,1138.8 C180.1,1138.2 188.9,1140.4 197.7,1141.5 C206.5,1142.6 213.7,1144.1 224.1,1145.4 C234.4,1146.8 246.9,1149.0 260.0,1149.4 C273.1,1149.8 289.0,1148.3 302.7,1148.1 C316.4,1147.9 329.1,1148.5 342.3,1148.1 C355.4,1147.6 370.8,1146.8 381.8,1145.4 C392.8,1144.1 397.2,1141.9 408.2,1140.2 C419.1,1138.4 437.8,1136.7 447.7,1134.9 C457.6,1133.1 459.8,1131.6 467.5,1129.6 C475.2,1127.6 489.4,1124.1 493.8,1123.0" stroke="#262626" stroke-width="4.2"/><path d="M10.5,1161.3 C15.4,1161.5 28.1,1161.9 39.5,1162.6 C51.0,1163.2 65.9,1165.0 79.1,1165.2 C92.3,1165.4 107.6,1165.0 118.6,1163.9 C129.6,1162.8 136.2,1159.9 145.0,1158.6 C153.8,1157.3 162.5,1156.4 171.3,1156.0 C180.1,1155.5 186.7,1155.8 197.7,1156.0 C208.7,1156.2 226.8,1156.9 237.2,1157.3 C247.6,1157.7 249.1,1158.4 260.0,1158.6 C270.9,1158.8 289.0,1158.2 302.7,1158.6 C316.4,1159.1 329.1,1161.3 342.3,1161.3 C355.4,1161.3 366.4,1160.2 381.8,1158.6 C397.2,1157.1 421.3,1154.4 434.5,1152.0 C447.7,1149.6 451.0,1146.1 460.9,1144.1 C470.8,1142.1 488.3,1140.8 493.8,1140.2" stroke="#262626" stroke-width="4.2"/><path d="M10.5,1175.7 C17.6,1176.0 39.1,1176.8 52.7,1177.1 C66.3,1177.3 79.1,1177.1 92.3,1177.1 C105.4,1177.1 120.8,1177.5 131.8,1177.1 C142.8,1176.6 148.3,1175.5 158.2,1174.4 C168.0,1173.3 180.1,1170.9 191.1,1170.5 C202.1,1170.0 212.6,1171.4 224.1,1171.8 C235.5,1172.2 244.7,1172.9 260.0,1173.1 C275.3,1173.3 297.8,1173.3 315.9,1173.1 C334.0,1172.9 353.2,1172.2 368.6,1171.8 C384.0,1171.4 393.9,1170.9 408.2,1170.5 C422.4,1170.0 444.4,1170.7 454.3,1169.2 C464.2,1167.6 460.9,1163.2 467.5,1161.3 C474.1,1159.3 489.4,1158.0 493.8,1157.3" stroke="#262626" stroke-width="4.2"/><path d="M381.8,1183.7 C386.2,1183.4 397.2,1182.6 408.2,1182.3 C419.1,1182.1 436.7,1183.7 447.7,1182.3 C458.7,1181.0 466.4,1176.4 474.1,1174.4 C481.7,1172.5 490.5,1171.1 493.8,1170.5" stroke="#262626" stroke-width="4.2"/><path d="M493.8,1112.5 C489.4,1111.8 475.2,1110.3 467.5,1108.5 C459.8,1106.8 451.0,1103.0 447.7,1101.9" stroke="#262626" stroke-width="4.2"/></g>
<polyline points="4.0,1046.0 6.0,1188.0" fill="none" stroke="#262626" stroke-width="7" stroke-linecap="round" stroke-linejoin="round" />
<polyline points="499.0,1053.0 502.0,1193.0" fill="none" stroke="#262626" stroke-width="8" stroke-linecap="round" stroke-linejoin="round" />
<polygon points="6.0,1182.0 500.0,1185.0 503.0,1194.0 5.0,1190.0" fill="#262626" stroke="none" stroke-width="0" stroke-linejoin="round" />
<polygon points="57.0,1186.0 109.0,1189.0 87.0,1212.0 59.0,1212.0" fill="#262626" stroke="none" stroke-width="0" stroke-linejoin="round" />
<polygon points="62.0,1191.0 78.0,1191.0 78.0,1204.0 62.0,1204.0" fill="#d0d0d0" stroke="none" stroke-width="0" stroke-linejoin="round" />
<polygon points="402.0,1192.0 470.0,1193.0 446.0,1213.0 404.0,1213.0" fill="#262626" stroke="none" stroke-width="0" stroke-linejoin="round" />
<polygon points="410.0,1197.0 428.0,1197.0 428.0,1204.0 410.0,1204.0" fill="#d0d0d0" stroke="none" stroke-width="0" stroke-linejoin="round" />
<polygon points="529.0,626.0 561.0,609.0 582.0,612.0 589.0,1130.0 533.0,1130.0" fill="#858585" stroke="#262626" stroke-width="5" stroke-linejoin="round" />
<polygon points="531.0,628.0 545.0,622.0 548.0,1128.0 537.0,1128.0" fill="#f0f0f0" stroke="none" stroke-width="0" stroke-linejoin="round" />
<polyline points="546.0,625.0 551.0,1128.0" fill="none" stroke="#262626" stroke-width="6" stroke-linecap="round" stroke-linejoin="round" />
<path d="M556.0,640.0 C556.5,660.0 559.3,720.0 559.0,760.0 C558.7,800.0 554.2,840.0 554.0,880.0 C553.8,920.0 557.7,959.2 558.0,1000.0 C558.3,1040.8 556.3,1104.2 556.0,1125.0" fill="none" stroke="#262626" stroke-width="3" stroke-linecap="round" stroke-linejoin="round" />
<path d="M564.0,640.0 C564.5,660.0 567.3,720.0 567.0,760.0 C566.7,800.0 562.2,840.0 562.0,880.0 C561.8,920.0 565.7,959.2 566.0,1000.0 C566.3,1040.8 564.3,1104.2 564.0,1125.0" fill="none" stroke="#262626" stroke-width="2.5" stroke-linecap="round" stroke-linejoin="round" />
<path d="M572.0,640.0 C572.5,660.0 575.3,720.0 575.0,760.0 C574.7,800.0 570.2,840.0 570.0,880.0 C569.8,920.0 573.7,959.2 574.0,1000.0 C574.3,1040.8 572.3,1104.2 572.0,1125.0" fill="none" stroke="#262626" stroke-width="3" stroke-linecap="round" stroke-linejoin="round" />
<path d="M560.0,650.0 C560.5,670.0 563.3,730.0 563.0,770.0 C562.7,810.0 558.2,850.0 558.0,890.0 C557.8,930.0 561.7,971.7 562.0,1010.0 C562.3,1048.3 560.3,1101.7 560.0,1120.0" fill="none" stroke="#cfcfcf" stroke-width="1.6" stroke-linecap="round" stroke-linejoin="round" />
<path d="M568.0,650.0 C568.5,670.0 571.3,730.0 571.0,770.0 C570.7,810.0 566.2,850.0 566.0,890.0 C565.8,930.0 569.7,971.7 570.0,1010.0 C570.3,1048.3 568.3,1101.7 568.0,1120.0" fill="none" stroke="#cfcfcf" stroke-width="1.6" stroke-linecap="round" stroke-linejoin="round" />
<path d="M576.0,650.0 C576.5,670.0 579.3,730.0 579.0,770.0 C578.7,810.0 574.2,850.0 574.0,890.0 C573.8,930.0 577.7,971.7 578.0,1010.0 C578.3,1048.3 576.3,1101.7 576.0,1120.0" fill="none" stroke="#cfcfcf" stroke-width="1.6" stroke-linecap="round" stroke-linejoin="round" />
<polygon points="529.0,626.0 561.0,609.0 582.0,612.0 549.0,627.0" fill="#262626" stroke="none" stroke-width="0" stroke-linejoin="round" />
<polyline points="543.0,624.0 566.0,615.0" fill="none" stroke="#cfcfcf" stroke-width="2.2" stroke-linecap="round" stroke-linejoin="round" />
<polyline points="582.0,612.0 589.0,1130.0" fill="none" stroke="#262626" stroke-width="7" stroke-linecap="round" stroke-linejoin="round" />
<circle cx="561" cy="649" r="5.5" fill="#bbb" stroke="#262626" stroke-width="3.5"/>
<circle cx="569" cy="1042" r="3.5" fill="#bbb" stroke="#262626" stroke-width="3.5"/>
<circle cx="571" cy="1096" r="7" fill="#bbb" stroke="#262626" stroke-width="3.5"/>
</svg>
</body></html>
